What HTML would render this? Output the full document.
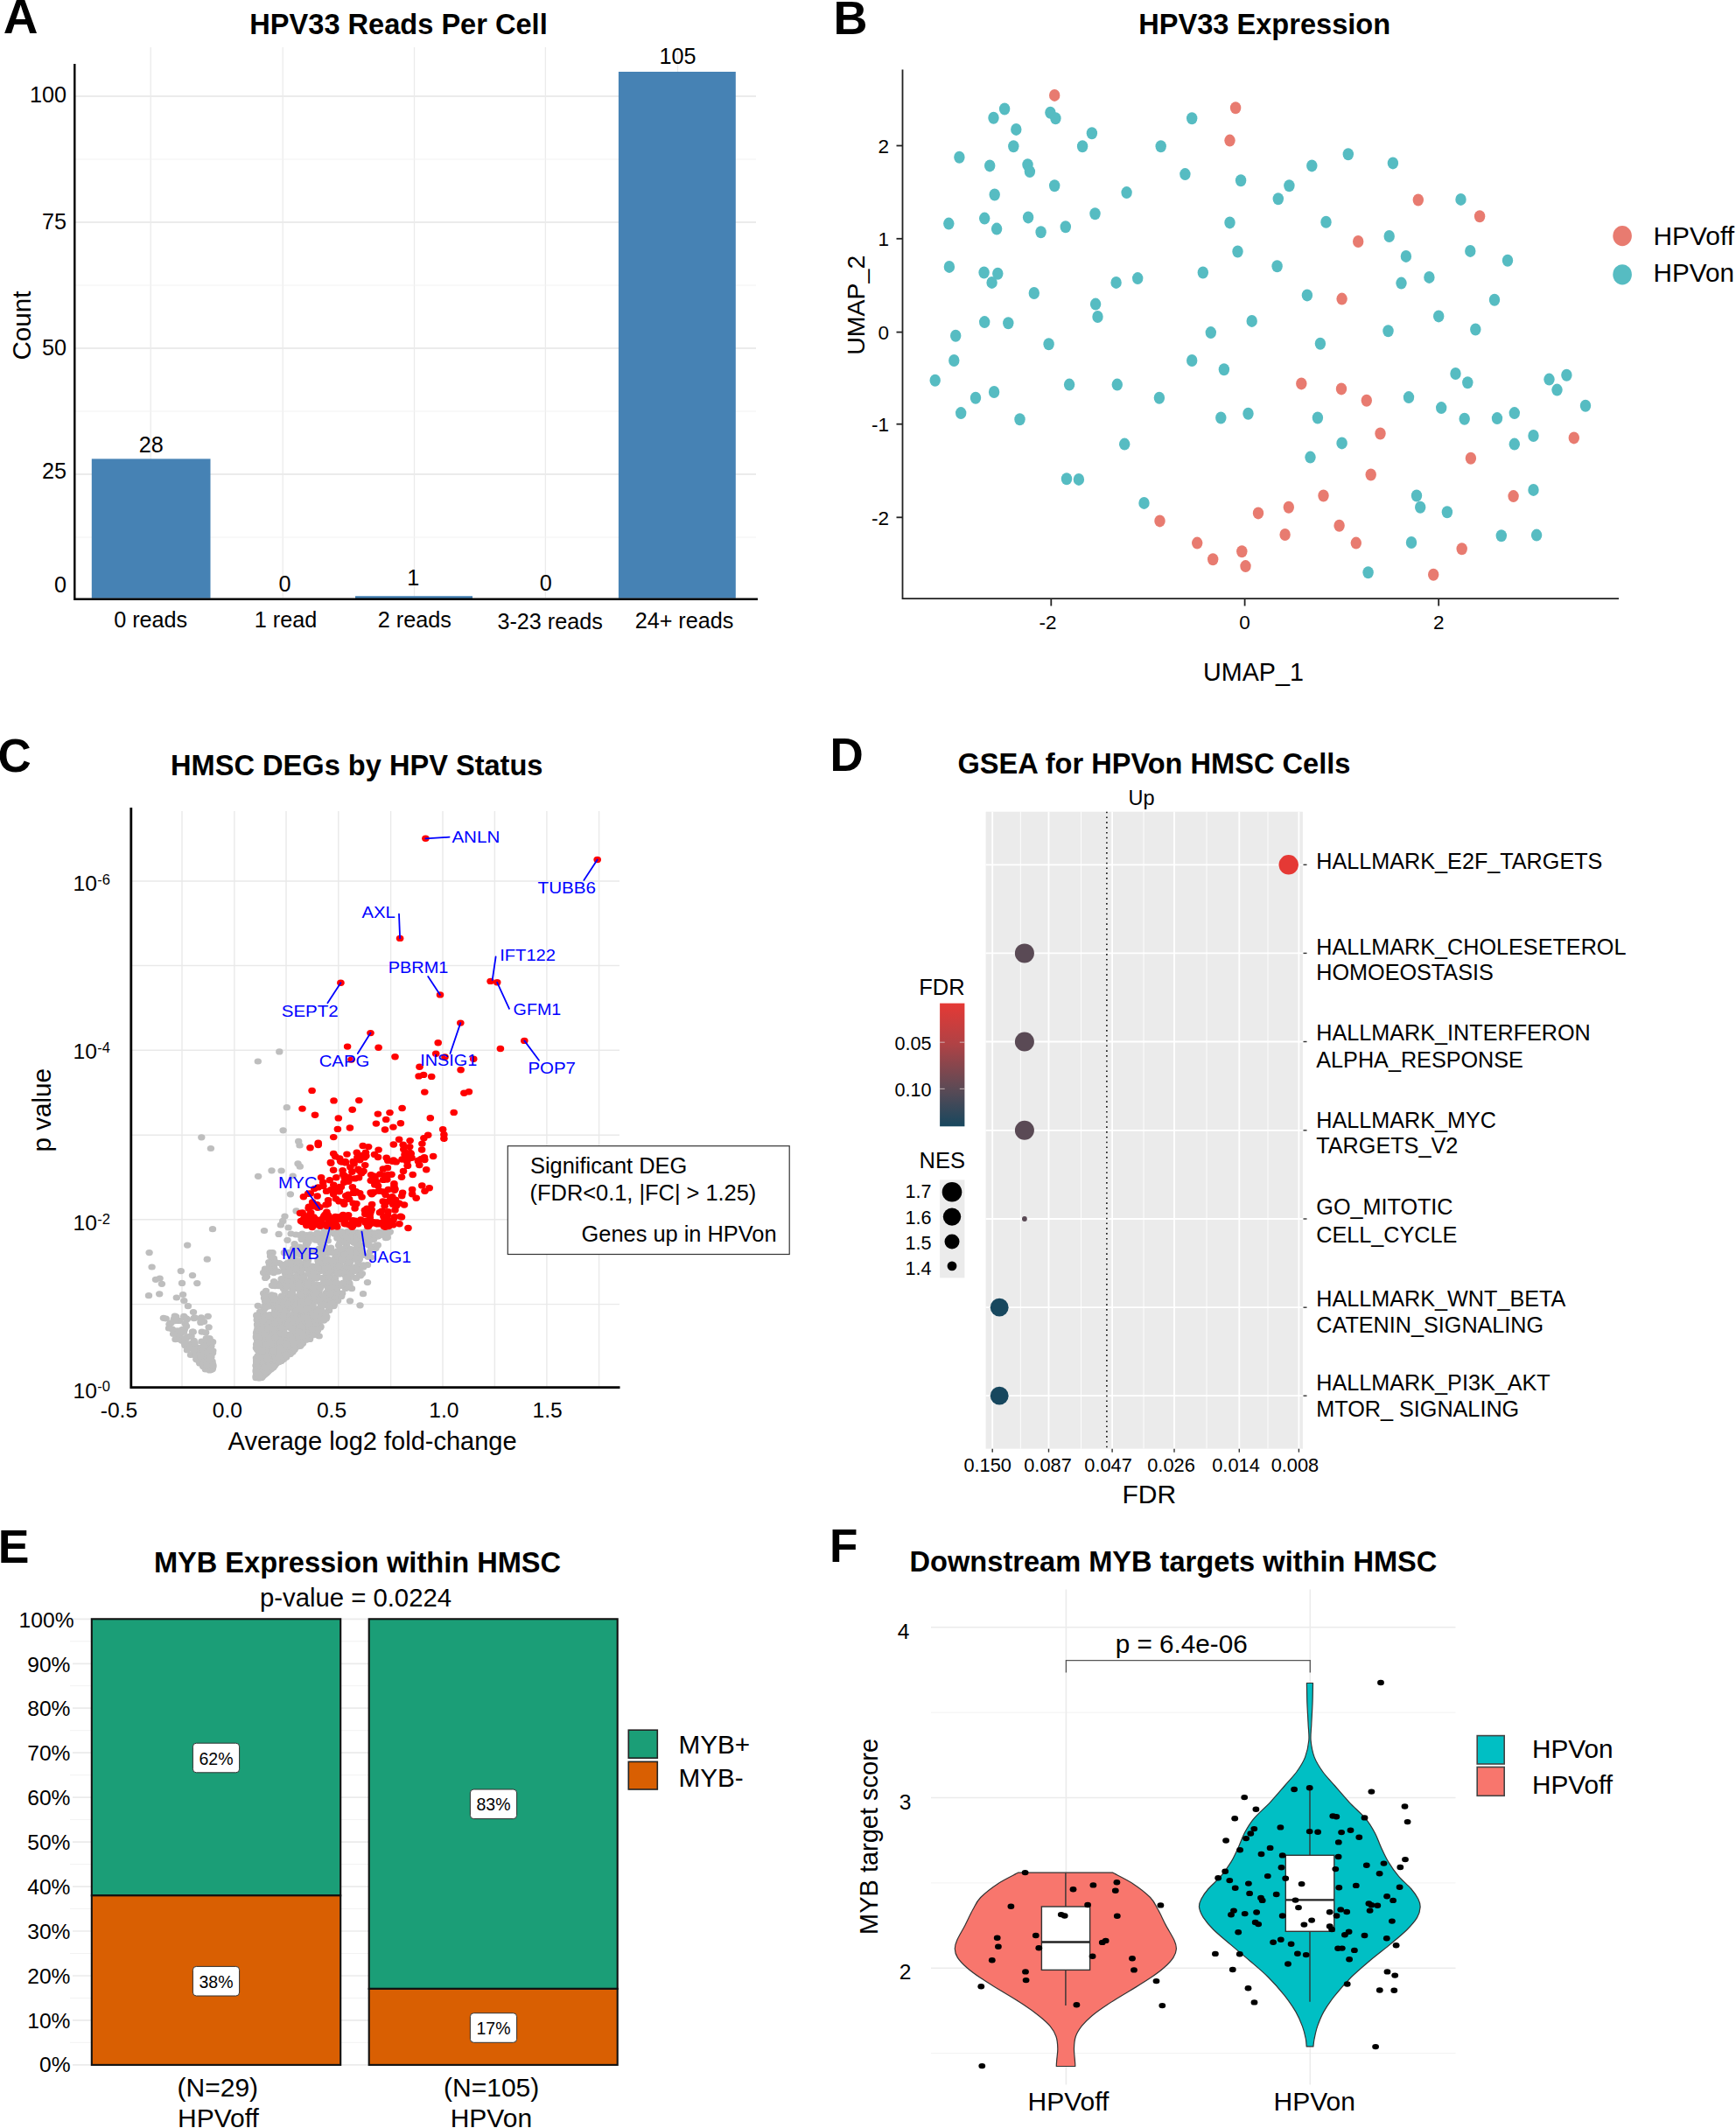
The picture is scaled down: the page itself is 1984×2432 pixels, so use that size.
<!DOCTYPE html>
<html lang="en"><head><meta charset="utf-8"><title>HPV33 HMSC figure</title>
<style>
html,body{margin:0;padding:0;background:#fff}
svg{display:block}
text{font-family:"Liberation Sans",sans-serif}
</style></head><body>
<svg width="1984" height="2432" viewBox="0 0 1984 2432">
<rect width="1984" height="2432" fill="#fff"/>
<g id="pA">
<g stroke="#ebebeb" fill="none">
<line x1="172.2" y1="54" x2="172.2" y2="683" stroke-width="1.3"/>
<line x1="323.2" y1="54" x2="323.2" y2="683" stroke-width="1.3"/>
<line x1="473.5" y1="54" x2="473.5" y2="683" stroke-width="1.3"/>
<line x1="623.4" y1="54" x2="623.4" y2="683" stroke-width="1.3"/>
<line x1="774.5" y1="54" x2="774.5" y2="683" stroke-width="1.3"/>
<line x1="86" y1="542.0" x2="864" y2="542.0" stroke-width="1.8"/>
<line x1="86" y1="398.0" x2="864" y2="398.0" stroke-width="1.8"/>
<line x1="86" y1="254.0" x2="864" y2="254.0" stroke-width="1.8"/>
<line x1="86" y1="110.0" x2="864" y2="110.0" stroke-width="1.8"/>
<line x1="86" y1="614.0" x2="864" y2="614.0" stroke-width="1" stroke="#f2f2f2"/>
<line x1="86" y1="470.0" x2="864" y2="470.0" stroke-width="1" stroke="#f2f2f2"/>
<line x1="86" y1="326.0" x2="864" y2="326.0" stroke-width="1" stroke="#f2f2f2"/>
<line x1="86" y1="182.0" x2="864" y2="182.0" stroke-width="1" stroke="#f2f2f2"/>
</g>
<rect x="104.8" y="524.4" width="135.7" height="159.3" fill="#4682b4"/>
<rect x="406" y="681.2" width="134" height="2.8" fill="#4682b4"/>
<rect x="706.9" y="82" width="133.9" height="601.7" fill="#4682b4"/>
<path d="M85.3 73 V684.8 H866" fill="none" stroke="#000" stroke-width="2.4"/>
<g font-size="25.2" fill="#000">
<text x="76" y="117" text-anchor="end">100</text>
<text x="76" y="261.5" text-anchor="end">75</text>
<text x="76" y="405.8" text-anchor="end">50</text>
<text x="76" y="546.9" text-anchor="end">25</text>
<text x="76" y="677.4" text-anchor="end">0</text>
<text x="172.8" y="516.6" text-anchor="middle">28</text>
<text x="325.5" y="676" text-anchor="middle">0</text>
<text x="472.3" y="669.3" text-anchor="middle">1</text>
<text x="623.7" y="675" text-anchor="middle">0</text>
<text x="774.5" y="73" text-anchor="middle">105</text>
<text x="172.2" y="716.8" text-anchor="middle">0 reads</text>
<text x="326.5" y="717.4" text-anchor="middle">1 read</text>
<text x="473.8" y="717.4" text-anchor="middle">2 reads</text>
<text x="628.6" y="719" text-anchor="middle">3-23 reads</text>
<text x="782" y="718.3" text-anchor="middle">24+ reads</text>
</g>
<text transform="translate(34.5 372) rotate(-90)" font-size="29.7" text-anchor="middle">Count</text>
<text x="455.5" y="38.6" font-size="32.6" font-weight="bold" text-anchor="middle">HPV33 Reads Per Cell</text>
<text x="3.8" y="37.9" font-size="55" font-weight="bold">A</text>
</g>
<g id="pB">
<g fill="#56bcc2"><ellipse cx="1148.1" cy="124.5" rx="6.2" ry="7"/><ellipse cx="1135.5" cy="134.7" rx="6.2" ry="7"/><ellipse cx="1200.4" cy="128.7" rx="6.2" ry="7"/><ellipse cx="1206.4" cy="135.3" rx="6.2" ry="7"/><ellipse cx="1161.3" cy="147.9" rx="6.2" ry="7"/><ellipse cx="1158.3" cy="167.2" rx="6.2" ry="7"/><ellipse cx="1247.9" cy="152.2" rx="6.2" ry="7"/><ellipse cx="1237.1" cy="167.2" rx="6.2" ry="7"/><ellipse cx="1362.2" cy="135.3" rx="6.2" ry="7"/><ellipse cx="1326.7" cy="167.2" rx="6.2" ry="7"/><ellipse cx="1096.4" cy="179.8" rx="6.2" ry="7"/><ellipse cx="1131.2" cy="189.4" rx="6.2" ry="7"/><ellipse cx="1174.5" cy="188.2" rx="6.2" ry="7"/><ellipse cx="1176.9" cy="196.1" rx="6.2" ry="7"/><ellipse cx="1354.4" cy="199.1" rx="6.2" ry="7"/><ellipse cx="1418.1" cy="206.3" rx="6.2" ry="7"/><ellipse cx="1205.2" cy="212.3" rx="6.2" ry="7"/><ellipse cx="1136.7" cy="222.5" rx="6.2" ry="7"/><ellipse cx="1287.6" cy="220.1" rx="6.2" ry="7"/><ellipse cx="1499.3" cy="189.4" rx="6.2" ry="7"/><ellipse cx="1540.8" cy="176.2" rx="6.2" ry="7"/><ellipse cx="1591.9" cy="186.4" rx="6.2" ry="7"/><ellipse cx="1473.4" cy="212.3" rx="6.2" ry="7"/><ellipse cx="1460.8" cy="227.3" rx="6.2" ry="7"/><ellipse cx="1669.5" cy="227.9" rx="6.2" ry="7"/><ellipse cx="1084.3" cy="255.6" rx="6.2" ry="7"/><ellipse cx="1125.2" cy="249.6" rx="6.2" ry="7"/><ellipse cx="1139.1" cy="261.6" rx="6.2" ry="7"/><ellipse cx="1175.1" cy="248.4" rx="6.2" ry="7"/><ellipse cx="1189.6" cy="265.2" rx="6.2" ry="7"/><ellipse cx="1217.8" cy="259.2" rx="6.2" ry="7"/><ellipse cx="1251.5" cy="244.2" rx="6.2" ry="7"/><ellipse cx="1405.5" cy="254.4" rx="6.2" ry="7"/><ellipse cx="1515.5" cy="253.8" rx="6.2" ry="7"/><ellipse cx="1587.7" cy="270.0" rx="6.2" ry="7"/><ellipse cx="1680.3" cy="286.9" rx="6.2" ry="7"/><ellipse cx="1606.9" cy="292.9" rx="6.2" ry="7"/><ellipse cx="1723.0" cy="297.7" rx="6.2" ry="7"/><ellipse cx="1414.5" cy="287.5" rx="6.2" ry="7"/><ellipse cx="1459.6" cy="304.3" rx="6.2" ry="7"/><ellipse cx="1374.8" cy="311.5" rx="6.2" ry="7"/><ellipse cx="1084.9" cy="304.9" rx="6.2" ry="7"/><ellipse cx="1124.6" cy="311.5" rx="6.2" ry="7"/><ellipse cx="1140.3" cy="312.7" rx="6.2" ry="7"/><ellipse cx="1133.6" cy="322.9" rx="6.2" ry="7"/><ellipse cx="1181.8" cy="335.0" rx="6.2" ry="7"/><ellipse cx="1275.6" cy="322.9" rx="6.2" ry="7"/><ellipse cx="1300.2" cy="318.1" rx="6.2" ry="7"/><ellipse cx="1601.5" cy="323.6" rx="6.2" ry="7"/><ellipse cx="1633.4" cy="316.9" rx="6.2" ry="7"/><ellipse cx="1493.9" cy="337.4" rx="6.2" ry="7"/><ellipse cx="1708.0" cy="342.8" rx="6.2" ry="7"/><ellipse cx="1252.1" cy="347.6" rx="6.2" ry="7"/><ellipse cx="1254.5" cy="362.0" rx="6.2" ry="7"/><ellipse cx="1644.2" cy="361.4" rx="6.2" ry="7"/><ellipse cx="1125.2" cy="368.1" rx="6.2" ry="7"/><ellipse cx="1152.3" cy="369.3" rx="6.2" ry="7"/><ellipse cx="1430.7" cy="366.9" rx="6.2" ry="7"/><ellipse cx="1586.5" cy="378.3" rx="6.2" ry="7"/><ellipse cx="1686.3" cy="376.5" rx="6.2" ry="7"/><ellipse cx="1092.2" cy="383.7" rx="6.2" ry="7"/><ellipse cx="1383.8" cy="380.1" rx="6.2" ry="7"/><ellipse cx="1198.6" cy="393.3" rx="6.2" ry="7"/><ellipse cx="1508.9" cy="392.7" rx="6.2" ry="7"/><ellipse cx="1090.3" cy="412.0" rx="6.2" ry="7"/><ellipse cx="1362.2" cy="412.0" rx="6.2" ry="7"/><ellipse cx="1398.9" cy="422.2" rx="6.2" ry="7"/><ellipse cx="1068.7" cy="434.8" rx="6.2" ry="7"/><ellipse cx="1663.5" cy="427.0" rx="6.2" ry="7"/><ellipse cx="1677.3" cy="437.2" rx="6.2" ry="7"/><ellipse cx="1770.5" cy="433.6" rx="6.2" ry="7"/><ellipse cx="1790.4" cy="428.8" rx="6.2" ry="7"/><ellipse cx="1779.5" cy="445.6" rx="6.2" ry="7"/><ellipse cx="1136.1" cy="448.0" rx="6.2" ry="7"/><ellipse cx="1115.0" cy="454.7" rx="6.2" ry="7"/><ellipse cx="1222.1" cy="439.6" rx="6.2" ry="7"/><ellipse cx="1276.8" cy="439.6" rx="6.2" ry="7"/><ellipse cx="1324.9" cy="454.7" rx="6.2" ry="7"/><ellipse cx="1610.0" cy="454.1" rx="6.2" ry="7"/><ellipse cx="1812.0" cy="463.7" rx="6.2" ry="7"/><ellipse cx="1647.2" cy="466.1" rx="6.2" ry="7"/><ellipse cx="1098.2" cy="472.1" rx="6.2" ry="7"/><ellipse cx="1165.5" cy="479.3" rx="6.2" ry="7"/><ellipse cx="1395.3" cy="477.5" rx="6.2" ry="7"/><ellipse cx="1426.5" cy="472.7" rx="6.2" ry="7"/><ellipse cx="1505.9" cy="477.5" rx="6.2" ry="7"/><ellipse cx="1673.7" cy="478.7" rx="6.2" ry="7"/><ellipse cx="1711.0" cy="478.1" rx="6.2" ry="7"/><ellipse cx="1730.8" cy="472.1" rx="6.2" ry="7"/><ellipse cx="1752.5" cy="498.0" rx="6.2" ry="7"/><ellipse cx="1730.8" cy="507.6" rx="6.2" ry="7"/><ellipse cx="1533.6" cy="506.4" rx="6.2" ry="7"/><ellipse cx="1285.2" cy="507.6" rx="6.2" ry="7"/><ellipse cx="1497.5" cy="522.6" rx="6.2" ry="7"/><ellipse cx="1219.0" cy="547.3" rx="6.2" ry="7"/><ellipse cx="1232.9" cy="547.9" rx="6.2" ry="7"/><ellipse cx="1752.5" cy="559.9" rx="6.2" ry="7"/><ellipse cx="1619.0" cy="566.5" rx="6.2" ry="7"/><ellipse cx="1623.2" cy="579.7" rx="6.2" ry="7"/><ellipse cx="1307.5" cy="574.9" rx="6.2" ry="7"/><ellipse cx="1653.9" cy="585.2" rx="6.2" ry="7"/><ellipse cx="1715.8" cy="612.2" rx="6.2" ry="7"/><ellipse cx="1756.1" cy="611.6" rx="6.2" ry="7"/><ellipse cx="1613.0" cy="620.0" rx="6.2" ry="7"/><ellipse cx="1563.6" cy="654.3" rx="6.2" ry="7"/></g>
<g fill="#e87b70"><ellipse cx="1205.2" cy="108.9" rx="6.2" ry="7"/><ellipse cx="1412.1" cy="123.3" rx="6.2" ry="7"/><ellipse cx="1405.5" cy="160.6" rx="6.2" ry="7"/><ellipse cx="1620.8" cy="228.5" rx="6.2" ry="7"/><ellipse cx="1691.1" cy="247.2" rx="6.2" ry="7"/><ellipse cx="1552.2" cy="276.0" rx="6.2" ry="7"/><ellipse cx="1533.6" cy="341.6" rx="6.2" ry="7"/><ellipse cx="1487.3" cy="438.4" rx="6.2" ry="7"/><ellipse cx="1533.0" cy="444.4" rx="6.2" ry="7"/><ellipse cx="1561.8" cy="457.7" rx="6.2" ry="7"/><ellipse cx="1577.5" cy="495.5" rx="6.2" ry="7"/><ellipse cx="1798.8" cy="500.4" rx="6.2" ry="7"/><ellipse cx="1680.9" cy="523.8" rx="6.2" ry="7"/><ellipse cx="1566.7" cy="542.5" rx="6.2" ry="7"/><ellipse cx="1512.5" cy="566.5" rx="6.2" ry="7"/><ellipse cx="1729.6" cy="567.1" rx="6.2" ry="7"/><ellipse cx="1472.8" cy="579.7" rx="6.2" ry="7"/><ellipse cx="1438.0" cy="586.4" rx="6.2" ry="7"/><ellipse cx="1325.5" cy="595.4" rx="6.2" ry="7"/><ellipse cx="1530.6" cy="600.8" rx="6.2" ry="7"/><ellipse cx="1468.6" cy="611.0" rx="6.2" ry="7"/><ellipse cx="1368.2" cy="620.6" rx="6.2" ry="7"/><ellipse cx="1549.8" cy="620.6" rx="6.2" ry="7"/><ellipse cx="1670.7" cy="627.3" rx="6.2" ry="7"/><ellipse cx="1419.3" cy="630.3" rx="6.2" ry="7"/><ellipse cx="1386.2" cy="639.3" rx="6.2" ry="7"/><ellipse cx="1423.5" cy="647.1" rx="6.2" ry="7"/><ellipse cx="1638.2" cy="656.7" rx="6.2" ry="7"/></g>
<path d="M1031.5 79.5 V684.2 H1850" fill="none" stroke="#222" stroke-width="1.8"/>
<g stroke="#222" stroke-width="1.8">
<line x1="1024.5" y1="166.5" x2="1031.5" y2="166.5"/>
<line x1="1024.5" y1="272.8" x2="1031.5" y2="272.8"/>
<line x1="1024.5" y1="379.6" x2="1031.5" y2="379.6"/>
<line x1="1024.5" y1="484.7" x2="1031.5" y2="484.7"/>
<line x1="1024.5" y1="591.3" x2="1031.5" y2="591.3"/>
<line x1="1201.3" y1="684" x2="1201.3" y2="692.5"/>
<line x1="1422.6" y1="684" x2="1422.6" y2="692.5"/>
<line x1="1644.2" y1="684" x2="1644.2" y2="692.5"/>
</g>
<g font-size="22.5">
<text x="1016" y="174.7" text-anchor="end">2</text>
<text x="1016" y="281.0" text-anchor="end">1</text>
<text x="1016" y="387.8" text-anchor="end">0</text>
<text x="1016" y="492.9" text-anchor="end">-1</text>
<text x="1016" y="599.5" text-anchor="end">-2</text>
<text x="1197.5" y="719.3" text-anchor="middle">-2</text>
<text x="1422.6" y="719.3" text-anchor="middle">0</text>
<text x="1644.2" y="719.3" text-anchor="middle">2</text>
</g>
<text x="1432.5" y="777.5" font-size="28.7" text-anchor="middle">UMAP_1</text>
<text transform="translate(987.5 348.8) rotate(-90)" font-size="28.5" text-anchor="middle">UMAP_2</text>
<text x="1445.2" y="39" font-size="32.6" font-weight="bold" text-anchor="middle">HPV33 Expression</text>
<text x="952.6" y="38.8" font-size="54" font-weight="bold">B</text>
<ellipse cx="1854.1" cy="269.6" rx="10.8" ry="11.6" fill="#e87b70"/>
<ellipse cx="1854.1" cy="313.8" rx="10.8" ry="11.6" fill="#56bcc2"/>
<text x="1889.5" y="279.9" font-size="29.9">HPVoff</text>
<text x="1889.5" y="321.5" font-size="29.7">HPVon</text>
</g>
<g id="pC">
<g stroke="#e9e9e9" stroke-width="1.4" fill="none">
<line x1="208" y1="927" x2="208" y2="1585"/>
<line x1="267.9" y1="927" x2="267.9" y2="1585"/>
<line x1="327" y1="927" x2="327" y2="1585"/>
<line x1="386.8" y1="927" x2="386.8" y2="1585"/>
<line x1="446.6" y1="927" x2="446.6" y2="1585"/>
<line x1="506" y1="927" x2="506" y2="1585"/>
<line x1="565.4" y1="927" x2="565.4" y2="1585"/>
<line x1="624.9" y1="927" x2="624.9" y2="1585"/>
<line x1="684.6" y1="927" x2="684.6" y2="1585"/>
<line x1="150" y1="1007" x2="708" y2="1007"/>
<line x1="150" y1="1103.5" x2="708" y2="1103.5"/>
<line x1="150" y1="1200.2" x2="708" y2="1200.2"/>
<line x1="150" y1="1297.2" x2="708" y2="1297.2"/>
<line x1="150" y1="1393.7" x2="708" y2="1393.7"/>
<line x1="150" y1="1490.6" x2="708" y2="1490.6"/>
</g>
<g fill="#bebebe"><ellipse cx="294.8" cy="1213.0" rx="4.2" ry="3.6"/><ellipse cx="319.3" cy="1201.9" rx="4.2" ry="3.6"/><ellipse cx="327.8" cy="1265.7" rx="4.2" ry="3.6"/><ellipse cx="323.6" cy="1291.8" rx="4.2" ry="3.6"/><ellipse cx="341.2" cy="1304.4" rx="4.2" ry="3.6"/><ellipse cx="342.5" cy="1309.0" rx="4.2" ry="3.6"/><ellipse cx="340.5" cy="1329.8" rx="4.2" ry="3.6"/><ellipse cx="342.8" cy="1333.2" rx="4.2" ry="3.6"/><ellipse cx="310.5" cy="1337.8" rx="4.2" ry="3.6"/><ellipse cx="321.6" cy="1338.0" rx="4.2" ry="3.6"/><ellipse cx="295.1" cy="1344.3" rx="4.2" ry="3.6"/><ellipse cx="334.7" cy="1344.0" rx="4.2" ry="3.6"/><ellipse cx="331.9" cy="1364.8" rx="4.2" ry="3.6"/><ellipse cx="338.6" cy="1383.9" rx="4.2" ry="3.6"/><ellipse cx="325.5" cy="1390.0" rx="4.2" ry="3.6"/><ellipse cx="323.2" cy="1395.4" rx="4.2" ry="3.6"/><ellipse cx="320.9" cy="1400.0" rx="4.2" ry="3.6"/><ellipse cx="329.6" cy="1403.0" rx="4.2" ry="3.6"/><ellipse cx="302.0" cy="1406.5" rx="4.2" ry="3.6"/><ellipse cx="318.6" cy="1410.4" rx="4.2" ry="3.6"/><ellipse cx="338.2" cy="1411.0" rx="4.2" ry="3.6"/><ellipse cx="230.3" cy="1299.8" rx="4.2" ry="3.6"/><ellipse cx="240.9" cy="1312.5" rx="4.2" ry="3.6"/><ellipse cx="243.0" cy="1404.7" rx="4.2" ry="3.6"/><ellipse cx="214.2" cy="1423.1" rx="4.2" ry="3.6"/><ellipse cx="170.6" cy="1431.6" rx="4.2" ry="3.6"/><ellipse cx="236.8" cy="1439.2" rx="4.2" ry="3.6"/><ellipse cx="173.6" cy="1448.0" rx="4.2" ry="3.6"/><ellipse cx="206.8" cy="1452.6" rx="4.2" ry="3.6"/><ellipse cx="220.0" cy="1457.6" rx="4.2" ry="3.6"/><ellipse cx="178.0" cy="1462.3" rx="4.2" ry="3.6"/><ellipse cx="182.6" cy="1461.0" rx="4.2" ry="3.6"/><ellipse cx="184.9" cy="1467.3" rx="4.2" ry="3.6"/><ellipse cx="208.0" cy="1466.4" rx="4.2" ry="3.6"/><ellipse cx="225.3" cy="1466.6" rx="4.2" ry="3.6"/><ellipse cx="170.0" cy="1480.7" rx="4.2" ry="3.6"/><ellipse cx="182.2" cy="1478.8" rx="4.2" ry="3.6"/><ellipse cx="201.8" cy="1483.0" rx="4.2" ry="3.6"/><ellipse cx="209.1" cy="1479.5" rx="4.2" ry="3.6"/><ellipse cx="210.3" cy="1486.5" rx="4.2" ry="3.6"/><ellipse cx="214.9" cy="1492.7" rx="4.2" ry="3.6"/><ellipse cx="420.0" cy="1465.6" rx="4.2" ry="3.6"/><ellipse cx="415.0" cy="1478.7" rx="4.2" ry="3.6"/><ellipse cx="411.5" cy="1491.8" rx="4.2" ry="3.6"/><ellipse cx="402.0" cy="1472.7" rx="4.2" ry="3.6"/><ellipse cx="400.0" cy="1486.8" rx="4.2" ry="3.6"/><ellipse cx="364.7" cy="1527.0" rx="4.2" ry="3.6"/><ellipse cx="221.0" cy="1499.5" rx="4.2" ry="3.6"/><ellipse cx="237.7" cy="1504.3" rx="4.2" ry="3.6"/><ellipse cx="222.6" cy="1505.9" rx="4.2" ry="3.6"/><ellipse cx="213.9" cy="1507.6" rx="4.2" ry="3.6"/><ellipse cx="212.5" cy="1506.7" rx="4.2" ry="3.6"/><ellipse cx="202.4" cy="1530.3" rx="4.2" ry="3.6"/><ellipse cx="235.8" cy="1529.7" rx="4.2" ry="3.6"/><ellipse cx="230.0" cy="1505.9" rx="4.2" ry="3.6"/><ellipse cx="227.0" cy="1554.4" rx="4.2" ry="3.6"/><ellipse cx="223.9" cy="1543.3" rx="4.2" ry="3.6"/><ellipse cx="189.7" cy="1507.0" rx="4.2" ry="3.6"/><ellipse cx="227.1" cy="1545.9" rx="4.2" ry="3.6"/><ellipse cx="224.6" cy="1539.9" rx="4.2" ry="3.6"/><ellipse cx="237.0" cy="1553.0" rx="4.2" ry="3.6"/><ellipse cx="225.3" cy="1549.0" rx="4.2" ry="3.6"/><ellipse cx="211.6" cy="1512.6" rx="4.2" ry="3.6"/><ellipse cx="236.6" cy="1545.1" rx="4.2" ry="3.6"/><ellipse cx="232.3" cy="1558.2" rx="4.2" ry="3.6"/><ellipse cx="229.2" cy="1540.4" rx="4.2" ry="3.6"/><ellipse cx="242.5" cy="1555.9" rx="4.2" ry="3.6"/><ellipse cx="243.3" cy="1543.8" rx="4.2" ry="3.6"/><ellipse cx="210.2" cy="1504.4" rx="4.2" ry="3.6"/><ellipse cx="228.2" cy="1557.9" rx="4.2" ry="3.6"/><ellipse cx="239.2" cy="1537.6" rx="4.2" ry="3.6"/><ellipse cx="231.2" cy="1557.4" rx="4.2" ry="3.6"/><ellipse cx="194.5" cy="1512.5" rx="4.2" ry="3.6"/><ellipse cx="229.9" cy="1546.5" rx="4.2" ry="3.6"/><ellipse cx="240.7" cy="1552.1" rx="4.2" ry="3.6"/><ellipse cx="215.4" cy="1527.7" rx="4.2" ry="3.6"/><ellipse cx="213.9" cy="1543.0" rx="4.2" ry="3.6"/><ellipse cx="186.9" cy="1506.3" rx="4.2" ry="3.6"/><ellipse cx="205.0" cy="1509.4" rx="4.2" ry="3.6"/><ellipse cx="237.2" cy="1558.1" rx="4.2" ry="3.6"/><ellipse cx="221.7" cy="1532.4" rx="4.2" ry="3.6"/><ellipse cx="203.9" cy="1509.4" rx="4.2" ry="3.6"/><ellipse cx="227.3" cy="1555.2" rx="4.2" ry="3.6"/><ellipse cx="238.0" cy="1562.9" rx="4.2" ry="3.6"/><ellipse cx="242.1" cy="1564.6" rx="4.2" ry="3.6"/><ellipse cx="208.1" cy="1519.5" rx="4.2" ry="3.6"/><ellipse cx="232.8" cy="1551.6" rx="4.2" ry="3.6"/><ellipse cx="242.0" cy="1565.1" rx="4.2" ry="3.6"/><ellipse cx="238.3" cy="1554.6" rx="4.2" ry="3.6"/><ellipse cx="218.4" cy="1535.6" rx="4.2" ry="3.6"/><ellipse cx="201.2" cy="1504.8" rx="4.2" ry="3.6"/><ellipse cx="242.3" cy="1546.6" rx="4.2" ry="3.6"/><ellipse cx="243.4" cy="1562.0" rx="4.2" ry="3.6"/><ellipse cx="205.7" cy="1526.0" rx="4.2" ry="3.6"/><ellipse cx="241.1" cy="1559.7" rx="4.2" ry="3.6"/><ellipse cx="237.4" cy="1544.1" rx="4.2" ry="3.6"/><ellipse cx="240.8" cy="1544.6" rx="4.2" ry="3.6"/><ellipse cx="230.8" cy="1550.3" rx="4.2" ry="3.6"/><ellipse cx="229.0" cy="1552.7" rx="4.2" ry="3.6"/><ellipse cx="237.0" cy="1564.2" rx="4.2" ry="3.6"/><ellipse cx="240.2" cy="1562.6" rx="4.2" ry="3.6"/><ellipse cx="225.8" cy="1553.8" rx="4.2" ry="3.6"/><ellipse cx="240.0" cy="1564.8" rx="4.2" ry="3.6"/><ellipse cx="211.4" cy="1537.6" rx="4.2" ry="3.6"/><ellipse cx="239.7" cy="1564.2" rx="4.2" ry="3.6"/><ellipse cx="236.3" cy="1561.8" rx="4.2" ry="3.6"/><ellipse cx="228.2" cy="1555.0" rx="4.2" ry="3.6"/><ellipse cx="210.9" cy="1519.3" rx="4.2" ry="3.6"/><ellipse cx="234.3" cy="1560.3" rx="4.2" ry="3.6"/><ellipse cx="240.2" cy="1539.8" rx="4.2" ry="3.6"/><ellipse cx="236.7" cy="1560.8" rx="4.2" ry="3.6"/><ellipse cx="218.9" cy="1538.1" rx="4.2" ry="3.6"/><ellipse cx="235.6" cy="1538.0" rx="4.2" ry="3.6"/><ellipse cx="216.3" cy="1538.3" rx="4.2" ry="3.6"/><ellipse cx="232.3" cy="1551.7" rx="4.2" ry="3.6"/><ellipse cx="241.4" cy="1550.9" rx="4.2" ry="3.6"/><ellipse cx="227.2" cy="1541.6" rx="4.2" ry="3.6"/><ellipse cx="228.2" cy="1546.6" rx="4.2" ry="3.6"/><ellipse cx="241.1" cy="1533.1" rx="4.2" ry="3.6"/><ellipse cx="242.6" cy="1558.2" rx="4.2" ry="3.6"/><ellipse cx="241.4" cy="1538.2" rx="4.2" ry="3.6"/><ellipse cx="198.8" cy="1507.6" rx="4.2" ry="3.6"/><ellipse cx="238.6" cy="1516.8" rx="4.2" ry="3.6"/><ellipse cx="243.1" cy="1533.7" rx="4.2" ry="3.6"/><ellipse cx="203.2" cy="1524.4" rx="4.2" ry="3.6"/><ellipse cx="218.0" cy="1548.5" rx="4.2" ry="3.6"/><ellipse cx="200.5" cy="1530.7" rx="4.2" ry="3.6"/><ellipse cx="227.8" cy="1542.3" rx="4.2" ry="3.6"/><ellipse cx="241.4" cy="1565.1" rx="4.2" ry="3.6"/><ellipse cx="199.8" cy="1509.6" rx="4.2" ry="3.6"/><ellipse cx="227.1" cy="1552.1" rx="4.2" ry="3.6"/><ellipse cx="239.5" cy="1529.6" rx="4.2" ry="3.6"/><ellipse cx="232.8" cy="1538.9" rx="4.2" ry="3.6"/><ellipse cx="221.6" cy="1506.6" rx="4.2" ry="3.6"/><ellipse cx="224.3" cy="1553.5" rx="4.2" ry="3.6"/><ellipse cx="230.6" cy="1507.2" rx="4.2" ry="3.6"/><ellipse cx="193.0" cy="1518.0" rx="4.2" ry="3.6"/><ellipse cx="230.7" cy="1522.2" rx="4.2" ry="3.6"/><ellipse cx="210.6" cy="1534.5" rx="4.2" ry="3.6"/><ellipse cx="199.8" cy="1504.1" rx="4.2" ry="3.6"/><ellipse cx="232.1" cy="1549.2" rx="4.2" ry="3.6"/><ellipse cx="240.8" cy="1532.9" rx="4.2" ry="3.6"/><ellipse cx="232.2" cy="1554.6" rx="4.2" ry="3.6"/><ellipse cx="232.0" cy="1555.6" rx="4.2" ry="3.6"/><ellipse cx="243.0" cy="1546.3" rx="4.2" ry="3.6"/><ellipse cx="237.9" cy="1555.4" rx="4.2" ry="3.6"/><ellipse cx="213.5" cy="1528.5" rx="4.2" ry="3.6"/><ellipse cx="196.9" cy="1519.1" rx="4.2" ry="3.6"/><ellipse cx="241.1" cy="1556.0" rx="4.2" ry="3.6"/><ellipse cx="202.6" cy="1520.8" rx="4.2" ry="3.6"/><ellipse cx="207.6" cy="1531.9" rx="4.2" ry="3.6"/><ellipse cx="210.0" cy="1522.5" rx="4.2" ry="3.6"/><ellipse cx="218.6" cy="1527.0" rx="4.2" ry="3.6"/><ellipse cx="213.0" cy="1515.7" rx="4.2" ry="3.6"/><ellipse cx="235.2" cy="1550.3" rx="4.2" ry="3.6"/><ellipse cx="233.7" cy="1558.4" rx="4.2" ry="3.6"/><ellipse cx="234.9" cy="1565.0" rx="4.2" ry="3.6"/><ellipse cx="237.8" cy="1559.2" rx="4.2" ry="3.6"/><ellipse cx="226.0" cy="1554.2" rx="4.2" ry="3.6"/><ellipse cx="236.9" cy="1534.8" rx="4.2" ry="3.6"/><ellipse cx="235.4" cy="1555.1" rx="4.2" ry="3.6"/><ellipse cx="234.8" cy="1546.0" rx="4.2" ry="3.6"/><ellipse cx="231.6" cy="1542.5" rx="4.2" ry="3.6"/><ellipse cx="231.4" cy="1550.1" rx="4.2" ry="3.6"/><ellipse cx="223.2" cy="1548.9" rx="4.2" ry="3.6"/><ellipse cx="238.2" cy="1564.5" rx="4.2" ry="3.6"/><ellipse cx="230.4" cy="1533.2" rx="4.2" ry="3.6"/><ellipse cx="231.8" cy="1541.9" rx="4.2" ry="3.6"/><ellipse cx="220.7" cy="1522.2" rx="4.2" ry="3.6"/><ellipse cx="234.5" cy="1546.6" rx="4.2" ry="3.6"/><ellipse cx="222.6" cy="1535.5" rx="4.2" ry="3.6"/><ellipse cx="233.1" cy="1510.5" rx="4.2" ry="3.6"/><ellipse cx="242.8" cy="1564.6" rx="4.2" ry="3.6"/><ellipse cx="211.9" cy="1531.3" rx="4.2" ry="3.6"/><ellipse cx="234.1" cy="1562.6" rx="4.2" ry="3.6"/><ellipse cx="229.4" cy="1511.4" rx="4.2" ry="3.6"/><ellipse cx="238.9" cy="1558.9" rx="4.2" ry="3.6"/><ellipse cx="235.8" cy="1559.6" rx="4.2" ry="3.6"/><ellipse cx="235.2" cy="1522.9" rx="4.2" ry="3.6"/><ellipse cx="239.6" cy="1550.3" rx="4.2" ry="3.6"/><ellipse cx="239.7" cy="1561.4" rx="4.2" ry="3.6"/><ellipse cx="239.6" cy="1565.9" rx="4.2" ry="3.6"/><ellipse cx="211.2" cy="1530.0" rx="4.2" ry="3.6"/><ellipse cx="229.7" cy="1509.4" rx="4.2" ry="3.6"/><ellipse cx="234.1" cy="1561.9" rx="4.2" ry="3.6"/><ellipse cx="211.7" cy="1535.2" rx="4.2" ry="3.6"/><ellipse cx="242.2" cy="1563.2" rx="4.2" ry="3.6"/><ellipse cx="240.8" cy="1542.7" rx="4.2" ry="3.6"/><ellipse cx="233.2" cy="1537.6" rx="4.2" ry="3.6"/><ellipse cx="229.6" cy="1549.1" rx="4.2" ry="3.6"/><ellipse cx="221.4" cy="1543.6" rx="4.2" ry="3.6"/><ellipse cx="232.1" cy="1561.4" rx="4.2" ry="3.6"/><ellipse cx="235.7" cy="1564.5" rx="4.2" ry="3.6"/><ellipse cx="220.0" cy="1522.0" rx="4.2" ry="3.6"/><ellipse cx="193.5" cy="1513.5" rx="4.2" ry="3.6"/><ellipse cx="236.2" cy="1560.1" rx="4.2" ry="3.6"/><ellipse cx="243.4" cy="1560.1" rx="4.2" ry="3.6"/><ellipse cx="195.5" cy="1511.8" rx="4.2" ry="3.6"/><ellipse cx="198.1" cy="1524.5" rx="4.2" ry="3.6"/><ellipse cx="229.2" cy="1550.2" rx="4.2" ry="3.6"/><ellipse cx="325.9" cy="1495.5" rx="4.2" ry="3.6"/><ellipse cx="369.3" cy="1429.0" rx="4.2" ry="3.6"/><ellipse cx="299.9" cy="1552.1" rx="4.2" ry="3.6"/><ellipse cx="349.2" cy="1449.5" rx="4.2" ry="3.6"/><ellipse cx="304.5" cy="1567.3" rx="4.2" ry="3.6"/><ellipse cx="305.1" cy="1557.6" rx="4.2" ry="3.6"/><ellipse cx="328.0" cy="1545.9" rx="4.2" ry="3.6"/><ellipse cx="313.4" cy="1449.5" rx="4.2" ry="3.6"/><ellipse cx="352.8" cy="1495.2" rx="4.2" ry="3.6"/><ellipse cx="334.3" cy="1528.5" rx="4.2" ry="3.6"/><ellipse cx="345.8" cy="1484.4" rx="4.2" ry="3.6"/><ellipse cx="304.4" cy="1538.6" rx="4.2" ry="3.6"/><ellipse cx="315.6" cy="1515.8" rx="4.2" ry="3.6"/><ellipse cx="378.2" cy="1450.0" rx="4.2" ry="3.6"/><ellipse cx="324.4" cy="1505.3" rx="4.2" ry="3.6"/><ellipse cx="293.7" cy="1508.4" rx="4.2" ry="3.6"/><ellipse cx="306.4" cy="1555.6" rx="4.2" ry="3.6"/><ellipse cx="323.0" cy="1520.6" rx="4.2" ry="3.6"/><ellipse cx="360.0" cy="1519.4" rx="4.2" ry="3.6"/><ellipse cx="358.4" cy="1413.7" rx="4.2" ry="3.6"/><ellipse cx="306.9" cy="1522.0" rx="4.2" ry="3.6"/><ellipse cx="323.0" cy="1531.4" rx="4.2" ry="3.6"/><ellipse cx="296.1" cy="1570.0" rx="4.2" ry="3.6"/><ellipse cx="361.9" cy="1519.1" rx="4.2" ry="3.6"/><ellipse cx="311.6" cy="1431.7" rx="4.2" ry="3.6"/><ellipse cx="354.1" cy="1530.4" rx="4.2" ry="3.6"/><ellipse cx="294.6" cy="1532.6" rx="4.2" ry="3.6"/><ellipse cx="336.8" cy="1471.2" rx="4.2" ry="3.6"/><ellipse cx="399.3" cy="1466.7" rx="4.2" ry="3.6"/><ellipse cx="295.1" cy="1569.0" rx="4.2" ry="3.6"/><ellipse cx="327.3" cy="1545.2" rx="4.2" ry="3.6"/><ellipse cx="372.8" cy="1416.2" rx="4.2" ry="3.6"/><ellipse cx="296.7" cy="1561.6" rx="4.2" ry="3.6"/><ellipse cx="293.4" cy="1557.8" rx="4.2" ry="3.6"/><ellipse cx="326.5" cy="1543.6" rx="4.2" ry="3.6"/><ellipse cx="313.2" cy="1511.0" rx="4.2" ry="3.6"/><ellipse cx="330.2" cy="1460.9" rx="4.2" ry="3.6"/><ellipse cx="344.1" cy="1534.2" rx="4.2" ry="3.6"/><ellipse cx="293.0" cy="1565.5" rx="4.2" ry="3.6"/><ellipse cx="323.8" cy="1472.5" rx="4.2" ry="3.6"/><ellipse cx="377.6" cy="1490.4" rx="4.2" ry="3.6"/><ellipse cx="326.7" cy="1542.0" rx="4.2" ry="3.6"/><ellipse cx="324.5" cy="1537.1" rx="4.2" ry="3.6"/><ellipse cx="308.0" cy="1449.3" rx="4.2" ry="3.6"/><ellipse cx="320.4" cy="1500.3" rx="4.2" ry="3.6"/><ellipse cx="321.3" cy="1555.5" rx="4.2" ry="3.6"/><ellipse cx="322.7" cy="1526.5" rx="4.2" ry="3.6"/><ellipse cx="357.1" cy="1477.6" rx="4.2" ry="3.6"/><ellipse cx="341.8" cy="1532.9" rx="4.2" ry="3.6"/><ellipse cx="411.9" cy="1428.2" rx="4.2" ry="3.6"/><ellipse cx="323.8" cy="1502.7" rx="4.2" ry="3.6"/><ellipse cx="332.1" cy="1441.3" rx="4.2" ry="3.6"/><ellipse cx="414.7" cy="1433.6" rx="4.2" ry="3.6"/><ellipse cx="313.7" cy="1492.7" rx="4.2" ry="3.6"/><ellipse cx="366.2" cy="1517.1" rx="4.2" ry="3.6"/><ellipse cx="369.5" cy="1487.3" rx="4.2" ry="3.6"/><ellipse cx="293.5" cy="1560.7" rx="4.2" ry="3.6"/><ellipse cx="368.4" cy="1505.4" rx="4.2" ry="3.6"/><ellipse cx="307.3" cy="1552.6" rx="4.2" ry="3.6"/><ellipse cx="341.2" cy="1537.9" rx="4.2" ry="3.6"/><ellipse cx="342.4" cy="1507.6" rx="4.2" ry="3.6"/><ellipse cx="314.3" cy="1469.6" rx="4.2" ry="3.6"/><ellipse cx="373.3" cy="1450.6" rx="4.2" ry="3.6"/><ellipse cx="306.0" cy="1521.3" rx="4.2" ry="3.6"/><ellipse cx="400.3" cy="1442.0" rx="4.2" ry="3.6"/><ellipse cx="347.0" cy="1499.9" rx="4.2" ry="3.6"/><ellipse cx="390.3" cy="1435.3" rx="4.2" ry="3.6"/><ellipse cx="362.5" cy="1460.2" rx="4.2" ry="3.6"/><ellipse cx="380.9" cy="1477.5" rx="4.2" ry="3.6"/><ellipse cx="375.7" cy="1478.8" rx="4.2" ry="3.6"/><ellipse cx="306.1" cy="1555.4" rx="4.2" ry="3.6"/><ellipse cx="386.7" cy="1410.5" rx="4.2" ry="3.6"/><ellipse cx="294.7" cy="1559.9" rx="4.2" ry="3.6"/><ellipse cx="350.8" cy="1469.9" rx="4.2" ry="3.6"/><ellipse cx="294.9" cy="1569.5" rx="4.2" ry="3.6"/><ellipse cx="308.5" cy="1565.5" rx="4.2" ry="3.6"/><ellipse cx="307.9" cy="1559.0" rx="4.2" ry="3.6"/><ellipse cx="401.9" cy="1434.8" rx="4.2" ry="3.6"/><ellipse cx="326.8" cy="1494.5" rx="4.2" ry="3.6"/><ellipse cx="418.9" cy="1414.4" rx="4.2" ry="3.6"/><ellipse cx="336.6" cy="1508.1" rx="4.2" ry="3.6"/><ellipse cx="346.8" cy="1459.1" rx="4.2" ry="3.6"/><ellipse cx="359.8" cy="1479.1" rx="4.2" ry="3.6"/><ellipse cx="314.5" cy="1489.7" rx="4.2" ry="3.6"/><ellipse cx="316.0" cy="1538.3" rx="4.2" ry="3.6"/><ellipse cx="303.0" cy="1487.0" rx="4.2" ry="3.6"/><ellipse cx="394.7" cy="1471.1" rx="4.2" ry="3.6"/><ellipse cx="327.2" cy="1551.1" rx="4.2" ry="3.6"/><ellipse cx="301.1" cy="1544.1" rx="4.2" ry="3.6"/><ellipse cx="415.8" cy="1434.5" rx="4.2" ry="3.6"/><ellipse cx="298.9" cy="1544.2" rx="4.2" ry="3.6"/><ellipse cx="297.0" cy="1561.6" rx="4.2" ry="3.6"/><ellipse cx="321.6" cy="1492.5" rx="4.2" ry="3.6"/><ellipse cx="356.7" cy="1521.5" rx="4.2" ry="3.6"/><ellipse cx="298.4" cy="1539.1" rx="4.2" ry="3.6"/><ellipse cx="320.1" cy="1514.3" rx="4.2" ry="3.6"/><ellipse cx="341.7" cy="1500.7" rx="4.2" ry="3.6"/><ellipse cx="377.3" cy="1473.8" rx="4.2" ry="3.6"/><ellipse cx="297.0" cy="1573.4" rx="4.2" ry="3.6"/><ellipse cx="316.6" cy="1535.7" rx="4.2" ry="3.6"/><ellipse cx="295.6" cy="1532.2" rx="4.2" ry="3.6"/><ellipse cx="346.6" cy="1505.8" rx="4.2" ry="3.6"/><ellipse cx="326.5" cy="1510.9" rx="4.2" ry="3.6"/><ellipse cx="296.1" cy="1557.6" rx="4.2" ry="3.6"/><ellipse cx="294.5" cy="1517.1" rx="4.2" ry="3.6"/><ellipse cx="372.7" cy="1445.5" rx="4.2" ry="3.6"/><ellipse cx="378.8" cy="1442.1" rx="4.2" ry="3.6"/><ellipse cx="422.8" cy="1430.5" rx="4.2" ry="3.6"/><ellipse cx="317.4" cy="1553.5" rx="4.2" ry="3.6"/><ellipse cx="322.1" cy="1501.9" rx="4.2" ry="3.6"/><ellipse cx="411.3" cy="1449.5" rx="4.2" ry="3.6"/><ellipse cx="328.1" cy="1496.8" rx="4.2" ry="3.6"/><ellipse cx="409.6" cy="1417.7" rx="4.2" ry="3.6"/><ellipse cx="372.4" cy="1500.0" rx="4.2" ry="3.6"/><ellipse cx="377.1" cy="1441.3" rx="4.2" ry="3.6"/><ellipse cx="354.0" cy="1515.1" rx="4.2" ry="3.6"/><ellipse cx="333.3" cy="1459.7" rx="4.2" ry="3.6"/><ellipse cx="314.4" cy="1556.5" rx="4.2" ry="3.6"/><ellipse cx="363.1" cy="1485.7" rx="4.2" ry="3.6"/><ellipse cx="313.1" cy="1445.7" rx="4.2" ry="3.6"/><ellipse cx="351.8" cy="1524.1" rx="4.2" ry="3.6"/><ellipse cx="366.3" cy="1452.4" rx="4.2" ry="3.6"/><ellipse cx="318.4" cy="1539.7" rx="4.2" ry="3.6"/><ellipse cx="365.4" cy="1515.2" rx="4.2" ry="3.6"/><ellipse cx="293.1" cy="1555.0" rx="4.2" ry="3.6"/><ellipse cx="311.8" cy="1532.6" rx="4.2" ry="3.6"/><ellipse cx="345.7" cy="1513.3" rx="4.2" ry="3.6"/><ellipse cx="297.1" cy="1571.5" rx="4.2" ry="3.6"/><ellipse cx="352.4" cy="1524.5" rx="4.2" ry="3.6"/><ellipse cx="329.0" cy="1529.0" rx="4.2" ry="3.6"/><ellipse cx="378.1" cy="1443.4" rx="4.2" ry="3.6"/><ellipse cx="296.0" cy="1560.1" rx="4.2" ry="3.6"/><ellipse cx="424.2" cy="1425.8" rx="4.2" ry="3.6"/><ellipse cx="308.7" cy="1431.7" rx="4.2" ry="3.6"/><ellipse cx="337.2" cy="1523.7" rx="4.2" ry="3.6"/><ellipse cx="296.7" cy="1531.0" rx="4.2" ry="3.6"/><ellipse cx="294.4" cy="1556.8" rx="4.2" ry="3.6"/><ellipse cx="313.8" cy="1560.7" rx="4.2" ry="3.6"/><ellipse cx="314.7" cy="1442.4" rx="4.2" ry="3.6"/><ellipse cx="322.4" cy="1549.6" rx="4.2" ry="3.6"/><ellipse cx="318.8" cy="1545.8" rx="4.2" ry="3.6"/><ellipse cx="340.6" cy="1442.2" rx="4.2" ry="3.6"/><ellipse cx="350.5" cy="1411.5" rx="4.2" ry="3.6"/><ellipse cx="316.9" cy="1527.5" rx="4.2" ry="3.6"/><ellipse cx="298.8" cy="1569.0" rx="4.2" ry="3.6"/><ellipse cx="295.3" cy="1511.3" rx="4.2" ry="3.6"/><ellipse cx="369.5" cy="1480.9" rx="4.2" ry="3.6"/><ellipse cx="329.5" cy="1525.7" rx="4.2" ry="3.6"/><ellipse cx="295.7" cy="1552.0" rx="4.2" ry="3.6"/><ellipse cx="346.0" cy="1535.3" rx="4.2" ry="3.6"/><ellipse cx="337.9" cy="1490.0" rx="4.2" ry="3.6"/><ellipse cx="363.9" cy="1438.8" rx="4.2" ry="3.6"/><ellipse cx="303.1" cy="1546.9" rx="4.2" ry="3.6"/><ellipse cx="408.6" cy="1421.5" rx="4.2" ry="3.6"/><ellipse cx="323.7" cy="1539.4" rx="4.2" ry="3.6"/><ellipse cx="420.8" cy="1422.4" rx="4.2" ry="3.6"/><ellipse cx="327.2" cy="1491.7" rx="4.2" ry="3.6"/><ellipse cx="357.2" cy="1447.0" rx="4.2" ry="3.6"/><ellipse cx="335.1" cy="1534.0" rx="4.2" ry="3.6"/><ellipse cx="334.1" cy="1466.2" rx="4.2" ry="3.6"/><ellipse cx="317.6" cy="1548.8" rx="4.2" ry="3.6"/><ellipse cx="303.2" cy="1504.7" rx="4.2" ry="3.6"/><ellipse cx="299.5" cy="1555.8" rx="4.2" ry="3.6"/><ellipse cx="356.4" cy="1462.5" rx="4.2" ry="3.6"/><ellipse cx="299.1" cy="1529.7" rx="4.2" ry="3.6"/><ellipse cx="327.7" cy="1540.7" rx="4.2" ry="3.6"/><ellipse cx="381.1" cy="1440.8" rx="4.2" ry="3.6"/><ellipse cx="349.2" cy="1442.5" rx="4.2" ry="3.6"/><ellipse cx="376.0" cy="1474.6" rx="4.2" ry="3.6"/><ellipse cx="350.1" cy="1491.6" rx="4.2" ry="3.6"/><ellipse cx="380.6" cy="1431.7" rx="4.2" ry="3.6"/><ellipse cx="346.8" cy="1531.7" rx="4.2" ry="3.6"/><ellipse cx="354.4" cy="1503.9" rx="4.2" ry="3.6"/><ellipse cx="329.1" cy="1537.3" rx="4.2" ry="3.6"/><ellipse cx="338.6" cy="1521.5" rx="4.2" ry="3.6"/><ellipse cx="369.3" cy="1460.3" rx="4.2" ry="3.6"/><ellipse cx="372.5" cy="1478.1" rx="4.2" ry="3.6"/><ellipse cx="312.0" cy="1513.1" rx="4.2" ry="3.6"/><ellipse cx="352.7" cy="1484.0" rx="4.2" ry="3.6"/><ellipse cx="359.6" cy="1520.8" rx="4.2" ry="3.6"/><ellipse cx="350.3" cy="1517.3" rx="4.2" ry="3.6"/><ellipse cx="382.2" cy="1489.8" rx="4.2" ry="3.6"/><ellipse cx="301.3" cy="1565.1" rx="4.2" ry="3.6"/><ellipse cx="337.3" cy="1504.0" rx="4.2" ry="3.6"/><ellipse cx="349.8" cy="1493.5" rx="4.2" ry="3.6"/><ellipse cx="329.0" cy="1495.1" rx="4.2" ry="3.6"/><ellipse cx="386.0" cy="1443.1" rx="4.2" ry="3.6"/><ellipse cx="299.4" cy="1535.4" rx="4.2" ry="3.6"/><ellipse cx="364.2" cy="1478.2" rx="4.2" ry="3.6"/><ellipse cx="301.5" cy="1565.0" rx="4.2" ry="3.6"/><ellipse cx="310.8" cy="1541.8" rx="4.2" ry="3.6"/><ellipse cx="328.5" cy="1513.9" rx="4.2" ry="3.6"/><ellipse cx="420.0" cy="1445.7" rx="4.2" ry="3.6"/><ellipse cx="354.7" cy="1514.7" rx="4.2" ry="3.6"/><ellipse cx="320.7" cy="1486.2" rx="4.2" ry="3.6"/><ellipse cx="410.7" cy="1428.9" rx="4.2" ry="3.6"/><ellipse cx="302.3" cy="1550.1" rx="4.2" ry="3.6"/><ellipse cx="352.2" cy="1450.3" rx="4.2" ry="3.6"/><ellipse cx="408.2" cy="1408.5" rx="4.2" ry="3.6"/><ellipse cx="337.2" cy="1448.9" rx="4.2" ry="3.6"/><ellipse cx="357.4" cy="1479.6" rx="4.2" ry="3.6"/><ellipse cx="299.7" cy="1538.9" rx="4.2" ry="3.6"/><ellipse cx="294.0" cy="1513.7" rx="4.2" ry="3.6"/><ellipse cx="302.1" cy="1566.9" rx="4.2" ry="3.6"/><ellipse cx="310.6" cy="1537.6" rx="4.2" ry="3.6"/><ellipse cx="312.1" cy="1559.0" rx="4.2" ry="3.6"/><ellipse cx="309.3" cy="1556.8" rx="4.2" ry="3.6"/><ellipse cx="357.6" cy="1519.6" rx="4.2" ry="3.6"/><ellipse cx="300.3" cy="1548.1" rx="4.2" ry="3.6"/><ellipse cx="357.3" cy="1496.6" rx="4.2" ry="3.6"/><ellipse cx="308.8" cy="1555.4" rx="4.2" ry="3.6"/><ellipse cx="370.7" cy="1417.8" rx="4.2" ry="3.6"/><ellipse cx="338.5" cy="1490.1" rx="4.2" ry="3.6"/><ellipse cx="292.9" cy="1552.1" rx="4.2" ry="3.6"/><ellipse cx="346.0" cy="1486.1" rx="4.2" ry="3.6"/><ellipse cx="307.0" cy="1548.4" rx="4.2" ry="3.6"/><ellipse cx="293.5" cy="1568.4" rx="4.2" ry="3.6"/><ellipse cx="295.0" cy="1514.2" rx="4.2" ry="3.6"/><ellipse cx="359.0" cy="1522.0" rx="4.2" ry="3.6"/><ellipse cx="297.3" cy="1571.9" rx="4.2" ry="3.6"/><ellipse cx="293.5" cy="1557.9" rx="4.2" ry="3.6"/><ellipse cx="318.9" cy="1512.4" rx="4.2" ry="3.6"/><ellipse cx="348.1" cy="1469.1" rx="4.2" ry="3.6"/><ellipse cx="303.8" cy="1536.7" rx="4.2" ry="3.6"/><ellipse cx="350.0" cy="1478.5" rx="4.2" ry="3.6"/><ellipse cx="394.0" cy="1456.9" rx="4.2" ry="3.6"/><ellipse cx="317.4" cy="1492.1" rx="4.2" ry="3.6"/><ellipse cx="299.4" cy="1570.8" rx="4.2" ry="3.6"/><ellipse cx="334.0" cy="1463.3" rx="4.2" ry="3.6"/><ellipse cx="344.2" cy="1505.9" rx="4.2" ry="3.6"/><ellipse cx="297.2" cy="1499.1" rx="4.2" ry="3.6"/><ellipse cx="344.6" cy="1509.7" rx="4.2" ry="3.6"/><ellipse cx="306.9" cy="1559.9" rx="4.2" ry="3.6"/><ellipse cx="346.3" cy="1512.7" rx="4.2" ry="3.6"/><ellipse cx="307.9" cy="1521.7" rx="4.2" ry="3.6"/><ellipse cx="365.9" cy="1484.5" rx="4.2" ry="3.6"/><ellipse cx="307.4" cy="1560.7" rx="4.2" ry="3.6"/><ellipse cx="325.6" cy="1545.4" rx="4.2" ry="3.6"/><ellipse cx="336.7" cy="1451.1" rx="4.2" ry="3.6"/><ellipse cx="347.1" cy="1461.2" rx="4.2" ry="3.6"/><ellipse cx="293.6" cy="1564.0" rx="4.2" ry="3.6"/><ellipse cx="368.2" cy="1504.1" rx="4.2" ry="3.6"/><ellipse cx="367.2" cy="1410.4" rx="4.2" ry="3.6"/><ellipse cx="309.7" cy="1564.6" rx="4.2" ry="3.6"/><ellipse cx="319.2" cy="1443.5" rx="4.2" ry="3.6"/><ellipse cx="403.5" cy="1408.8" rx="4.2" ry="3.6"/><ellipse cx="293.6" cy="1569.4" rx="4.2" ry="3.6"/><ellipse cx="390.6" cy="1448.5" rx="4.2" ry="3.6"/><ellipse cx="409.9" cy="1416.4" rx="4.2" ry="3.6"/><ellipse cx="318.2" cy="1550.9" rx="4.2" ry="3.6"/><ellipse cx="347.1" cy="1513.0" rx="4.2" ry="3.6"/><ellipse cx="297.3" cy="1563.7" rx="4.2" ry="3.6"/><ellipse cx="293.5" cy="1527.8" rx="4.2" ry="3.6"/><ellipse cx="353.6" cy="1516.7" rx="4.2" ry="3.6"/><ellipse cx="380.7" cy="1459.9" rx="4.2" ry="3.6"/><ellipse cx="309.1" cy="1551.8" rx="4.2" ry="3.6"/><ellipse cx="358.2" cy="1469.4" rx="4.2" ry="3.6"/><ellipse cx="303.2" cy="1521.0" rx="4.2" ry="3.6"/><ellipse cx="365.7" cy="1468.7" rx="4.2" ry="3.6"/><ellipse cx="334.0" cy="1477.8" rx="4.2" ry="3.6"/><ellipse cx="305.1" cy="1565.8" rx="4.2" ry="3.6"/><ellipse cx="349.5" cy="1525.4" rx="4.2" ry="3.6"/><ellipse cx="370.0" cy="1509.2" rx="4.2" ry="3.6"/><ellipse cx="317.4" cy="1508.4" rx="4.2" ry="3.6"/><ellipse cx="303.2" cy="1556.3" rx="4.2" ry="3.6"/><ellipse cx="363.9" cy="1508.5" rx="4.2" ry="3.6"/><ellipse cx="353.1" cy="1478.6" rx="4.2" ry="3.6"/><ellipse cx="293.8" cy="1556.2" rx="4.2" ry="3.6"/><ellipse cx="331.0" cy="1543.6" rx="4.2" ry="3.6"/><ellipse cx="357.5" cy="1522.3" rx="4.2" ry="3.6"/><ellipse cx="375.3" cy="1447.1" rx="4.2" ry="3.6"/><ellipse cx="312.5" cy="1485.7" rx="4.2" ry="3.6"/><ellipse cx="337.9" cy="1533.4" rx="4.2" ry="3.6"/><ellipse cx="307.6" cy="1555.8" rx="4.2" ry="3.6"/><ellipse cx="308.1" cy="1506.4" rx="4.2" ry="3.6"/><ellipse cx="389.9" cy="1438.2" rx="4.2" ry="3.6"/><ellipse cx="326.3" cy="1502.3" rx="4.2" ry="3.6"/><ellipse cx="300.4" cy="1539.5" rx="4.2" ry="3.6"/><ellipse cx="354.5" cy="1465.6" rx="4.2" ry="3.6"/><ellipse cx="345.2" cy="1489.2" rx="4.2" ry="3.6"/><ellipse cx="314.4" cy="1538.1" rx="4.2" ry="3.6"/><ellipse cx="336.5" cy="1536.1" rx="4.2" ry="3.6"/><ellipse cx="304.6" cy="1450.4" rx="4.2" ry="3.6"/><ellipse cx="312.9" cy="1438.2" rx="4.2" ry="3.6"/><ellipse cx="365.9" cy="1501.1" rx="4.2" ry="3.6"/><ellipse cx="306.7" cy="1566.2" rx="4.2" ry="3.6"/><ellipse cx="324.5" cy="1507.9" rx="4.2" ry="3.6"/><ellipse cx="295.9" cy="1568.2" rx="4.2" ry="3.6"/><ellipse cx="364.9" cy="1515.0" rx="4.2" ry="3.6"/><ellipse cx="342.8" cy="1473.7" rx="4.2" ry="3.6"/><ellipse cx="304.5" cy="1569.3" rx="4.2" ry="3.6"/><ellipse cx="347.6" cy="1414.5" rx="4.2" ry="3.6"/><ellipse cx="315.2" cy="1558.8" rx="4.2" ry="3.6"/><ellipse cx="411.7" cy="1415.9" rx="4.2" ry="3.6"/><ellipse cx="366.5" cy="1516.0" rx="4.2" ry="3.6"/><ellipse cx="314.2" cy="1521.0" rx="4.2" ry="3.6"/><ellipse cx="298.6" cy="1534.6" rx="4.2" ry="3.6"/><ellipse cx="333.0" cy="1436.2" rx="4.2" ry="3.6"/><ellipse cx="293.7" cy="1521.2" rx="4.2" ry="3.6"/><ellipse cx="296.5" cy="1556.4" rx="4.2" ry="3.6"/><ellipse cx="327.5" cy="1512.9" rx="4.2" ry="3.6"/><ellipse cx="312.6" cy="1545.5" rx="4.2" ry="3.6"/><ellipse cx="332.8" cy="1431.8" rx="4.2" ry="3.6"/><ellipse cx="329.3" cy="1527.2" rx="4.2" ry="3.6"/><ellipse cx="301.1" cy="1553.4" rx="4.2" ry="3.6"/><ellipse cx="398.8" cy="1461.1" rx="4.2" ry="3.6"/><ellipse cx="293.1" cy="1571.4" rx="4.2" ry="3.6"/><ellipse cx="308.1" cy="1519.6" rx="4.2" ry="3.6"/><ellipse cx="329.6" cy="1455.8" rx="4.2" ry="3.6"/><ellipse cx="294.6" cy="1562.5" rx="4.2" ry="3.6"/><ellipse cx="294.1" cy="1557.7" rx="4.2" ry="3.6"/><ellipse cx="411.1" cy="1457.0" rx="4.2" ry="3.6"/><ellipse cx="308.1" cy="1542.8" rx="4.2" ry="3.6"/><ellipse cx="421.3" cy="1408.3" rx="4.2" ry="3.6"/><ellipse cx="371.4" cy="1444.5" rx="4.2" ry="3.6"/><ellipse cx="398.6" cy="1438.1" rx="4.2" ry="3.6"/><ellipse cx="311.2" cy="1440.9" rx="4.2" ry="3.6"/><ellipse cx="331.8" cy="1509.6" rx="4.2" ry="3.6"/><ellipse cx="377.2" cy="1442.4" rx="4.2" ry="3.6"/><ellipse cx="318.4" cy="1543.5" rx="4.2" ry="3.6"/><ellipse cx="403.0" cy="1419.0" rx="4.2" ry="3.6"/><ellipse cx="296.3" cy="1528.5" rx="4.2" ry="3.6"/><ellipse cx="374.2" cy="1487.6" rx="4.2" ry="3.6"/><ellipse cx="405.9" cy="1439.1" rx="4.2" ry="3.6"/><ellipse cx="349.9" cy="1435.3" rx="4.2" ry="3.6"/><ellipse cx="384.2" cy="1408.8" rx="4.2" ry="3.6"/><ellipse cx="330.0" cy="1544.4" rx="4.2" ry="3.6"/><ellipse cx="318.2" cy="1526.8" rx="4.2" ry="3.6"/><ellipse cx="339.7" cy="1490.6" rx="4.2" ry="3.6"/><ellipse cx="322.7" cy="1445.4" rx="4.2" ry="3.6"/><ellipse cx="400.6" cy="1449.8" rx="4.2" ry="3.6"/><ellipse cx="396.1" cy="1424.1" rx="4.2" ry="3.6"/><ellipse cx="392.1" cy="1411.0" rx="4.2" ry="3.6"/><ellipse cx="354.6" cy="1495.3" rx="4.2" ry="3.6"/><ellipse cx="315.6" cy="1553.2" rx="4.2" ry="3.6"/><ellipse cx="368.3" cy="1428.5" rx="4.2" ry="3.6"/><ellipse cx="327.5" cy="1495.8" rx="4.2" ry="3.6"/><ellipse cx="310.1" cy="1537.7" rx="4.2" ry="3.6"/><ellipse cx="334.4" cy="1542.3" rx="4.2" ry="3.6"/><ellipse cx="294.6" cy="1549.6" rx="4.2" ry="3.6"/><ellipse cx="305.1" cy="1568.0" rx="4.2" ry="3.6"/><ellipse cx="357.6" cy="1478.5" rx="4.2" ry="3.6"/><ellipse cx="294.8" cy="1492.3" rx="4.2" ry="3.6"/><ellipse cx="301.4" cy="1569.9" rx="4.2" ry="3.6"/><ellipse cx="354.4" cy="1513.7" rx="4.2" ry="3.6"/><ellipse cx="293.6" cy="1555.7" rx="4.2" ry="3.6"/><ellipse cx="381.2" cy="1452.4" rx="4.2" ry="3.6"/><ellipse cx="364.0" cy="1449.8" rx="4.2" ry="3.6"/><ellipse cx="296.8" cy="1566.8" rx="4.2" ry="3.6"/><ellipse cx="301.8" cy="1516.1" rx="4.2" ry="3.6"/><ellipse cx="299.6" cy="1567.7" rx="4.2" ry="3.6"/><ellipse cx="343.4" cy="1485.9" rx="4.2" ry="3.6"/><ellipse cx="325.6" cy="1475.9" rx="4.2" ry="3.6"/><ellipse cx="337.6" cy="1509.9" rx="4.2" ry="3.6"/><ellipse cx="389.8" cy="1441.6" rx="4.2" ry="3.6"/><ellipse cx="344.9" cy="1499.5" rx="4.2" ry="3.6"/><ellipse cx="326.8" cy="1459.9" rx="4.2" ry="3.6"/><ellipse cx="327.0" cy="1493.6" rx="4.2" ry="3.6"/><ellipse cx="368.9" cy="1447.8" rx="4.2" ry="3.6"/><ellipse cx="413.9" cy="1455.6" rx="4.2" ry="3.6"/><ellipse cx="301.0" cy="1536.9" rx="4.2" ry="3.6"/><ellipse cx="306.6" cy="1553.5" rx="4.2" ry="3.6"/><ellipse cx="302.0" cy="1531.4" rx="4.2" ry="3.6"/><ellipse cx="370.0" cy="1466.9" rx="4.2" ry="3.6"/><ellipse cx="322.4" cy="1549.9" rx="4.2" ry="3.6"/><ellipse cx="337.4" cy="1531.4" rx="4.2" ry="3.6"/><ellipse cx="366.2" cy="1487.4" rx="4.2" ry="3.6"/><ellipse cx="295.4" cy="1560.8" rx="4.2" ry="3.6"/><ellipse cx="413.3" cy="1408.7" rx="4.2" ry="3.6"/><ellipse cx="372.9" cy="1477.8" rx="4.2" ry="3.6"/><ellipse cx="322.7" cy="1509.4" rx="4.2" ry="3.6"/><ellipse cx="362.1" cy="1484.5" rx="4.2" ry="3.6"/><ellipse cx="353.6" cy="1473.2" rx="4.2" ry="3.6"/><ellipse cx="333.1" cy="1491.4" rx="4.2" ry="3.6"/><ellipse cx="300.0" cy="1505.1" rx="4.2" ry="3.6"/><ellipse cx="295.3" cy="1568.1" rx="4.2" ry="3.6"/><ellipse cx="292.8" cy="1560.1" rx="4.2" ry="3.6"/><ellipse cx="334.2" cy="1502.3" rx="4.2" ry="3.6"/><ellipse cx="320.8" cy="1537.2" rx="4.2" ry="3.6"/><ellipse cx="338.6" cy="1494.4" rx="4.2" ry="3.6"/><ellipse cx="334.1" cy="1473.0" rx="4.2" ry="3.6"/><ellipse cx="301.6" cy="1495.7" rx="4.2" ry="3.6"/><ellipse cx="353.1" cy="1474.9" rx="4.2" ry="3.6"/><ellipse cx="321.4" cy="1554.9" rx="4.2" ry="3.6"/><ellipse cx="354.8" cy="1481.5" rx="4.2" ry="3.6"/><ellipse cx="313.8" cy="1545.9" rx="4.2" ry="3.6"/><ellipse cx="311.0" cy="1557.4" rx="4.2" ry="3.6"/><ellipse cx="299.5" cy="1573.4" rx="4.2" ry="3.6"/><ellipse cx="309.9" cy="1492.3" rx="4.2" ry="3.6"/><ellipse cx="338.9" cy="1513.2" rx="4.2" ry="3.6"/><ellipse cx="297.1" cy="1574.0" rx="4.2" ry="3.6"/><ellipse cx="374.1" cy="1476.7" rx="4.2" ry="3.6"/><ellipse cx="293.1" cy="1523.3" rx="4.2" ry="3.6"/><ellipse cx="314.8" cy="1548.6" rx="4.2" ry="3.6"/><ellipse cx="363.5" cy="1440.8" rx="4.2" ry="3.6"/><ellipse cx="377.4" cy="1452.4" rx="4.2" ry="3.6"/><ellipse cx="296.3" cy="1574.5" rx="4.2" ry="3.6"/><ellipse cx="365.2" cy="1495.3" rx="4.2" ry="3.6"/><ellipse cx="295.5" cy="1542.7" rx="4.2" ry="3.6"/><ellipse cx="309.8" cy="1536.7" rx="4.2" ry="3.6"/><ellipse cx="317.5" cy="1467.1" rx="4.2" ry="3.6"/><ellipse cx="346.9" cy="1466.3" rx="4.2" ry="3.6"/><ellipse cx="423.8" cy="1417.1" rx="4.2" ry="3.6"/><ellipse cx="298.3" cy="1568.3" rx="4.2" ry="3.6"/><ellipse cx="303.7" cy="1550.7" rx="4.2" ry="3.6"/><ellipse cx="305.8" cy="1544.3" rx="4.2" ry="3.6"/><ellipse cx="299.0" cy="1568.3" rx="4.2" ry="3.6"/><ellipse cx="348.1" cy="1448.6" rx="4.2" ry="3.6"/><ellipse cx="366.1" cy="1488.9" rx="4.2" ry="3.6"/><ellipse cx="347.6" cy="1437.0" rx="4.2" ry="3.6"/><ellipse cx="295.8" cy="1570.2" rx="4.2" ry="3.6"/><ellipse cx="373.9" cy="1427.2" rx="4.2" ry="3.6"/><ellipse cx="304.0" cy="1475.3" rx="4.2" ry="3.6"/><ellipse cx="307.2" cy="1545.9" rx="4.2" ry="3.6"/><ellipse cx="337.1" cy="1439.9" rx="4.2" ry="3.6"/><ellipse cx="398.0" cy="1413.8" rx="4.2" ry="3.6"/><ellipse cx="392.3" cy="1434.0" rx="4.2" ry="3.6"/><ellipse cx="399.2" cy="1453.0" rx="4.2" ry="3.6"/><ellipse cx="374.7" cy="1482.0" rx="4.2" ry="3.6"/><ellipse cx="395.5" cy="1470.9" rx="4.2" ry="3.6"/><ellipse cx="300.0" cy="1566.8" rx="4.2" ry="3.6"/><ellipse cx="408.7" cy="1451.5" rx="4.2" ry="3.6"/><ellipse cx="324.9" cy="1469.5" rx="4.2" ry="3.6"/><ellipse cx="409.4" cy="1443.5" rx="4.2" ry="3.6"/><ellipse cx="341.2" cy="1493.7" rx="4.2" ry="3.6"/><ellipse cx="312.9" cy="1536.9" rx="4.2" ry="3.6"/><ellipse cx="318.6" cy="1502.8" rx="4.2" ry="3.6"/><ellipse cx="372.2" cy="1461.6" rx="4.2" ry="3.6"/><ellipse cx="323.0" cy="1501.9" rx="4.2" ry="3.6"/><ellipse cx="338.5" cy="1537.4" rx="4.2" ry="3.6"/><ellipse cx="340.4" cy="1430.1" rx="4.2" ry="3.6"/><ellipse cx="340.2" cy="1521.5" rx="4.2" ry="3.6"/><ellipse cx="361.3" cy="1476.9" rx="4.2" ry="3.6"/><ellipse cx="404.3" cy="1449.5" rx="4.2" ry="3.6"/><ellipse cx="306.8" cy="1513.0" rx="4.2" ry="3.6"/><ellipse cx="309.4" cy="1560.4" rx="4.2" ry="3.6"/><ellipse cx="339.1" cy="1441.1" rx="4.2" ry="3.6"/><ellipse cx="354.3" cy="1414.6" rx="4.2" ry="3.6"/><ellipse cx="407.3" cy="1438.0" rx="4.2" ry="3.6"/><ellipse cx="309.4" cy="1527.7" rx="4.2" ry="3.6"/><ellipse cx="317.5" cy="1522.3" rx="4.2" ry="3.6"/><ellipse cx="323.3" cy="1547.3" rx="4.2" ry="3.6"/><ellipse cx="420.4" cy="1415.2" rx="4.2" ry="3.6"/><ellipse cx="344.8" cy="1415.9" rx="4.2" ry="3.6"/><ellipse cx="302.9" cy="1540.2" rx="4.2" ry="3.6"/><ellipse cx="297.7" cy="1533.2" rx="4.2" ry="3.6"/><ellipse cx="342.6" cy="1531.3" rx="4.2" ry="3.6"/><ellipse cx="345.2" cy="1479.5" rx="4.2" ry="3.6"/><ellipse cx="401.5" cy="1429.3" rx="4.2" ry="3.6"/><ellipse cx="348.1" cy="1525.4" rx="4.2" ry="3.6"/><ellipse cx="314.2" cy="1498.8" rx="4.2" ry="3.6"/><ellipse cx="342.3" cy="1467.8" rx="4.2" ry="3.6"/><ellipse cx="310.0" cy="1519.9" rx="4.2" ry="3.6"/><ellipse cx="332.4" cy="1494.1" rx="4.2" ry="3.6"/><ellipse cx="375.5" cy="1431.7" rx="4.2" ry="3.6"/><ellipse cx="316.5" cy="1544.2" rx="4.2" ry="3.6"/><ellipse cx="386.3" cy="1436.3" rx="4.2" ry="3.6"/><ellipse cx="365.8" cy="1485.0" rx="4.2" ry="3.6"/><ellipse cx="389.0" cy="1440.9" rx="4.2" ry="3.6"/><ellipse cx="347.8" cy="1426.9" rx="4.2" ry="3.6"/><ellipse cx="317.1" cy="1468.6" rx="4.2" ry="3.6"/><ellipse cx="302.0" cy="1502.1" rx="4.2" ry="3.6"/><ellipse cx="313.4" cy="1480.5" rx="4.2" ry="3.6"/><ellipse cx="364.5" cy="1512.8" rx="4.2" ry="3.6"/><ellipse cx="330.3" cy="1450.0" rx="4.2" ry="3.6"/><ellipse cx="327.0" cy="1549.2" rx="4.2" ry="3.6"/><ellipse cx="334.1" cy="1539.0" rx="4.2" ry="3.6"/><ellipse cx="340.2" cy="1461.5" rx="4.2" ry="3.6"/><ellipse cx="383.9" cy="1469.7" rx="4.2" ry="3.6"/><ellipse cx="385.3" cy="1414.9" rx="4.2" ry="3.6"/><ellipse cx="322.7" cy="1544.9" rx="4.2" ry="3.6"/><ellipse cx="300.5" cy="1565.8" rx="4.2" ry="3.6"/><ellipse cx="396.0" cy="1421.4" rx="4.2" ry="3.6"/><ellipse cx="387.6" cy="1482.0" rx="4.2" ry="3.6"/><ellipse cx="369.9" cy="1414.7" rx="4.2" ry="3.6"/><ellipse cx="292.9" cy="1528.7" rx="4.2" ry="3.6"/><ellipse cx="320.2" cy="1550.8" rx="4.2" ry="3.6"/><ellipse cx="376.5" cy="1455.3" rx="4.2" ry="3.6"/><ellipse cx="329.1" cy="1478.3" rx="4.2" ry="3.6"/><ellipse cx="352.9" cy="1519.2" rx="4.2" ry="3.6"/><ellipse cx="321.9" cy="1502.1" rx="4.2" ry="3.6"/><ellipse cx="349.8" cy="1422.2" rx="4.2" ry="3.6"/><ellipse cx="302.6" cy="1570.2" rx="4.2" ry="3.6"/><ellipse cx="302.7" cy="1570.7" rx="4.2" ry="3.6"/><ellipse cx="295.3" cy="1543.5" rx="4.2" ry="3.6"/><ellipse cx="316.2" cy="1509.7" rx="4.2" ry="3.6"/><ellipse cx="299.4" cy="1567.1" rx="4.2" ry="3.6"/><ellipse cx="358.3" cy="1470.1" rx="4.2" ry="3.6"/><ellipse cx="342.0" cy="1496.5" rx="4.2" ry="3.6"/><ellipse cx="360.2" cy="1450.0" rx="4.2" ry="3.6"/><ellipse cx="371.3" cy="1445.8" rx="4.2" ry="3.6"/><ellipse cx="345.2" cy="1493.7" rx="4.2" ry="3.6"/><ellipse cx="311.0" cy="1552.2" rx="4.2" ry="3.6"/><ellipse cx="299.1" cy="1534.4" rx="4.2" ry="3.6"/><ellipse cx="299.3" cy="1528.5" rx="4.2" ry="3.6"/><ellipse cx="357.4" cy="1502.0" rx="4.2" ry="3.6"/><ellipse cx="295.7" cy="1537.6" rx="4.2" ry="3.6"/><ellipse cx="337.7" cy="1443.6" rx="4.2" ry="3.6"/><ellipse cx="382.1" cy="1479.1" rx="4.2" ry="3.6"/><ellipse cx="310.4" cy="1553.6" rx="4.2" ry="3.6"/><ellipse cx="298.0" cy="1553.4" rx="4.2" ry="3.6"/><ellipse cx="380.6" cy="1465.0" rx="4.2" ry="3.6"/><ellipse cx="297.7" cy="1545.9" rx="4.2" ry="3.6"/><ellipse cx="350.0" cy="1531.1" rx="4.2" ry="3.6"/><ellipse cx="389.6" cy="1415.3" rx="4.2" ry="3.6"/><ellipse cx="360.9" cy="1499.7" rx="4.2" ry="3.6"/><ellipse cx="306.2" cy="1562.5" rx="4.2" ry="3.6"/><ellipse cx="302.1" cy="1505.1" rx="4.2" ry="3.6"/><ellipse cx="407.8" cy="1426.4" rx="4.2" ry="3.6"/><ellipse cx="317.3" cy="1500.6" rx="4.2" ry="3.6"/><ellipse cx="352.1" cy="1497.9" rx="4.2" ry="3.6"/><ellipse cx="292.8" cy="1566.4" rx="4.2" ry="3.6"/><ellipse cx="294.3" cy="1541.7" rx="4.2" ry="3.6"/><ellipse cx="321.8" cy="1544.7" rx="4.2" ry="3.6"/><ellipse cx="384.8" cy="1473.7" rx="4.2" ry="3.6"/><ellipse cx="351.2" cy="1420.7" rx="4.2" ry="3.6"/><ellipse cx="308.4" cy="1557.3" rx="4.2" ry="3.6"/><ellipse cx="348.2" cy="1436.3" rx="4.2" ry="3.6"/><ellipse cx="324.6" cy="1504.4" rx="4.2" ry="3.6"/><ellipse cx="391.0" cy="1409.0" rx="4.2" ry="3.6"/><ellipse cx="332.3" cy="1453.5" rx="4.2" ry="3.6"/><ellipse cx="368.6" cy="1451.8" rx="4.2" ry="3.6"/><ellipse cx="306.0" cy="1567.8" rx="4.2" ry="3.6"/><ellipse cx="357.3" cy="1501.6" rx="4.2" ry="3.6"/><ellipse cx="325.6" cy="1537.3" rx="4.2" ry="3.6"/><ellipse cx="322.0" cy="1553.8" rx="4.2" ry="3.6"/><ellipse cx="349.7" cy="1493.0" rx="4.2" ry="3.6"/><ellipse cx="327.2" cy="1500.0" rx="4.2" ry="3.6"/><ellipse cx="327.0" cy="1488.4" rx="4.2" ry="3.6"/><ellipse cx="343.3" cy="1447.2" rx="4.2" ry="3.6"/><ellipse cx="425.4" cy="1409.2" rx="4.2" ry="3.6"/><ellipse cx="348.8" cy="1482.4" rx="4.2" ry="3.6"/><ellipse cx="380.7" cy="1459.5" rx="4.2" ry="3.6"/><ellipse cx="298.6" cy="1564.6" rx="4.2" ry="3.6"/><ellipse cx="299.4" cy="1505.4" rx="4.2" ry="3.6"/><ellipse cx="373.3" cy="1504.9" rx="4.2" ry="3.6"/><ellipse cx="315.0" cy="1537.3" rx="4.2" ry="3.6"/><ellipse cx="330.2" cy="1454.1" rx="4.2" ry="3.6"/><ellipse cx="349.9" cy="1444.5" rx="4.2" ry="3.6"/><ellipse cx="361.3" cy="1508.7" rx="4.2" ry="3.6"/><ellipse cx="299.2" cy="1508.4" rx="4.2" ry="3.6"/><ellipse cx="303.1" cy="1554.2" rx="4.2" ry="3.6"/><ellipse cx="362.4" cy="1514.9" rx="4.2" ry="3.6"/><ellipse cx="380.9" cy="1462.6" rx="4.2" ry="3.6"/><ellipse cx="364.2" cy="1475.7" rx="4.2" ry="3.6"/><ellipse cx="364.3" cy="1417.6" rx="4.2" ry="3.6"/><ellipse cx="318.5" cy="1512.6" rx="4.2" ry="3.6"/><ellipse cx="313.4" cy="1507.8" rx="4.2" ry="3.6"/><ellipse cx="293.0" cy="1572.9" rx="4.2" ry="3.6"/><ellipse cx="313.7" cy="1528.9" rx="4.2" ry="3.6"/><ellipse cx="411.1" cy="1423.0" rx="4.2" ry="3.6"/><ellipse cx="343.4" cy="1498.0" rx="4.2" ry="3.6"/><ellipse cx="337.1" cy="1517.8" rx="4.2" ry="3.6"/><ellipse cx="308.1" cy="1531.8" rx="4.2" ry="3.6"/><ellipse cx="334.8" cy="1535.5" rx="4.2" ry="3.6"/><ellipse cx="343.9" cy="1537.0" rx="4.2" ry="3.6"/><ellipse cx="350.0" cy="1517.4" rx="4.2" ry="3.6"/><ellipse cx="294.3" cy="1573.3" rx="4.2" ry="3.6"/><ellipse cx="374.8" cy="1418.0" rx="4.2" ry="3.6"/><ellipse cx="296.0" cy="1561.9" rx="4.2" ry="3.6"/><ellipse cx="305.1" cy="1537.9" rx="4.2" ry="3.6"/><ellipse cx="350.5" cy="1491.3" rx="4.2" ry="3.6"/><ellipse cx="314.1" cy="1541.7" rx="4.2" ry="3.6"/><ellipse cx="295.3" cy="1558.9" rx="4.2" ry="3.6"/><ellipse cx="392.1" cy="1418.9" rx="4.2" ry="3.6"/><ellipse cx="294.6" cy="1552.3" rx="4.2" ry="3.6"/><ellipse cx="310.0" cy="1512.7" rx="4.2" ry="3.6"/><ellipse cx="352.3" cy="1451.8" rx="4.2" ry="3.6"/><ellipse cx="395.8" cy="1441.9" rx="4.2" ry="3.6"/><ellipse cx="412.0" cy="1457.8" rx="4.2" ry="3.6"/><ellipse cx="305.8" cy="1503.1" rx="4.2" ry="3.6"/><ellipse cx="301.2" cy="1553.2" rx="4.2" ry="3.6"/><ellipse cx="304.5" cy="1545.4" rx="4.2" ry="3.6"/><ellipse cx="375.0" cy="1489.1" rx="4.2" ry="3.6"/><ellipse cx="335.2" cy="1522.0" rx="4.2" ry="3.6"/><ellipse cx="364.9" cy="1504.7" rx="4.2" ry="3.6"/><ellipse cx="303.1" cy="1555.6" rx="4.2" ry="3.6"/><ellipse cx="298.7" cy="1552.2" rx="4.2" ry="3.6"/><ellipse cx="294.6" cy="1574.1" rx="4.2" ry="3.6"/><ellipse cx="429.5" cy="1426.6" rx="4.2" ry="3.6"/><ellipse cx="296.1" cy="1560.2" rx="4.2" ry="3.6"/><ellipse cx="350.5" cy="1527.6" rx="4.2" ry="3.6"/><ellipse cx="295.5" cy="1523.1" rx="4.2" ry="3.6"/><ellipse cx="353.5" cy="1446.7" rx="4.2" ry="3.6"/><ellipse cx="438.8" cy="1411.3" rx="4.2" ry="3.6"/><ellipse cx="296.3" cy="1554.7" rx="4.2" ry="3.6"/><ellipse cx="359.2" cy="1430.7" rx="4.2" ry="3.6"/><ellipse cx="303.3" cy="1522.5" rx="4.2" ry="3.6"/><ellipse cx="303.1" cy="1491.6" rx="4.2" ry="3.6"/><ellipse cx="376.4" cy="1490.9" rx="4.2" ry="3.6"/><ellipse cx="309.6" cy="1530.1" rx="4.2" ry="3.6"/><ellipse cx="308.3" cy="1452.2" rx="4.2" ry="3.6"/><ellipse cx="329.4" cy="1493.0" rx="4.2" ry="3.6"/><ellipse cx="333.1" cy="1517.1" rx="4.2" ry="3.6"/><ellipse cx="361.8" cy="1523.3" rx="4.2" ry="3.6"/><ellipse cx="318.8" cy="1527.9" rx="4.2" ry="3.6"/><ellipse cx="391.2" cy="1478.0" rx="4.2" ry="3.6"/><ellipse cx="339.7" cy="1472.4" rx="4.2" ry="3.6"/><ellipse cx="292.6" cy="1574.7" rx="4.2" ry="3.6"/><ellipse cx="297.7" cy="1562.7" rx="4.2" ry="3.6"/><ellipse cx="323.7" cy="1471.0" rx="4.2" ry="3.6"/><ellipse cx="293.8" cy="1559.7" rx="4.2" ry="3.6"/><ellipse cx="370.0" cy="1462.2" rx="4.2" ry="3.6"/><ellipse cx="406.7" cy="1460.7" rx="4.2" ry="3.6"/><ellipse cx="342.5" cy="1532.6" rx="4.2" ry="3.6"/><ellipse cx="372.7" cy="1506.9" rx="4.2" ry="3.6"/><ellipse cx="349.7" cy="1513.1" rx="4.2" ry="3.6"/><ellipse cx="318.9" cy="1526.9" rx="4.2" ry="3.6"/><ellipse cx="345.8" cy="1510.3" rx="4.2" ry="3.6"/><ellipse cx="334.4" cy="1513.0" rx="4.2" ry="3.6"/><ellipse cx="313.6" cy="1510.3" rx="4.2" ry="3.6"/><ellipse cx="360.5" cy="1487.0" rx="4.2" ry="3.6"/><ellipse cx="313.6" cy="1487.6" rx="4.2" ry="3.6"/><ellipse cx="303.0" cy="1562.9" rx="4.2" ry="3.6"/><ellipse cx="363.8" cy="1496.1" rx="4.2" ry="3.6"/><ellipse cx="405.5" cy="1436.8" rx="4.2" ry="3.6"/><ellipse cx="355.2" cy="1515.0" rx="4.2" ry="3.6"/><ellipse cx="294.0" cy="1552.9" rx="4.2" ry="3.6"/><ellipse cx="325.3" cy="1547.0" rx="4.2" ry="3.6"/><ellipse cx="335.7" cy="1433.7" rx="4.2" ry="3.6"/><ellipse cx="382.7" cy="1467.6" rx="4.2" ry="3.6"/><ellipse cx="302.0" cy="1483.6" rx="4.2" ry="3.6"/><ellipse cx="297.1" cy="1574.5" rx="4.2" ry="3.6"/><ellipse cx="367.2" cy="1487.9" rx="4.2" ry="3.6"/><ellipse cx="389.5" cy="1433.0" rx="4.2" ry="3.6"/><ellipse cx="313.8" cy="1495.0" rx="4.2" ry="3.6"/><ellipse cx="340.3" cy="1464.8" rx="4.2" ry="3.6"/><ellipse cx="372.3" cy="1441.5" rx="4.2" ry="3.6"/><ellipse cx="392.2" cy="1437.8" rx="4.2" ry="3.6"/><ellipse cx="321.7" cy="1511.2" rx="4.2" ry="3.6"/><ellipse cx="329.7" cy="1481.9" rx="4.2" ry="3.6"/><ellipse cx="346.2" cy="1457.3" rx="4.2" ry="3.6"/><ellipse cx="308.3" cy="1543.4" rx="4.2" ry="3.6"/><ellipse cx="368.4" cy="1504.6" rx="4.2" ry="3.6"/><ellipse cx="300.4" cy="1570.2" rx="4.2" ry="3.6"/><ellipse cx="316.8" cy="1519.2" rx="4.2" ry="3.6"/><ellipse cx="314.0" cy="1534.3" rx="4.2" ry="3.6"/><ellipse cx="390.4" cy="1412.3" rx="4.2" ry="3.6"/><ellipse cx="372.6" cy="1485.2" rx="4.2" ry="3.6"/><ellipse cx="376.3" cy="1487.1" rx="4.2" ry="3.6"/><ellipse cx="339.8" cy="1490.0" rx="4.2" ry="3.6"/><ellipse cx="346.3" cy="1520.0" rx="4.2" ry="3.6"/><ellipse cx="399.3" cy="1414.8" rx="4.2" ry="3.6"/><ellipse cx="333.6" cy="1536.5" rx="4.2" ry="3.6"/><ellipse cx="297.5" cy="1502.3" rx="4.2" ry="3.6"/><ellipse cx="325.0" cy="1526.7" rx="4.2" ry="3.6"/><ellipse cx="322.1" cy="1523.4" rx="4.2" ry="3.6"/><ellipse cx="297.8" cy="1574.7" rx="4.2" ry="3.6"/><ellipse cx="346.7" cy="1432.3" rx="4.2" ry="3.6"/><ellipse cx="439.5" cy="1409.0" rx="4.2" ry="3.6"/><ellipse cx="337.7" cy="1451.8" rx="4.2" ry="3.6"/><ellipse cx="311.7" cy="1551.4" rx="4.2" ry="3.6"/><ellipse cx="301.2" cy="1478.2" rx="4.2" ry="3.6"/><ellipse cx="318.8" cy="1552.8" rx="4.2" ry="3.6"/><ellipse cx="324.6" cy="1450.9" rx="4.2" ry="3.6"/><ellipse cx="325.1" cy="1497.7" rx="4.2" ry="3.6"/><ellipse cx="346.5" cy="1489.7" rx="4.2" ry="3.6"/><ellipse cx="302.0" cy="1541.8" rx="4.2" ry="3.6"/><ellipse cx="297.2" cy="1500.9" rx="4.2" ry="3.6"/><ellipse cx="328.3" cy="1497.0" rx="4.2" ry="3.6"/><ellipse cx="329.4" cy="1506.9" rx="4.2" ry="3.6"/><ellipse cx="378.5" cy="1482.3" rx="4.2" ry="3.6"/><ellipse cx="356.9" cy="1480.4" rx="4.2" ry="3.6"/><ellipse cx="295.0" cy="1552.1" rx="4.2" ry="3.6"/><ellipse cx="315.8" cy="1541.7" rx="4.2" ry="3.6"/><ellipse cx="314.0" cy="1520.7" rx="4.2" ry="3.6"/><ellipse cx="298.3" cy="1548.0" rx="4.2" ry="3.6"/><ellipse cx="313.2" cy="1442.6" rx="4.2" ry="3.6"/><ellipse cx="340.2" cy="1539.0" rx="4.2" ry="3.6"/><ellipse cx="311.7" cy="1518.0" rx="4.2" ry="3.6"/><ellipse cx="303.7" cy="1522.5" rx="4.2" ry="3.6"/><ellipse cx="295.7" cy="1524.2" rx="4.2" ry="3.6"/><ellipse cx="326.4" cy="1457.0" rx="4.2" ry="3.6"/><ellipse cx="361.3" cy="1461.2" rx="4.2" ry="3.6"/><ellipse cx="300.1" cy="1560.3" rx="4.2" ry="3.6"/><ellipse cx="309.7" cy="1515.0" rx="4.2" ry="3.6"/><ellipse cx="361.2" cy="1479.8" rx="4.2" ry="3.6"/><ellipse cx="297.6" cy="1546.4" rx="4.2" ry="3.6"/><ellipse cx="298.9" cy="1574.4" rx="4.2" ry="3.6"/><ellipse cx="377.4" cy="1490.9" rx="4.2" ry="3.6"/><ellipse cx="372.6" cy="1489.0" rx="4.2" ry="3.6"/><ellipse cx="300.5" cy="1498.3" rx="4.2" ry="3.6"/><ellipse cx="415.1" cy="1445.9" rx="4.2" ry="3.6"/><ellipse cx="369.9" cy="1508.0" rx="4.2" ry="3.6"/><ellipse cx="303.1" cy="1565.7" rx="4.2" ry="3.6"/><ellipse cx="348.1" cy="1463.6" rx="4.2" ry="3.6"/><ellipse cx="303.3" cy="1532.0" rx="4.2" ry="3.6"/><ellipse cx="329.8" cy="1507.5" rx="4.2" ry="3.6"/><ellipse cx="378.2" cy="1430.0" rx="4.2" ry="3.6"/><ellipse cx="366.2" cy="1470.6" rx="4.2" ry="3.6"/><ellipse cx="420.6" cy="1436.3" rx="4.2" ry="3.6"/><ellipse cx="325.7" cy="1548.7" rx="4.2" ry="3.6"/><ellipse cx="369.1" cy="1427.6" rx="4.2" ry="3.6"/><ellipse cx="365.5" cy="1427.6" rx="4.2" ry="3.6"/><ellipse cx="336.6" cy="1497.4" rx="4.2" ry="3.6"/><ellipse cx="351.7" cy="1441.0" rx="4.2" ry="3.6"/><ellipse cx="373.3" cy="1491.8" rx="4.2" ry="3.6"/><ellipse cx="300.5" cy="1565.5" rx="4.2" ry="3.6"/><ellipse cx="349.7" cy="1503.3" rx="4.2" ry="3.6"/><ellipse cx="301.6" cy="1533.3" rx="4.2" ry="3.6"/><ellipse cx="365.5" cy="1413.2" rx="4.2" ry="3.6"/><ellipse cx="401.3" cy="1456.8" rx="4.2" ry="3.6"/><ellipse cx="312.0" cy="1504.6" rx="4.2" ry="3.6"/><ellipse cx="328.2" cy="1538.9" rx="4.2" ry="3.6"/><ellipse cx="391.6" cy="1414.9" rx="4.2" ry="3.6"/><ellipse cx="307.6" cy="1544.0" rx="4.2" ry="3.6"/><ellipse cx="380.4" cy="1485.1" rx="4.2" ry="3.6"/><ellipse cx="299.6" cy="1565.0" rx="4.2" ry="3.6"/><ellipse cx="303.6" cy="1521.4" rx="4.2" ry="3.6"/><ellipse cx="330.0" cy="1431.4" rx="4.2" ry="3.6"/><ellipse cx="315.9" cy="1540.2" rx="4.2" ry="3.6"/><ellipse cx="339.0" cy="1538.1" rx="4.2" ry="3.6"/><ellipse cx="307.9" cy="1514.3" rx="4.2" ry="3.6"/><ellipse cx="321.8" cy="1549.2" rx="4.2" ry="3.6"/><ellipse cx="315.5" cy="1527.8" rx="4.2" ry="3.6"/><ellipse cx="300.7" cy="1569.3" rx="4.2" ry="3.6"/><ellipse cx="310.9" cy="1559.1" rx="4.2" ry="3.6"/><ellipse cx="319.9" cy="1542.0" rx="4.2" ry="3.6"/><ellipse cx="325.1" cy="1545.8" rx="4.2" ry="3.6"/><ellipse cx="294.4" cy="1566.0" rx="4.2" ry="3.6"/><ellipse cx="305.1" cy="1539.5" rx="4.2" ry="3.6"/><ellipse cx="324.6" cy="1446.8" rx="4.2" ry="3.6"/><ellipse cx="343.1" cy="1522.4" rx="4.2" ry="3.6"/><ellipse cx="332.4" cy="1538.9" rx="4.2" ry="3.6"/><ellipse cx="306.3" cy="1565.3" rx="4.2" ry="3.6"/><ellipse cx="292.9" cy="1540.4" rx="4.2" ry="3.6"/><ellipse cx="355.3" cy="1477.9" rx="4.2" ry="3.6"/><ellipse cx="322.8" cy="1464.0" rx="4.2" ry="3.6"/><ellipse cx="315.8" cy="1549.0" rx="4.2" ry="3.6"/><ellipse cx="358.1" cy="1481.8" rx="4.2" ry="3.6"/><ellipse cx="392.2" cy="1428.2" rx="4.2" ry="3.6"/><ellipse cx="300.4" cy="1545.4" rx="4.2" ry="3.6"/><ellipse cx="297.4" cy="1567.9" rx="4.2" ry="3.6"/><ellipse cx="309.5" cy="1556.6" rx="4.2" ry="3.6"/><ellipse cx="381.5" cy="1492.6" rx="4.2" ry="3.6"/><ellipse cx="299.2" cy="1546.7" rx="4.2" ry="3.6"/><ellipse cx="370.7" cy="1483.9" rx="4.2" ry="3.6"/><ellipse cx="309.9" cy="1552.0" rx="4.2" ry="3.6"/><ellipse cx="310.0" cy="1563.1" rx="4.2" ry="3.6"/><ellipse cx="388.3" cy="1420.7" rx="4.2" ry="3.6"/><ellipse cx="297.4" cy="1568.0" rx="4.2" ry="3.6"/><ellipse cx="321.5" cy="1513.5" rx="4.2" ry="3.6"/><ellipse cx="357.8" cy="1521.0" rx="4.2" ry="3.6"/><ellipse cx="399.4" cy="1468.7" rx="4.2" ry="3.6"/><ellipse cx="319.6" cy="1547.4" rx="4.2" ry="3.6"/><ellipse cx="366.0" cy="1482.8" rx="4.2" ry="3.6"/><ellipse cx="339.6" cy="1529.7" rx="4.2" ry="3.6"/><ellipse cx="296.6" cy="1556.9" rx="4.2" ry="3.6"/><ellipse cx="296.7" cy="1504.3" rx="4.2" ry="3.6"/><ellipse cx="330.0" cy="1532.8" rx="4.2" ry="3.6"/><ellipse cx="308.6" cy="1535.3" rx="4.2" ry="3.6"/><ellipse cx="323.5" cy="1542.4" rx="4.2" ry="3.6"/><ellipse cx="301.5" cy="1568.8" rx="4.2" ry="3.6"/><ellipse cx="325.4" cy="1545.9" rx="4.2" ry="3.6"/><ellipse cx="395.8" cy="1435.1" rx="4.2" ry="3.6"/><ellipse cx="341.4" cy="1441.0" rx="4.2" ry="3.6"/><ellipse cx="394.9" cy="1472.4" rx="4.2" ry="3.6"/><ellipse cx="317.4" cy="1547.8" rx="4.2" ry="3.6"/><ellipse cx="345.5" cy="1486.5" rx="4.2" ry="3.6"/><ellipse cx="308.4" cy="1533.7" rx="4.2" ry="3.6"/><ellipse cx="304.1" cy="1561.2" rx="4.2" ry="3.6"/><ellipse cx="312.7" cy="1513.2" rx="4.2" ry="3.6"/><ellipse cx="417.2" cy="1414.9" rx="4.2" ry="3.6"/><ellipse cx="397.3" cy="1467.1" rx="4.2" ry="3.6"/><ellipse cx="331.0" cy="1533.9" rx="4.2" ry="3.6"/><ellipse cx="297.7" cy="1542.9" rx="4.2" ry="3.6"/><ellipse cx="365.3" cy="1515.7" rx="4.2" ry="3.6"/><ellipse cx="347.1" cy="1523.6" rx="4.2" ry="3.6"/><ellipse cx="305.1" cy="1565.0" rx="4.2" ry="3.6"/><ellipse cx="378.3" cy="1473.6" rx="4.2" ry="3.6"/><ellipse cx="410.9" cy="1439.0" rx="4.2" ry="3.6"/><ellipse cx="351.8" cy="1495.0" rx="4.2" ry="3.6"/><ellipse cx="348.1" cy="1430.3" rx="4.2" ry="3.6"/><ellipse cx="345.9" cy="1477.0" rx="4.2" ry="3.6"/><ellipse cx="334.7" cy="1519.5" rx="4.2" ry="3.6"/><ellipse cx="315.4" cy="1503.8" rx="4.2" ry="3.6"/><ellipse cx="333.8" cy="1539.7" rx="4.2" ry="3.6"/><ellipse cx="347.2" cy="1520.1" rx="4.2" ry="3.6"/><ellipse cx="315.9" cy="1558.0" rx="4.2" ry="3.6"/><ellipse cx="320.1" cy="1545.1" rx="4.2" ry="3.6"/><ellipse cx="394.0" cy="1429.9" rx="4.2" ry="3.6"/><ellipse cx="314.4" cy="1510.3" rx="4.2" ry="3.6"/><ellipse cx="358.1" cy="1508.8" rx="4.2" ry="3.6"/><ellipse cx="328.2" cy="1443.6" rx="4.2" ry="3.6"/><ellipse cx="362.7" cy="1520.9" rx="4.2" ry="3.6"/><ellipse cx="371.7" cy="1468.1" rx="4.2" ry="3.6"/><ellipse cx="305.2" cy="1548.0" rx="4.2" ry="3.6"/><ellipse cx="303.5" cy="1513.1" rx="4.2" ry="3.6"/><ellipse cx="368.0" cy="1417.9" rx="4.2" ry="3.6"/><ellipse cx="294.5" cy="1542.8" rx="4.2" ry="3.6"/><ellipse cx="335.0" cy="1464.8" rx="4.2" ry="3.6"/><ellipse cx="399.2" cy="1444.4" rx="4.2" ry="3.6"/><ellipse cx="323.7" cy="1548.2" rx="4.2" ry="3.6"/><ellipse cx="412.3" cy="1413.1" rx="4.2" ry="3.6"/><ellipse cx="331.0" cy="1492.3" rx="4.2" ry="3.6"/><ellipse cx="348.2" cy="1513.2" rx="4.2" ry="3.6"/><ellipse cx="348.3" cy="1474.8" rx="4.2" ry="3.6"/><ellipse cx="336.7" cy="1542.3" rx="4.2" ry="3.6"/><ellipse cx="293.1" cy="1572.7" rx="4.2" ry="3.6"/><ellipse cx="362.5" cy="1430.3" rx="4.2" ry="3.6"/><ellipse cx="323.4" cy="1526.3" rx="4.2" ry="3.6"/><ellipse cx="352.1" cy="1439.7" rx="4.2" ry="3.6"/><ellipse cx="393.4" cy="1440.4" rx="4.2" ry="3.6"/><ellipse cx="360.0" cy="1525.1" rx="4.2" ry="3.6"/><ellipse cx="306.6" cy="1566.4" rx="4.2" ry="3.6"/><ellipse cx="296.8" cy="1528.2" rx="4.2" ry="3.6"/><ellipse cx="313.0" cy="1513.2" rx="4.2" ry="3.6"/><ellipse cx="304.9" cy="1459.1" rx="4.2" ry="3.6"/><ellipse cx="303.2" cy="1484.0" rx="4.2" ry="3.6"/><ellipse cx="401.4" cy="1433.7" rx="4.2" ry="3.6"/><ellipse cx="299.6" cy="1573.4" rx="4.2" ry="3.6"/><ellipse cx="369.6" cy="1487.5" rx="4.2" ry="3.6"/><ellipse cx="378.1" cy="1426.2" rx="4.2" ry="3.6"/><ellipse cx="331.9" cy="1443.0" rx="4.2" ry="3.6"/><ellipse cx="309.4" cy="1559.8" rx="4.2" ry="3.6"/><ellipse cx="296.7" cy="1571.8" rx="4.2" ry="3.6"/><ellipse cx="323.6" cy="1505.8" rx="4.2" ry="3.6"/><ellipse cx="324.3" cy="1546.7" rx="4.2" ry="3.6"/><ellipse cx="424.7" cy="1415.2" rx="4.2" ry="3.6"/><ellipse cx="350.9" cy="1419.9" rx="4.2" ry="3.6"/><ellipse cx="306.5" cy="1555.8" rx="4.2" ry="3.6"/><ellipse cx="344.4" cy="1505.8" rx="4.2" ry="3.6"/><ellipse cx="371.8" cy="1417.0" rx="4.2" ry="3.6"/><ellipse cx="344.2" cy="1520.4" rx="4.2" ry="3.6"/><ellipse cx="344.3" cy="1516.5" rx="4.2" ry="3.6"/><ellipse cx="319.1" cy="1545.6" rx="4.2" ry="3.6"/><ellipse cx="294.4" cy="1542.1" rx="4.2" ry="3.6"/><ellipse cx="415.1" cy="1448.2" rx="4.2" ry="3.6"/><ellipse cx="359.9" cy="1520.2" rx="4.2" ry="3.6"/><ellipse cx="298.2" cy="1561.5" rx="4.2" ry="3.6"/><ellipse cx="410.9" cy="1411.0" rx="4.2" ry="3.6"/><ellipse cx="300.2" cy="1570.5" rx="4.2" ry="3.6"/><ellipse cx="300.0" cy="1542.8" rx="4.2" ry="3.6"/><ellipse cx="292.6" cy="1561.0" rx="4.2" ry="3.6"/><ellipse cx="361.9" cy="1500.8" rx="4.2" ry="3.6"/><ellipse cx="338.9" cy="1511.5" rx="4.2" ry="3.6"/><ellipse cx="345.2" cy="1456.6" rx="4.2" ry="3.6"/><ellipse cx="294.2" cy="1532.4" rx="4.2" ry="3.6"/><ellipse cx="312.9" cy="1543.5" rx="4.2" ry="3.6"/><ellipse cx="308.2" cy="1516.6" rx="4.2" ry="3.6"/><ellipse cx="323.4" cy="1549.9" rx="4.2" ry="3.6"/><ellipse cx="293.1" cy="1536.4" rx="4.2" ry="3.6"/><ellipse cx="393.9" cy="1427.0" rx="4.2" ry="3.6"/><ellipse cx="333.0" cy="1494.9" rx="4.2" ry="3.6"/><ellipse cx="343.7" cy="1510.0" rx="4.2" ry="3.6"/><ellipse cx="341.8" cy="1530.4" rx="4.2" ry="3.6"/><ellipse cx="320.5" cy="1547.8" rx="4.2" ry="3.6"/><ellipse cx="353.3" cy="1521.7" rx="4.2" ry="3.6"/><ellipse cx="298.1" cy="1554.6" rx="4.2" ry="3.6"/><ellipse cx="362.5" cy="1481.8" rx="4.2" ry="3.6"/><ellipse cx="339.1" cy="1458.2" rx="4.2" ry="3.6"/><ellipse cx="361.8" cy="1517.2" rx="4.2" ry="3.6"/><ellipse cx="331.4" cy="1547.7" rx="4.2" ry="3.6"/><ellipse cx="329.4" cy="1453.8" rx="4.2" ry="3.6"/><ellipse cx="299.5" cy="1561.8" rx="4.2" ry="3.6"/><ellipse cx="338.8" cy="1537.4" rx="4.2" ry="3.6"/><ellipse cx="369.1" cy="1460.4" rx="4.2" ry="3.6"/><ellipse cx="376.0" cy="1497.7" rx="4.2" ry="3.6"/><ellipse cx="349.3" cy="1496.7" rx="4.2" ry="3.6"/><ellipse cx="299.7" cy="1564.6" rx="4.2" ry="3.6"/><ellipse cx="360.8" cy="1523.2" rx="4.2" ry="3.6"/><ellipse cx="293.9" cy="1573.3" rx="4.2" ry="3.6"/><ellipse cx="341.6" cy="1522.7" rx="4.2" ry="3.6"/><ellipse cx="306.8" cy="1533.8" rx="4.2" ry="3.6"/><ellipse cx="402.0" cy="1412.6" rx="4.2" ry="3.6"/><ellipse cx="345.6" cy="1506.7" rx="4.2" ry="3.6"/><ellipse cx="314.0" cy="1524.1" rx="4.2" ry="3.6"/><ellipse cx="300.4" cy="1569.9" rx="4.2" ry="3.6"/><ellipse cx="302.2" cy="1536.5" rx="4.2" ry="3.6"/><ellipse cx="345.8" cy="1458.6" rx="4.2" ry="3.6"/><ellipse cx="364.2" cy="1482.3" rx="4.2" ry="3.6"/><ellipse cx="299.0" cy="1563.7" rx="4.2" ry="3.6"/><ellipse cx="418.4" cy="1413.1" rx="4.2" ry="3.6"/><ellipse cx="320.8" cy="1550.8" rx="4.2" ry="3.6"/><ellipse cx="301.1" cy="1454.4" rx="4.2" ry="3.6"/><ellipse cx="296.5" cy="1559.1" rx="4.2" ry="3.6"/><ellipse cx="346.3" cy="1506.0" rx="4.2" ry="3.6"/><ellipse cx="364.2" cy="1472.0" rx="4.2" ry="3.6"/><ellipse cx="308.1" cy="1445.3" rx="4.2" ry="3.6"/><ellipse cx="297.3" cy="1550.4" rx="4.2" ry="3.6"/><ellipse cx="373.6" cy="1468.7" rx="4.2" ry="3.6"/><ellipse cx="305.1" cy="1539.6" rx="4.2" ry="3.6"/><ellipse cx="302.7" cy="1495.3" rx="4.2" ry="3.6"/><ellipse cx="306.2" cy="1540.9" rx="4.2" ry="3.6"/><ellipse cx="304.8" cy="1535.7" rx="4.2" ry="3.6"/><ellipse cx="348.0" cy="1444.6" rx="4.2" ry="3.6"/><ellipse cx="328.3" cy="1515.1" rx="4.2" ry="3.6"/><ellipse cx="364.6" cy="1427.3" rx="4.2" ry="3.6"/><ellipse cx="365.4" cy="1502.0" rx="4.2" ry="3.6"/><ellipse cx="296.4" cy="1551.3" rx="4.2" ry="3.6"/><ellipse cx="313.9" cy="1495.6" rx="4.2" ry="3.6"/><ellipse cx="299.7" cy="1552.4" rx="4.2" ry="3.6"/><ellipse cx="297.4" cy="1530.1" rx="4.2" ry="3.6"/><ellipse cx="309.6" cy="1488.4" rx="4.2" ry="3.6"/><ellipse cx="330.9" cy="1517.0" rx="4.2" ry="3.6"/><ellipse cx="362.5" cy="1486.5" rx="4.2" ry="3.6"/><ellipse cx="361.9" cy="1447.1" rx="4.2" ry="3.6"/><ellipse cx="303.6" cy="1516.7" rx="4.2" ry="3.6"/><ellipse cx="304.3" cy="1565.9" rx="4.2" ry="3.6"/><ellipse cx="391.3" cy="1469.4" rx="4.2" ry="3.6"/><ellipse cx="336.6" cy="1421.7" rx="4.2" ry="3.6"/><ellipse cx="308.3" cy="1481.3" rx="4.2" ry="3.6"/><ellipse cx="326.4" cy="1533.1" rx="4.2" ry="3.6"/><ellipse cx="364.6" cy="1475.1" rx="4.2" ry="3.6"/><ellipse cx="296.1" cy="1566.4" rx="4.2" ry="3.6"/><ellipse cx="377.4" cy="1493.4" rx="4.2" ry="3.6"/><ellipse cx="297.2" cy="1573.6" rx="4.2" ry="3.6"/><ellipse cx="300.6" cy="1547.3" rx="4.2" ry="3.6"/><ellipse cx="314.9" cy="1484.2" rx="4.2" ry="3.6"/><ellipse cx="344.3" cy="1461.7" rx="4.2" ry="3.6"/><ellipse cx="294.5" cy="1519.7" rx="4.2" ry="3.6"/><ellipse cx="407.0" cy="1435.1" rx="4.2" ry="3.6"/><ellipse cx="313.2" cy="1509.5" rx="4.2" ry="3.6"/><ellipse cx="352.2" cy="1501.8" rx="4.2" ry="3.6"/><ellipse cx="365.0" cy="1505.1" rx="4.2" ry="3.6"/><ellipse cx="332.7" cy="1483.6" rx="4.2" ry="3.6"/><ellipse cx="355.8" cy="1518.5" rx="4.2" ry="3.6"/><ellipse cx="427.1" cy="1416.6" rx="4.2" ry="3.6"/><ellipse cx="355.0" cy="1410.9" rx="4.2" ry="3.6"/><ellipse cx="302.9" cy="1569.5" rx="4.2" ry="3.6"/><ellipse cx="366.7" cy="1496.4" rx="4.2" ry="3.6"/><ellipse cx="330.8" cy="1517.1" rx="4.2" ry="3.6"/><ellipse cx="381.3" cy="1448.7" rx="4.2" ry="3.6"/><ellipse cx="334.4" cy="1541.8" rx="4.2" ry="3.6"/><ellipse cx="307.9" cy="1503.2" rx="4.2" ry="3.6"/><ellipse cx="328.9" cy="1450.7" rx="4.2" ry="3.6"/><ellipse cx="352.3" cy="1495.5" rx="4.2" ry="3.6"/><ellipse cx="329.9" cy="1531.8" rx="4.2" ry="3.6"/><ellipse cx="350.5" cy="1520.2" rx="4.2" ry="3.6"/><ellipse cx="356.2" cy="1487.4" rx="4.2" ry="3.6"/><ellipse cx="306.3" cy="1516.1" rx="4.2" ry="3.6"/><ellipse cx="304.3" cy="1539.2" rx="4.2" ry="3.6"/><ellipse cx="295.3" cy="1568.0" rx="4.2" ry="3.6"/><ellipse cx="304.1" cy="1568.6" rx="4.2" ry="3.6"/><ellipse cx="314.7" cy="1530.8" rx="4.2" ry="3.6"/><ellipse cx="299.6" cy="1536.1" rx="4.2" ry="3.6"/><ellipse cx="333.3" cy="1443.9" rx="4.2" ry="3.6"/><ellipse cx="356.3" cy="1430.7" rx="4.2" ry="3.6"/><ellipse cx="322.0" cy="1504.4" rx="4.2" ry="3.6"/><ellipse cx="311.8" cy="1481.0" rx="4.2" ry="3.6"/><ellipse cx="401.2" cy="1410.9" rx="4.2" ry="3.6"/><ellipse cx="317.8" cy="1547.5" rx="4.2" ry="3.6"/><ellipse cx="358.7" cy="1525.7" rx="4.2" ry="3.6"/><ellipse cx="308.9" cy="1536.0" rx="4.2" ry="3.6"/><ellipse cx="318.0" cy="1545.2" rx="4.2" ry="3.6"/><ellipse cx="310.8" cy="1554.1" rx="4.2" ry="3.6"/><ellipse cx="308.3" cy="1453.5" rx="4.2" ry="3.6"/><ellipse cx="389.7" cy="1436.9" rx="4.2" ry="3.6"/><ellipse cx="333.0" cy="1446.4" rx="4.2" ry="3.6"/><ellipse cx="292.7" cy="1572.9" rx="4.2" ry="3.6"/><ellipse cx="310.2" cy="1564.1" rx="4.2" ry="3.6"/><ellipse cx="355.7" cy="1464.0" rx="4.2" ry="3.6"/><ellipse cx="343.2" cy="1477.7" rx="4.2" ry="3.6"/><ellipse cx="387.1" cy="1423.3" rx="4.2" ry="3.6"/><ellipse cx="351.9" cy="1465.1" rx="4.2" ry="3.6"/><ellipse cx="303.4" cy="1563.1" rx="4.2" ry="3.6"/><ellipse cx="390.8" cy="1433.7" rx="4.2" ry="3.6"/><ellipse cx="307.7" cy="1527.7" rx="4.2" ry="3.6"/><ellipse cx="297.0" cy="1541.9" rx="4.2" ry="3.6"/><ellipse cx="303.9" cy="1540.1" rx="4.2" ry="3.6"/><ellipse cx="334.1" cy="1518.8" rx="4.2" ry="3.6"/><ellipse cx="374.4" cy="1440.2" rx="4.2" ry="3.6"/><ellipse cx="311.2" cy="1513.9" rx="4.2" ry="3.6"/><ellipse cx="347.8" cy="1478.7" rx="4.2" ry="3.6"/><ellipse cx="405.7" cy="1413.2" rx="4.2" ry="3.6"/><ellipse cx="372.9" cy="1456.6" rx="4.2" ry="3.6"/><ellipse cx="363.2" cy="1510.7" rx="4.2" ry="3.6"/><ellipse cx="373.3" cy="1460.0" rx="4.2" ry="3.6"/><ellipse cx="322.0" cy="1546.1" rx="4.2" ry="3.6"/><ellipse cx="307.5" cy="1540.7" rx="4.2" ry="3.6"/><ellipse cx="296.3" cy="1528.4" rx="4.2" ry="3.6"/><ellipse cx="311.8" cy="1485.1" rx="4.2" ry="3.6"/><ellipse cx="339.7" cy="1492.6" rx="4.2" ry="3.6"/><ellipse cx="327.4" cy="1527.6" rx="4.2" ry="3.6"/><ellipse cx="316.3" cy="1488.7" rx="4.2" ry="3.6"/><ellipse cx="339.7" cy="1445.1" rx="4.2" ry="3.6"/><ellipse cx="343.9" cy="1527.0" rx="4.2" ry="3.6"/><ellipse cx="301.0" cy="1511.3" rx="4.2" ry="3.6"/><ellipse cx="313.9" cy="1514.3" rx="4.2" ry="3.6"/><ellipse cx="301.1" cy="1571.9" rx="4.2" ry="3.6"/><ellipse cx="351.5" cy="1485.8" rx="4.2" ry="3.6"/><ellipse cx="303.1" cy="1481.0" rx="4.2" ry="3.6"/><ellipse cx="429.6" cy="1423.7" rx="4.2" ry="3.6"/><ellipse cx="388.0" cy="1456.1" rx="4.2" ry="3.6"/><ellipse cx="365.1" cy="1496.8" rx="4.2" ry="3.6"/><ellipse cx="398.3" cy="1437.0" rx="4.2" ry="3.6"/><ellipse cx="313.1" cy="1464.5" rx="4.2" ry="3.6"/><ellipse cx="293.8" cy="1570.3" rx="4.2" ry="3.6"/><ellipse cx="345.9" cy="1531.7" rx="4.2" ry="3.6"/><ellipse cx="353.2" cy="1456.2" rx="4.2" ry="3.6"/><ellipse cx="300.7" cy="1530.6" rx="4.2" ry="3.6"/><ellipse cx="294.0" cy="1568.0" rx="4.2" ry="3.6"/><ellipse cx="326.3" cy="1464.6" rx="4.2" ry="3.6"/><ellipse cx="386.1" cy="1486.4" rx="4.2" ry="3.6"/><ellipse cx="304.0" cy="1550.7" rx="4.2" ry="3.6"/><ellipse cx="312.8" cy="1532.4" rx="4.2" ry="3.6"/><ellipse cx="376.5" cy="1477.9" rx="4.2" ry="3.6"/><ellipse cx="293.8" cy="1504.0" rx="4.2" ry="3.6"/><ellipse cx="363.7" cy="1509.3" rx="4.2" ry="3.6"/><ellipse cx="343.8" cy="1452.4" rx="4.2" ry="3.6"/><ellipse cx="339.2" cy="1466.9" rx="4.2" ry="3.6"/><ellipse cx="360.1" cy="1514.2" rx="4.2" ry="3.6"/><ellipse cx="298.2" cy="1573.4" rx="4.2" ry="3.6"/><ellipse cx="303.8" cy="1543.8" rx="4.2" ry="3.6"/><ellipse cx="383.2" cy="1471.6" rx="4.2" ry="3.6"/><ellipse cx="321.8" cy="1498.0" rx="4.2" ry="3.6"/><ellipse cx="296.8" cy="1554.8" rx="4.2" ry="3.6"/><ellipse cx="332.5" cy="1532.3" rx="4.2" ry="3.6"/><ellipse cx="422.0" cy="1416.0" rx="4.2" ry="3.6"/><ellipse cx="325.8" cy="1484.1" rx="4.2" ry="3.6"/><ellipse cx="336.5" cy="1538.6" rx="4.2" ry="3.6"/><ellipse cx="326.4" cy="1464.9" rx="4.2" ry="3.6"/><ellipse cx="308.8" cy="1445.9" rx="4.2" ry="3.6"/><ellipse cx="304.6" cy="1531.8" rx="4.2" ry="3.6"/><ellipse cx="377.5" cy="1486.6" rx="4.2" ry="3.6"/><ellipse cx="396.6" cy="1460.0" rx="4.2" ry="3.6"/><ellipse cx="335.6" cy="1494.6" rx="4.2" ry="3.6"/><ellipse cx="312.4" cy="1555.0" rx="4.2" ry="3.6"/><ellipse cx="301.5" cy="1524.2" rx="4.2" ry="3.6"/><ellipse cx="389.0" cy="1413.8" rx="4.2" ry="3.6"/><ellipse cx="320.7" cy="1527.8" rx="4.2" ry="3.6"/><ellipse cx="364.8" cy="1495.5" rx="4.2" ry="3.6"/><ellipse cx="302.8" cy="1541.9" rx="4.2" ry="3.6"/><ellipse cx="295.8" cy="1573.7" rx="4.2" ry="3.6"/><ellipse cx="355.1" cy="1526.5" rx="4.2" ry="3.6"/><ellipse cx="370.3" cy="1439.2" rx="4.2" ry="3.6"/><ellipse cx="303.2" cy="1519.6" rx="4.2" ry="3.6"/><ellipse cx="296.0" cy="1575.0" rx="4.2" ry="3.6"/><ellipse cx="340.6" cy="1534.8" rx="4.2" ry="3.6"/><ellipse cx="296.8" cy="1562.3" rx="4.2" ry="3.6"/><ellipse cx="373.9" cy="1491.9" rx="4.2" ry="3.6"/><ellipse cx="299.7" cy="1567.5" rx="4.2" ry="3.6"/><ellipse cx="312.1" cy="1542.2" rx="4.2" ry="3.6"/><ellipse cx="333.5" cy="1451.3" rx="4.2" ry="3.6"/><ellipse cx="334.5" cy="1493.7" rx="4.2" ry="3.6"/><ellipse cx="362.8" cy="1408.9" rx="4.2" ry="3.6"/><ellipse cx="306.4" cy="1533.0" rx="4.2" ry="3.6"/><ellipse cx="297.6" cy="1559.0" rx="4.2" ry="3.6"/><ellipse cx="341.0" cy="1528.4" rx="4.2" ry="3.6"/><ellipse cx="311.0" cy="1526.7" rx="4.2" ry="3.6"/><ellipse cx="293.6" cy="1562.5" rx="4.2" ry="3.6"/><ellipse cx="302.7" cy="1481.9" rx="4.2" ry="3.6"/><ellipse cx="324.7" cy="1541.1" rx="4.2" ry="3.6"/><ellipse cx="353.8" cy="1484.8" rx="4.2" ry="3.6"/><ellipse cx="381.6" cy="1464.1" rx="4.2" ry="3.6"/><ellipse cx="316.4" cy="1511.2" rx="4.2" ry="3.6"/><ellipse cx="310.6" cy="1444.5" rx="4.2" ry="3.6"/><ellipse cx="355.4" cy="1460.7" rx="4.2" ry="3.6"/><ellipse cx="333.8" cy="1488.1" rx="4.2" ry="3.6"/><ellipse cx="379.9" cy="1489.2" rx="4.2" ry="3.6"/><ellipse cx="375.2" cy="1441.1" rx="4.2" ry="3.6"/><ellipse cx="297.3" cy="1569.5" rx="4.2" ry="3.6"/><ellipse cx="330.0" cy="1479.0" rx="4.2" ry="3.6"/><ellipse cx="293.4" cy="1503.6" rx="4.2" ry="3.6"/><ellipse cx="314.9" cy="1529.7" rx="4.2" ry="3.6"/><ellipse cx="301.1" cy="1561.7" rx="4.2" ry="3.6"/><ellipse cx="362.5" cy="1457.8" rx="4.2" ry="3.6"/><ellipse cx="350.6" cy="1530.8" rx="4.2" ry="3.6"/><ellipse cx="347.4" cy="1506.5" rx="4.2" ry="3.6"/><ellipse cx="301.3" cy="1565.8" rx="4.2" ry="3.6"/><ellipse cx="293.9" cy="1541.7" rx="4.2" ry="3.6"/><ellipse cx="339.0" cy="1488.1" rx="4.2" ry="3.6"/><ellipse cx="301.9" cy="1557.5" rx="4.2" ry="3.6"/><ellipse cx="304.9" cy="1563.2" rx="4.2" ry="3.6"/><ellipse cx="341.4" cy="1463.5" rx="4.2" ry="3.6"/><ellipse cx="305.6" cy="1539.3" rx="4.2" ry="3.6"/><ellipse cx="316.6" cy="1498.0" rx="4.2" ry="3.6"/><ellipse cx="299.4" cy="1545.2" rx="4.2" ry="3.6"/><ellipse cx="342.8" cy="1411.6" rx="4.2" ry="3.6"/><ellipse cx="299.4" cy="1542.5" rx="4.2" ry="3.6"/><ellipse cx="351.5" cy="1528.3" rx="4.2" ry="3.6"/><ellipse cx="370.8" cy="1500.0" rx="4.2" ry="3.6"/><ellipse cx="301.3" cy="1562.5" rx="4.2" ry="3.6"/><ellipse cx="342.4" cy="1532.9" rx="4.2" ry="3.6"/><ellipse cx="370.8" cy="1507.7" rx="4.2" ry="3.6"/><ellipse cx="328.5" cy="1417.3" rx="4.2" ry="3.6"/><ellipse cx="335.2" cy="1526.3" rx="4.2" ry="3.6"/><ellipse cx="362.7" cy="1520.3" rx="4.2" ry="3.6"/><ellipse cx="296.8" cy="1571.5" rx="4.2" ry="3.6"/><ellipse cx="297.5" cy="1574.1" rx="4.2" ry="3.6"/><ellipse cx="296.3" cy="1531.1" rx="4.2" ry="3.6"/><ellipse cx="295.2" cy="1521.7" rx="4.2" ry="3.6"/><ellipse cx="320.6" cy="1540.1" rx="4.2" ry="3.6"/><ellipse cx="310.4" cy="1555.2" rx="4.2" ry="3.6"/><ellipse cx="305.1" cy="1560.8" rx="4.2" ry="3.6"/><ellipse cx="350.6" cy="1437.2" rx="4.2" ry="3.6"/><ellipse cx="362.2" cy="1477.2" rx="4.2" ry="3.6"/><ellipse cx="318.3" cy="1529.6" rx="4.2" ry="3.6"/><ellipse cx="305.4" cy="1567.6" rx="4.2" ry="3.6"/><ellipse cx="341.3" cy="1460.8" rx="4.2" ry="3.6"/><ellipse cx="312.2" cy="1558.9" rx="4.2" ry="3.6"/><ellipse cx="334.5" cy="1545.1" rx="4.2" ry="3.6"/><ellipse cx="382.9" cy="1461.2" rx="4.2" ry="3.6"/><ellipse cx="305.3" cy="1510.0" rx="4.2" ry="3.6"/><ellipse cx="318.2" cy="1489.6" rx="4.2" ry="3.6"/><ellipse cx="399.7" cy="1432.9" rx="4.2" ry="3.6"/><ellipse cx="306.7" cy="1559.5" rx="4.2" ry="3.6"/><ellipse cx="294.2" cy="1563.9" rx="4.2" ry="3.6"/><ellipse cx="342.6" cy="1425.2" rx="4.2" ry="3.6"/><ellipse cx="306.6" cy="1553.5" rx="4.2" ry="3.6"/><ellipse cx="389.0" cy="1450.9" rx="4.2" ry="3.6"/><ellipse cx="382.0" cy="1443.8" rx="4.2" ry="3.6"/><ellipse cx="295.3" cy="1574.6" rx="4.2" ry="3.6"/><ellipse cx="326.7" cy="1543.0" rx="4.2" ry="3.6"/><ellipse cx="306.0" cy="1552.2" rx="4.2" ry="3.6"/><ellipse cx="389.8" cy="1432.2" rx="4.2" ry="3.6"/><ellipse cx="296.9" cy="1573.0" rx="4.2" ry="3.6"/><ellipse cx="385.6" cy="1429.9" rx="4.2" ry="3.6"/><ellipse cx="400.4" cy="1449.6" rx="4.2" ry="3.6"/><ellipse cx="293.5" cy="1557.2" rx="4.2" ry="3.6"/><ellipse cx="360.6" cy="1486.3" rx="4.2" ry="3.6"/><ellipse cx="398.2" cy="1465.3" rx="4.2" ry="3.6"/><ellipse cx="407.4" cy="1430.8" rx="4.2" ry="3.6"/><ellipse cx="364.5" cy="1439.1" rx="4.2" ry="3.6"/><ellipse cx="305.1" cy="1539.2" rx="4.2" ry="3.6"/><ellipse cx="301.1" cy="1570.2" rx="4.2" ry="3.6"/><ellipse cx="366.9" cy="1497.0" rx="4.2" ry="3.6"/><ellipse cx="345.8" cy="1521.9" rx="4.2" ry="3.6"/><ellipse cx="371.0" cy="1485.4" rx="4.2" ry="3.6"/><ellipse cx="295.9" cy="1562.2" rx="4.2" ry="3.6"/><ellipse cx="327.0" cy="1500.5" rx="4.2" ry="3.6"/><ellipse cx="364.3" cy="1430.9" rx="4.2" ry="3.6"/><ellipse cx="343.8" cy="1452.7" rx="4.2" ry="3.6"/><ellipse cx="324.9" cy="1535.2" rx="4.2" ry="3.6"/><ellipse cx="303.1" cy="1556.0" rx="4.2" ry="3.6"/><ellipse cx="293.8" cy="1571.9" rx="4.2" ry="3.6"/><ellipse cx="297.1" cy="1569.5" rx="4.2" ry="3.6"/><ellipse cx="303.2" cy="1460.4" rx="4.2" ry="3.6"/><ellipse cx="371.8" cy="1502.0" rx="4.2" ry="3.6"/><ellipse cx="366.5" cy="1498.7" rx="4.2" ry="3.6"/><ellipse cx="361.9" cy="1468.2" rx="4.2" ry="3.6"/><ellipse cx="295.3" cy="1569.9" rx="4.2" ry="3.6"/><ellipse cx="364.1" cy="1442.4" rx="4.2" ry="3.6"/><ellipse cx="318.7" cy="1547.8" rx="4.2" ry="3.6"/><ellipse cx="312.3" cy="1562.8" rx="4.2" ry="3.6"/><ellipse cx="292.9" cy="1527.1" rx="4.2" ry="3.6"/><ellipse cx="389.8" cy="1479.2" rx="4.2" ry="3.6"/><ellipse cx="293.6" cy="1502.9" rx="4.2" ry="3.6"/><ellipse cx="307.3" cy="1558.7" rx="4.2" ry="3.6"/><ellipse cx="345.4" cy="1410.2" rx="4.2" ry="3.6"/><ellipse cx="296.7" cy="1547.0" rx="4.2" ry="3.6"/><ellipse cx="405.1" cy="1452.7" rx="4.2" ry="3.6"/><ellipse cx="297.5" cy="1524.5" rx="4.2" ry="3.6"/><ellipse cx="293.6" cy="1571.9" rx="4.2" ry="3.6"/><ellipse cx="317.5" cy="1453.2" rx="4.2" ry="3.6"/><ellipse cx="362.6" cy="1518.5" rx="4.2" ry="3.6"/><ellipse cx="297.0" cy="1573.9" rx="4.2" ry="3.6"/><ellipse cx="394.4" cy="1434.9" rx="4.2" ry="3.6"/><ellipse cx="392.4" cy="1468.0" rx="4.2" ry="3.6"/><ellipse cx="324.9" cy="1431.7" rx="4.2" ry="3.6"/><ellipse cx="357.5" cy="1506.3" rx="4.2" ry="3.6"/><ellipse cx="344.7" cy="1492.0" rx="4.2" ry="3.6"/><ellipse cx="350.0" cy="1476.9" rx="4.2" ry="3.6"/><ellipse cx="365.3" cy="1417.7" rx="4.2" ry="3.6"/><ellipse cx="306.2" cy="1534.4" rx="4.2" ry="3.6"/><ellipse cx="341.7" cy="1483.6" rx="4.2" ry="3.6"/><ellipse cx="307.2" cy="1508.9" rx="4.2" ry="3.6"/><ellipse cx="351.0" cy="1421.7" rx="4.2" ry="3.6"/><ellipse cx="324.4" cy="1516.4" rx="4.2" ry="3.6"/><ellipse cx="376.3" cy="1493.5" rx="4.2" ry="3.6"/><ellipse cx="342.4" cy="1433.8" rx="4.2" ry="3.6"/><ellipse cx="309.1" cy="1560.0" rx="4.2" ry="3.6"/><ellipse cx="309.1" cy="1435.7" rx="4.2" ry="3.6"/><ellipse cx="316.4" cy="1549.5" rx="4.2" ry="3.6"/><ellipse cx="297.3" cy="1512.4" rx="4.2" ry="3.6"/><ellipse cx="326.1" cy="1527.7" rx="4.2" ry="3.6"/><ellipse cx="324.2" cy="1519.8" rx="4.2" ry="3.6"/><ellipse cx="422.1" cy="1423.3" rx="4.2" ry="3.6"/><ellipse cx="349.7" cy="1445.2" rx="4.2" ry="3.6"/><ellipse cx="328.4" cy="1463.9" rx="4.2" ry="3.6"/><ellipse cx="350.0" cy="1445.2" rx="4.2" ry="3.6"/><ellipse cx="310.5" cy="1479.9" rx="4.2" ry="3.6"/><ellipse cx="371.1" cy="1424.7" rx="4.2" ry="3.6"/><ellipse cx="385.2" cy="1440.4" rx="4.2" ry="3.6"/><ellipse cx="305.8" cy="1543.1" rx="4.2" ry="3.6"/><ellipse cx="313.3" cy="1544.0" rx="4.2" ry="3.6"/><ellipse cx="333.0" cy="1524.5" rx="4.2" ry="3.6"/><ellipse cx="347.5" cy="1426.9" rx="4.2" ry="3.6"/><ellipse cx="351.6" cy="1505.4" rx="4.2" ry="3.6"/><ellipse cx="318.4" cy="1524.1" rx="4.2" ry="3.6"/><ellipse cx="313.7" cy="1552.4" rx="4.2" ry="3.6"/><ellipse cx="315.2" cy="1553.6" rx="4.2" ry="3.6"/><ellipse cx="366.4" cy="1471.6" rx="4.2" ry="3.6"/><ellipse cx="294.7" cy="1574.4" rx="4.2" ry="3.6"/><ellipse cx="335.6" cy="1539.3" rx="4.2" ry="3.6"/><ellipse cx="299.9" cy="1569.9" rx="4.2" ry="3.6"/><ellipse cx="309.2" cy="1502.5" rx="4.2" ry="3.6"/><ellipse cx="324.2" cy="1488.7" rx="4.2" ry="3.6"/><ellipse cx="345.4" cy="1493.3" rx="4.2" ry="3.6"/><ellipse cx="358.8" cy="1454.3" rx="4.2" ry="3.6"/><ellipse cx="361.1" cy="1477.9" rx="4.2" ry="3.6"/><ellipse cx="316.8" cy="1496.8" rx="4.2" ry="3.6"/><ellipse cx="346.3" cy="1525.5" rx="4.2" ry="3.6"/><ellipse cx="328.8" cy="1470.7" rx="4.2" ry="3.6"/><ellipse cx="347.9" cy="1526.3" rx="4.2" ry="3.6"/><ellipse cx="305.9" cy="1530.1" rx="4.2" ry="3.6"/><ellipse cx="331.5" cy="1467.8" rx="4.2" ry="3.6"/><ellipse cx="334.0" cy="1534.0" rx="4.2" ry="3.6"/><ellipse cx="397.3" cy="1447.0" rx="4.2" ry="3.6"/><ellipse cx="338.4" cy="1520.9" rx="4.2" ry="3.6"/><ellipse cx="362.7" cy="1519.9" rx="4.2" ry="3.6"/><ellipse cx="341.9" cy="1446.3" rx="4.2" ry="3.6"/><ellipse cx="327.7" cy="1540.9" rx="4.2" ry="3.6"/><ellipse cx="327.2" cy="1469.7" rx="4.2" ry="3.6"/><ellipse cx="352.3" cy="1526.9" rx="4.2" ry="3.6"/><ellipse cx="306.9" cy="1552.9" rx="4.2" ry="3.6"/><ellipse cx="407.2" cy="1460.4" rx="4.2" ry="3.6"/><ellipse cx="304.4" cy="1550.4" rx="4.2" ry="3.6"/><ellipse cx="304.4" cy="1556.8" rx="4.2" ry="3.6"/><ellipse cx="312.3" cy="1537.0" rx="4.2" ry="3.6"/><ellipse cx="303.6" cy="1558.8" rx="4.2" ry="3.6"/><ellipse cx="313.3" cy="1507.4" rx="4.2" ry="3.6"/><ellipse cx="336.2" cy="1473.1" rx="4.2" ry="3.6"/><ellipse cx="376.5" cy="1470.1" rx="4.2" ry="3.6"/><ellipse cx="337.4" cy="1521.5" rx="4.2" ry="3.6"/><ellipse cx="400.8" cy="1411.4" rx="4.2" ry="3.6"/><ellipse cx="298.1" cy="1559.8" rx="4.2" ry="3.6"/><ellipse cx="319.3" cy="1504.0" rx="4.2" ry="3.6"/><ellipse cx="369.7" cy="1462.3" rx="4.2" ry="3.6"/><ellipse cx="303.9" cy="1493.2" rx="4.2" ry="3.6"/><ellipse cx="346.0" cy="1460.0" rx="4.2" ry="3.6"/><ellipse cx="295.5" cy="1558.7" rx="4.2" ry="3.6"/><ellipse cx="405.9" cy="1448.1" rx="4.2" ry="3.6"/><ellipse cx="323.4" cy="1506.1" rx="4.2" ry="3.6"/><ellipse cx="331.1" cy="1541.0" rx="4.2" ry="3.6"/><ellipse cx="317.4" cy="1537.6" rx="4.2" ry="3.6"/><ellipse cx="360.5" cy="1417.1" rx="4.2" ry="3.6"/><ellipse cx="352.7" cy="1512.4" rx="4.2" ry="3.6"/><ellipse cx="325.7" cy="1499.6" rx="4.2" ry="3.6"/><ellipse cx="390.2" cy="1481.6" rx="4.2" ry="3.6"/><ellipse cx="313.2" cy="1485.1" rx="4.2" ry="3.6"/><ellipse cx="344.3" cy="1480.2" rx="4.2" ry="3.6"/><ellipse cx="328.3" cy="1525.2" rx="4.2" ry="3.6"/><ellipse cx="366.9" cy="1436.3" rx="4.2" ry="3.6"/><ellipse cx="386.5" cy="1470.1" rx="4.2" ry="3.6"/><ellipse cx="303.5" cy="1554.6" rx="4.2" ry="3.6"/><ellipse cx="336.8" cy="1510.7" rx="4.2" ry="3.6"/><ellipse cx="389.4" cy="1427.1" rx="4.2" ry="3.6"/><ellipse cx="341.1" cy="1468.3" rx="4.2" ry="3.6"/><ellipse cx="341.4" cy="1518.6" rx="4.2" ry="3.6"/><ellipse cx="372.5" cy="1484.4" rx="4.2" ry="3.6"/><ellipse cx="294.5" cy="1530.5" rx="4.2" ry="3.6"/><ellipse cx="301.4" cy="1568.4" rx="4.2" ry="3.6"/><ellipse cx="335.8" cy="1491.0" rx="4.2" ry="3.6"/><ellipse cx="383.4" cy="1436.9" rx="4.2" ry="3.6"/><ellipse cx="378.2" cy="1451.2" rx="4.2" ry="3.6"/><ellipse cx="306.3" cy="1510.4" rx="4.2" ry="3.6"/><ellipse cx="360.6" cy="1460.4" rx="4.2" ry="3.6"/><ellipse cx="349.9" cy="1488.7" rx="4.2" ry="3.6"/><ellipse cx="375.3" cy="1459.5" rx="4.2" ry="3.6"/><ellipse cx="353.5" cy="1511.0" rx="4.2" ry="3.6"/><ellipse cx="355.3" cy="1502.6" rx="4.2" ry="3.6"/><ellipse cx="300.7" cy="1517.0" rx="4.2" ry="3.6"/><ellipse cx="309.5" cy="1529.6" rx="4.2" ry="3.6"/><ellipse cx="406.0" cy="1437.6" rx="4.2" ry="3.6"/><ellipse cx="427.0" cy="1410.6" rx="4.2" ry="3.6"/><ellipse cx="320.4" cy="1546.6" rx="4.2" ry="3.6"/><ellipse cx="299.5" cy="1552.0" rx="4.2" ry="3.6"/><ellipse cx="324.2" cy="1553.3" rx="4.2" ry="3.6"/><ellipse cx="306.0" cy="1540.9" rx="4.2" ry="3.6"/><ellipse cx="325.2" cy="1543.4" rx="4.2" ry="3.6"/><ellipse cx="360.3" cy="1510.3" rx="4.2" ry="3.6"/><ellipse cx="325.0" cy="1524.8" rx="4.2" ry="3.6"/><ellipse cx="385.6" cy="1449.4" rx="4.2" ry="3.6"/><ellipse cx="351.5" cy="1469.5" rx="4.2" ry="3.6"/><ellipse cx="303.6" cy="1554.3" rx="4.2" ry="3.6"/><ellipse cx="376.5" cy="1466.0" rx="4.2" ry="3.6"/><ellipse cx="348.9" cy="1475.8" rx="4.2" ry="3.6"/><ellipse cx="302.8" cy="1561.4" rx="4.2" ry="3.6"/><ellipse cx="302.5" cy="1539.4" rx="4.2" ry="3.6"/><ellipse cx="384.1" cy="1467.0" rx="4.2" ry="3.6"/><ellipse cx="374.6" cy="1454.1" rx="4.2" ry="3.6"/><ellipse cx="357.5" cy="1470.9" rx="4.2" ry="3.6"/><ellipse cx="401.7" cy="1450.4" rx="4.2" ry="3.6"/><ellipse cx="342.5" cy="1508.5" rx="4.2" ry="3.6"/><ellipse cx="307.7" cy="1537.8" rx="4.2" ry="3.6"/><ellipse cx="326.3" cy="1539.3" rx="4.2" ry="3.6"/><ellipse cx="359.9" cy="1480.9" rx="4.2" ry="3.6"/><ellipse cx="306.3" cy="1493.1" rx="4.2" ry="3.6"/><ellipse cx="305.3" cy="1552.7" rx="4.2" ry="3.6"/><ellipse cx="374.3" cy="1438.6" rx="4.2" ry="3.6"/><ellipse cx="343.2" cy="1487.3" rx="4.2" ry="3.6"/><ellipse cx="368.2" cy="1492.1" rx="4.2" ry="3.6"/><ellipse cx="296.4" cy="1563.3" rx="4.2" ry="3.6"/><ellipse cx="323.2" cy="1536.2" rx="4.2" ry="3.6"/><ellipse cx="397.7" cy="1444.3" rx="4.2" ry="3.6"/><ellipse cx="307.1" cy="1529.4" rx="4.2" ry="3.6"/><ellipse cx="320.5" cy="1516.3" rx="4.2" ry="3.6"/><ellipse cx="391.9" cy="1418.9" rx="4.2" ry="3.6"/><ellipse cx="344.8" cy="1416.4" rx="4.2" ry="3.6"/><ellipse cx="336.9" cy="1449.8" rx="4.2" ry="3.6"/><ellipse cx="335.1" cy="1427.1" rx="4.2" ry="3.6"/><ellipse cx="343.2" cy="1538.3" rx="4.2" ry="3.6"/><ellipse cx="409.1" cy="1414.1" rx="4.2" ry="3.6"/><ellipse cx="300.0" cy="1563.5" rx="4.2" ry="3.6"/><ellipse cx="336.7" cy="1481.6" rx="4.2" ry="3.6"/><ellipse cx="311.8" cy="1546.7" rx="4.2" ry="3.6"/><ellipse cx="384.9" cy="1475.9" rx="4.2" ry="3.6"/><ellipse cx="333.8" cy="1518.4" rx="4.2" ry="3.6"/><ellipse cx="313.0" cy="1504.0" rx="4.2" ry="3.6"/><ellipse cx="295.3" cy="1552.4" rx="4.2" ry="3.6"/><ellipse cx="321.6" cy="1555.1" rx="4.2" ry="3.6"/><ellipse cx="341.3" cy="1512.7" rx="4.2" ry="3.6"/><ellipse cx="305.3" cy="1486.5" rx="4.2" ry="3.6"/><ellipse cx="341.1" cy="1527.0" rx="4.2" ry="3.6"/><ellipse cx="342.2" cy="1515.3" rx="4.2" ry="3.6"/><ellipse cx="372.6" cy="1411.7" rx="4.2" ry="3.6"/><ellipse cx="319.7" cy="1507.7" rx="4.2" ry="3.6"/><ellipse cx="313.6" cy="1519.9" rx="4.2" ry="3.6"/><ellipse cx="398.6" cy="1427.3" rx="4.2" ry="3.6"/><ellipse cx="293.0" cy="1564.4" rx="4.2" ry="3.6"/><ellipse cx="318.2" cy="1469.6" rx="4.2" ry="3.6"/><ellipse cx="330.4" cy="1491.7" rx="4.2" ry="3.6"/><ellipse cx="319.3" cy="1495.3" rx="4.2" ry="3.6"/><ellipse cx="342.5" cy="1472.0" rx="4.2" ry="3.6"/><ellipse cx="296.3" cy="1569.8" rx="4.2" ry="3.6"/><ellipse cx="308.3" cy="1547.0" rx="4.2" ry="3.6"/><ellipse cx="312.8" cy="1454.6" rx="4.2" ry="3.6"/><ellipse cx="377.6" cy="1483.0" rx="4.2" ry="3.6"/><ellipse cx="368.0" cy="1481.6" rx="4.2" ry="3.6"/><ellipse cx="369.2" cy="1433.5" rx="4.2" ry="3.6"/><ellipse cx="308.1" cy="1564.7" rx="4.2" ry="3.6"/><ellipse cx="327.6" cy="1501.7" rx="4.2" ry="3.6"/><ellipse cx="382.2" cy="1482.2" rx="4.2" ry="3.6"/><ellipse cx="350.3" cy="1505.9" rx="4.2" ry="3.6"/><ellipse cx="294.8" cy="1562.3" rx="4.2" ry="3.6"/><ellipse cx="294.0" cy="1527.5" rx="4.2" ry="3.6"/><ellipse cx="365.5" cy="1429.1" rx="4.2" ry="3.6"/><ellipse cx="332.3" cy="1433.2" rx="4.2" ry="3.6"/><ellipse cx="408.2" cy="1430.9" rx="4.2" ry="3.6"/><ellipse cx="406.3" cy="1415.8" rx="4.2" ry="3.6"/><ellipse cx="299.1" cy="1565.7" rx="4.2" ry="3.6"/><ellipse cx="296.0" cy="1552.2" rx="4.2" ry="3.6"/><ellipse cx="333.9" cy="1523.8" rx="4.2" ry="3.6"/><ellipse cx="358.1" cy="1454.4" rx="4.2" ry="3.6"/><ellipse cx="322.0" cy="1481.0" rx="4.2" ry="3.6"/><ellipse cx="330.9" cy="1457.9" rx="4.2" ry="3.6"/><ellipse cx="409.8" cy="1422.3" rx="4.2" ry="3.6"/><ellipse cx="357.7" cy="1492.1" rx="4.2" ry="3.6"/><ellipse cx="384.3" cy="1476.8" rx="4.2" ry="3.6"/><ellipse cx="300.9" cy="1571.8" rx="4.2" ry="3.6"/><ellipse cx="296.8" cy="1565.5" rx="4.2" ry="3.6"/><ellipse cx="308.8" cy="1510.2" rx="4.2" ry="3.6"/><ellipse cx="353.2" cy="1516.2" rx="4.2" ry="3.6"/><ellipse cx="418.2" cy="1421.3" rx="4.2" ry="3.6"/><ellipse cx="374.7" cy="1451.3" rx="4.2" ry="3.6"/><ellipse cx="360.7" cy="1485.2" rx="4.2" ry="3.6"/><ellipse cx="300.5" cy="1518.3" rx="4.2" ry="3.6"/><ellipse cx="344.0" cy="1516.5" rx="4.2" ry="3.6"/><ellipse cx="332.2" cy="1478.9" rx="4.2" ry="3.6"/><ellipse cx="331.5" cy="1531.7" rx="4.2" ry="3.6"/><ellipse cx="335.5" cy="1503.1" rx="4.2" ry="3.6"/><ellipse cx="307.0" cy="1566.6" rx="4.2" ry="3.6"/><ellipse cx="296.0" cy="1573.8" rx="4.2" ry="3.6"/><ellipse cx="391.8" cy="1448.2" rx="4.2" ry="3.6"/><ellipse cx="307.0" cy="1564.7" rx="4.2" ry="3.6"/><ellipse cx="393.9" cy="1452.7" rx="4.2" ry="3.6"/><ellipse cx="324.5" cy="1548.7" rx="4.2" ry="3.6"/><ellipse cx="342.4" cy="1443.4" rx="4.2" ry="3.6"/><ellipse cx="393.7" cy="1433.8" rx="4.2" ry="3.6"/><ellipse cx="304.7" cy="1549.6" rx="4.2" ry="3.6"/><ellipse cx="330.0" cy="1458.5" rx="4.2" ry="3.6"/><ellipse cx="373.2" cy="1410.0" rx="4.2" ry="3.6"/><ellipse cx="423.9" cy="1410.1" rx="4.2" ry="3.6"/><ellipse cx="436.5" cy="1408.1" rx="4.2" ry="3.6"/><ellipse cx="303.0" cy="1450.2" rx="4.2" ry="3.6"/><ellipse cx="331.8" cy="1526.5" rx="4.2" ry="3.6"/><ellipse cx="412.6" cy="1428.8" rx="4.2" ry="3.6"/><ellipse cx="346.8" cy="1526.7" rx="4.2" ry="3.6"/><ellipse cx="361.7" cy="1499.8" rx="4.2" ry="3.6"/><ellipse cx="315.7" cy="1498.1" rx="4.2" ry="3.6"/><ellipse cx="390.2" cy="1439.9" rx="4.2" ry="3.6"/><ellipse cx="324.7" cy="1538.1" rx="4.2" ry="3.6"/><ellipse cx="309.5" cy="1562.0" rx="4.2" ry="3.6"/><ellipse cx="349.7" cy="1425.1" rx="4.2" ry="3.6"/><ellipse cx="304.8" cy="1563.5" rx="4.2" ry="3.6"/><ellipse cx="306.3" cy="1564.5" rx="4.2" ry="3.6"/><ellipse cx="365.1" cy="1485.1" rx="4.2" ry="3.6"/><ellipse cx="370.3" cy="1482.4" rx="4.2" ry="3.6"/><ellipse cx="424.1" cy="1437.0" rx="4.2" ry="3.6"/><ellipse cx="366.7" cy="1420.7" rx="4.2" ry="3.6"/><ellipse cx="331.2" cy="1488.3" rx="4.2" ry="3.6"/><ellipse cx="379.9" cy="1477.1" rx="4.2" ry="3.6"/><ellipse cx="312.1" cy="1505.9" rx="4.2" ry="3.6"/><ellipse cx="329.1" cy="1490.1" rx="4.2" ry="3.6"/><ellipse cx="322.0" cy="1492.4" rx="4.2" ry="3.6"/><ellipse cx="293.9" cy="1574.4" rx="4.2" ry="3.6"/><ellipse cx="332.6" cy="1410.0" rx="4.2" ry="3.6"/><ellipse cx="377.4" cy="1478.6" rx="4.2" ry="3.6"/><ellipse cx="302.6" cy="1569.3" rx="4.2" ry="3.6"/><ellipse cx="293.9" cy="1504.9" rx="4.2" ry="3.6"/><ellipse cx="374.9" cy="1451.7" rx="4.2" ry="3.6"/><ellipse cx="325.0" cy="1498.6" rx="4.2" ry="3.6"/><ellipse cx="320.5" cy="1541.7" rx="4.2" ry="3.6"/><ellipse cx="362.2" cy="1508.1" rx="4.2" ry="3.6"/><ellipse cx="295.3" cy="1534.7" rx="4.2" ry="3.6"/><ellipse cx="313.0" cy="1519.1" rx="4.2" ry="3.6"/><ellipse cx="329.5" cy="1546.0" rx="4.2" ry="3.6"/><ellipse cx="323.9" cy="1504.4" rx="4.2" ry="3.6"/><ellipse cx="326.5" cy="1535.1" rx="4.2" ry="3.6"/><ellipse cx="305.4" cy="1560.6" rx="4.2" ry="3.6"/><ellipse cx="373.9" cy="1412.9" rx="4.2" ry="3.6"/><ellipse cx="353.7" cy="1529.4" rx="4.2" ry="3.6"/><ellipse cx="352.0" cy="1487.8" rx="4.2" ry="3.6"/><ellipse cx="357.3" cy="1525.7" rx="4.2" ry="3.6"/><ellipse cx="395.6" cy="1461.5" rx="4.2" ry="3.6"/><ellipse cx="294.2" cy="1540.0" rx="4.2" ry="3.6"/><ellipse cx="303.8" cy="1541.7" rx="4.2" ry="3.6"/><ellipse cx="387.7" cy="1445.8" rx="4.2" ry="3.6"/><ellipse cx="318.5" cy="1509.1" rx="4.2" ry="3.6"/><ellipse cx="303.5" cy="1567.4" rx="4.2" ry="3.6"/><ellipse cx="363.6" cy="1449.3" rx="4.2" ry="3.6"/><ellipse cx="384.2" cy="1465.8" rx="4.2" ry="3.6"/><ellipse cx="357.7" cy="1501.3" rx="4.2" ry="3.6"/><ellipse cx="295.5" cy="1564.4" rx="4.2" ry="3.6"/><ellipse cx="352.7" cy="1418.7" rx="4.2" ry="3.6"/><ellipse cx="343.7" cy="1430.3" rx="4.2" ry="3.6"/><ellipse cx="302.8" cy="1504.9" rx="4.2" ry="3.6"/><ellipse cx="301.8" cy="1545.1" rx="4.2" ry="3.6"/><ellipse cx="302.9" cy="1543.3" rx="4.2" ry="3.6"/><ellipse cx="319.5" cy="1552.8" rx="4.2" ry="3.6"/><ellipse cx="334.2" cy="1536.0" rx="4.2" ry="3.6"/><ellipse cx="331.9" cy="1547.0" rx="4.2" ry="3.6"/><ellipse cx="329.1" cy="1547.3" rx="4.2" ry="3.6"/><ellipse cx="341.4" cy="1522.1" rx="4.2" ry="3.6"/><ellipse cx="315.7" cy="1502.7" rx="4.2" ry="3.6"/><ellipse cx="299.4" cy="1556.5" rx="4.2" ry="3.6"/><ellipse cx="301.6" cy="1520.4" rx="4.2" ry="3.6"/><ellipse cx="309.2" cy="1536.0" rx="4.2" ry="3.6"/><ellipse cx="389.5" cy="1455.1" rx="4.2" ry="3.6"/><ellipse cx="299.6" cy="1544.2" rx="4.2" ry="3.6"/><ellipse cx="391.8" cy="1466.3" rx="4.2" ry="3.6"/><ellipse cx="404.7" cy="1420.3" rx="4.2" ry="3.6"/><ellipse cx="298.9" cy="1519.5" rx="4.2" ry="3.6"/><ellipse cx="356.6" cy="1518.8" rx="4.2" ry="3.6"/><ellipse cx="397.5" cy="1448.4" rx="4.2" ry="3.6"/><ellipse cx="319.2" cy="1539.0" rx="4.2" ry="3.6"/><ellipse cx="354.4" cy="1429.2" rx="4.2" ry="3.6"/><ellipse cx="385.7" cy="1455.1" rx="4.2" ry="3.6"/><ellipse cx="329.1" cy="1514.6" rx="4.2" ry="3.6"/><ellipse cx="312.3" cy="1561.9" rx="4.2" ry="3.6"/><ellipse cx="364.4" cy="1502.7" rx="4.2" ry="3.6"/><ellipse cx="301.1" cy="1536.3" rx="4.2" ry="3.6"/><ellipse cx="296.3" cy="1573.4" rx="4.2" ry="3.6"/><ellipse cx="326.9" cy="1548.2" rx="4.2" ry="3.6"/><ellipse cx="306.2" cy="1562.2" rx="4.2" ry="3.6"/><ellipse cx="318.5" cy="1494.0" rx="4.2" ry="3.6"/><ellipse cx="302.1" cy="1562.7" rx="4.2" ry="3.6"/><ellipse cx="305.6" cy="1553.7" rx="4.2" ry="3.6"/><ellipse cx="382.9" cy="1470.5" rx="4.2" ry="3.6"/><ellipse cx="319.3" cy="1533.7" rx="4.2" ry="3.6"/><ellipse cx="431.8" cy="1422.9" rx="4.2" ry="3.6"/><ellipse cx="341.3" cy="1470.7" rx="4.2" ry="3.6"/><ellipse cx="318.7" cy="1556.7" rx="4.2" ry="3.6"/><ellipse cx="310.9" cy="1469.1" rx="4.2" ry="3.6"/><ellipse cx="344.4" cy="1494.6" rx="4.2" ry="3.6"/><ellipse cx="296.3" cy="1572.1" rx="4.2" ry="3.6"/><ellipse cx="336.5" cy="1506.7" rx="4.2" ry="3.6"/><ellipse cx="338.8" cy="1449.8" rx="4.2" ry="3.6"/><ellipse cx="307.3" cy="1442.6" rx="4.2" ry="3.6"/><ellipse cx="396.7" cy="1447.5" rx="4.2" ry="3.6"/><ellipse cx="338.7" cy="1497.8" rx="4.2" ry="3.6"/><ellipse cx="394.8" cy="1419.1" rx="4.2" ry="3.6"/><ellipse cx="309.4" cy="1517.3" rx="4.2" ry="3.6"/><ellipse cx="314.3" cy="1512.5" rx="4.2" ry="3.6"/><ellipse cx="323.1" cy="1446.9" rx="4.2" ry="3.6"/><ellipse cx="312.3" cy="1544.2" rx="4.2" ry="3.6"/><ellipse cx="384.3" cy="1466.0" rx="4.2" ry="3.6"/><ellipse cx="321.9" cy="1517.2" rx="4.2" ry="3.6"/><ellipse cx="348.2" cy="1496.9" rx="4.2" ry="3.6"/><ellipse cx="328.8" cy="1538.7" rx="4.2" ry="3.6"/><ellipse cx="387.4" cy="1446.8" rx="4.2" ry="3.6"/><ellipse cx="315.1" cy="1528.8" rx="4.2" ry="3.6"/><ellipse cx="359.9" cy="1503.7" rx="4.2" ry="3.6"/><ellipse cx="398.1" cy="1471.2" rx="4.2" ry="3.6"/><ellipse cx="293.5" cy="1554.5" rx="4.2" ry="3.6"/><ellipse cx="375.2" cy="1472.8" rx="4.2" ry="3.6"/><ellipse cx="398.6" cy="1442.8" rx="4.2" ry="3.6"/><ellipse cx="320.2" cy="1534.2" rx="4.2" ry="3.6"/><ellipse cx="304.2" cy="1536.8" rx="4.2" ry="3.6"/><ellipse cx="327.2" cy="1535.6" rx="4.2" ry="3.6"/><ellipse cx="333.9" cy="1530.4" rx="4.2" ry="3.6"/><ellipse cx="344.5" cy="1497.4" rx="4.2" ry="3.6"/><ellipse cx="340.1" cy="1441.0" rx="4.2" ry="3.6"/><ellipse cx="307.0" cy="1504.5" rx="4.2" ry="3.6"/><ellipse cx="401.1" cy="1427.5" rx="4.2" ry="3.6"/><ellipse cx="386.7" cy="1455.3" rx="4.2" ry="3.6"/><ellipse cx="314.2" cy="1501.7" rx="4.2" ry="3.6"/><ellipse cx="292.7" cy="1567.7" rx="4.2" ry="3.6"/><ellipse cx="321.6" cy="1461.6" rx="4.2" ry="3.6"/><ellipse cx="293.2" cy="1558.0" rx="4.2" ry="3.6"/><ellipse cx="325.1" cy="1453.5" rx="4.2" ry="3.6"/><ellipse cx="312.1" cy="1469.3" rx="4.2" ry="3.6"/><ellipse cx="371.2" cy="1449.8" rx="4.2" ry="3.6"/><ellipse cx="314.6" cy="1528.9" rx="4.2" ry="3.6"/><ellipse cx="319.9" cy="1540.1" rx="4.2" ry="3.6"/><ellipse cx="300.6" cy="1509.6" rx="4.2" ry="3.6"/><ellipse cx="293.6" cy="1556.1" rx="4.2" ry="3.6"/><ellipse cx="351.8" cy="1466.5" rx="4.2" ry="3.6"/><ellipse cx="379.9" cy="1440.1" rx="4.2" ry="3.6"/><ellipse cx="444.3" cy="1408.5" rx="4.2" ry="3.6"/><ellipse cx="418.3" cy="1407.3" rx="4.2" ry="3.6"/><ellipse cx="376.3" cy="1407.9" rx="4.2" ry="3.6"/><ellipse cx="364.3" cy="1411.2" rx="4.2" ry="3.6"/><ellipse cx="366.7" cy="1413.4" rx="4.2" ry="3.6"/><ellipse cx="359.2" cy="1412.0" rx="4.2" ry="3.6"/><ellipse cx="432.7" cy="1408.0" rx="4.2" ry="3.6"/><ellipse cx="370.9" cy="1413.1" rx="4.2" ry="3.6"/><ellipse cx="395.1" cy="1414.5" rx="4.2" ry="3.6"/><ellipse cx="382.4" cy="1410.2" rx="4.2" ry="3.6"/><ellipse cx="441.9" cy="1409.8" rx="4.2" ry="3.6"/><ellipse cx="442.8" cy="1414.1" rx="4.2" ry="3.6"/><ellipse cx="369.2" cy="1411.4" rx="4.2" ry="3.6"/><ellipse cx="440.4" cy="1407.9" rx="4.2" ry="3.6"/><ellipse cx="431.5" cy="1413.2" rx="4.2" ry="3.6"/><ellipse cx="421.9" cy="1411.8" rx="4.2" ry="3.6"/><ellipse cx="359.6" cy="1414.7" rx="4.2" ry="3.6"/><ellipse cx="359.8" cy="1413.3" rx="4.2" ry="3.6"/><ellipse cx="419.4" cy="1409.5" rx="4.2" ry="3.6"/><ellipse cx="415.7" cy="1410.3" rx="4.2" ry="3.6"/><ellipse cx="422.1" cy="1407.3" rx="4.2" ry="3.6"/><ellipse cx="439.6" cy="1410.1" rx="4.2" ry="3.6"/><ellipse cx="427.1" cy="1410.8" rx="4.2" ry="3.6"/><ellipse cx="428.0" cy="1409.4" rx="4.2" ry="3.6"/><ellipse cx="402.3" cy="1407.2" rx="4.2" ry="3.6"/><ellipse cx="397.0" cy="1407.6" rx="4.2" ry="3.6"/><ellipse cx="432.5" cy="1412.4" rx="4.2" ry="3.6"/><ellipse cx="390.8" cy="1414.8" rx="4.2" ry="3.6"/><ellipse cx="440.9" cy="1414.7" rx="4.2" ry="3.6"/><ellipse cx="357.9" cy="1412.6" rx="4.2" ry="3.6"/><ellipse cx="419.8" cy="1411.8" rx="4.2" ry="3.6"/><ellipse cx="351.5" cy="1414.4" rx="4.2" ry="3.6"/><ellipse cx="392.1" cy="1411.8" rx="4.2" ry="3.6"/><ellipse cx="428.2" cy="1409.2" rx="4.2" ry="3.6"/><ellipse cx="352.8" cy="1414.4" rx="4.2" ry="3.6"/><ellipse cx="376.0" cy="1407.3" rx="4.2" ry="3.6"/><ellipse cx="363.1" cy="1415.0" rx="4.2" ry="3.6"/><ellipse cx="421.0" cy="1408.7" rx="4.2" ry="3.6"/><ellipse cx="364.1" cy="1414.2" rx="4.2" ry="3.6"/><ellipse cx="413.8" cy="1411.7" rx="4.2" ry="3.6"/><ellipse cx="362.6" cy="1410.3" rx="4.2" ry="3.6"/><ellipse cx="440.9" cy="1407.0" rx="4.2" ry="3.6"/><ellipse cx="390.2" cy="1407.5" rx="4.2" ry="3.6"/><ellipse cx="445.8" cy="1407.8" rx="4.2" ry="3.6"/><ellipse cx="441.6" cy="1413.7" rx="4.2" ry="3.6"/><ellipse cx="420.2" cy="1407.3" rx="4.2" ry="3.6"/><ellipse cx="416.8" cy="1410.9" rx="4.2" ry="3.6"/><ellipse cx="397.2" cy="1408.2" rx="4.2" ry="3.6"/><ellipse cx="399.2" cy="1413.4" rx="4.2" ry="3.6"/><ellipse cx="362.6" cy="1414.0" rx="4.2" ry="3.6"/><ellipse cx="390.3" cy="1409.1" rx="4.2" ry="3.6"/><ellipse cx="373.0" cy="1410.7" rx="4.2" ry="3.6"/><ellipse cx="412.2" cy="1411.6" rx="4.2" ry="3.6"/><ellipse cx="435.4" cy="1411.1" rx="4.2" ry="3.6"/><ellipse cx="399.2" cy="1414.9" rx="4.2" ry="3.6"/><ellipse cx="370.7" cy="1407.1" rx="4.2" ry="3.6"/><ellipse cx="381.5" cy="1409.5" rx="4.2" ry="3.6"/><ellipse cx="361.9" cy="1410.3" rx="4.2" ry="3.6"/><ellipse cx="353.3" cy="1414.4" rx="4.2" ry="3.6"/><ellipse cx="396.5" cy="1414.0" rx="4.2" ry="3.6"/></g>
<g fill="#ff0000"><ellipse cx="486.4" cy="958.3" rx="4.3" ry="3.7"/><ellipse cx="682.7" cy="982.5" rx="4.3" ry="3.7"/><ellipse cx="457.1" cy="1072.4" rx="4.3" ry="3.7"/><ellipse cx="560.6" cy="1121.4" rx="4.3" ry="3.7"/><ellipse cx="568.2" cy="1122.8" rx="4.3" ry="3.7"/><ellipse cx="503.0" cy="1136.9" rx="4.3" ry="3.7"/><ellipse cx="389.4" cy="1123.3" rx="4.3" ry="3.7"/><ellipse cx="526.3" cy="1169.1" rx="4.3" ry="3.7"/><ellipse cx="423.5" cy="1180.6" rx="4.3" ry="3.7"/><ellipse cx="599.3" cy="1189.4" rx="4.3" ry="3.7"/><ellipse cx="500.7" cy="1191.7" rx="4.3" ry="3.7"/><ellipse cx="571.9" cy="1198.5" rx="4.3" ry="3.7"/><ellipse cx="498.2" cy="1204.2" rx="4.3" ry="3.7"/><ellipse cx="451.5" cy="1207.8" rx="4.3" ry="3.7"/><ellipse cx="508.5" cy="1208.0" rx="4.3" ry="3.7"/><ellipse cx="541.2" cy="1210.3" rx="4.3" ry="3.7"/><ellipse cx="479.5" cy="1219.3" rx="4.3" ry="3.7"/><ellipse cx="526.6" cy="1222.8" rx="4.3" ry="3.7"/><ellipse cx="478.6" cy="1229.9" rx="4.3" ry="3.7"/><ellipse cx="484.1" cy="1228.4" rx="4.3" ry="3.7"/><ellipse cx="493.2" cy="1230.4" rx="4.3" ry="3.7"/><ellipse cx="485.3" cy="1248.1" rx="4.3" ry="3.7"/><ellipse cx="530.4" cy="1249.3" rx="4.3" ry="3.7"/><ellipse cx="535.9" cy="1247.8" rx="4.3" ry="3.7"/><ellipse cx="459.6" cy="1266.5" rx="4.3" ry="3.7"/><ellipse cx="445.5" cy="1271.6" rx="4.3" ry="3.7"/><ellipse cx="518.7" cy="1271.4" rx="4.3" ry="3.7"/><ellipse cx="491.8" cy="1277.7" rx="4.3" ry="3.7"/><ellipse cx="441.2" cy="1279.4" rx="4.3" ry="3.7"/><ellipse cx="457.9" cy="1283.8" rx="4.3" ry="3.7"/><ellipse cx="449.4" cy="1288.1" rx="4.3" ry="3.7"/><ellipse cx="440.0" cy="1291.0" rx="4.3" ry="3.7"/><ellipse cx="506.2" cy="1290.7" rx="4.3" ry="3.7"/><ellipse cx="507.4" cy="1296.7" rx="4.3" ry="3.7"/><ellipse cx="507.4" cy="1301.3" rx="4.3" ry="3.7"/><ellipse cx="489.2" cy="1297.3" rx="4.3" ry="3.7"/><ellipse cx="484.4" cy="1300.8" rx="4.3" ry="3.7"/><ellipse cx="456.1" cy="1302.3" rx="4.3" ry="3.7"/><ellipse cx="468.6" cy="1303.6" rx="4.3" ry="3.7"/><ellipse cx="482.4" cy="1307.1" rx="4.3" ry="3.7"/><ellipse cx="449.8" cy="1308.0" rx="4.3" ry="3.7"/><ellipse cx="460.7" cy="1308.2" rx="4.3" ry="3.7"/><ellipse cx="468.2" cy="1310.6" rx="4.3" ry="3.7"/><ellipse cx="461.3" cy="1313.4" rx="4.3" ry="3.7"/><ellipse cx="482.1" cy="1314.0" rx="4.3" ry="3.7"/><ellipse cx="462.5" cy="1319.8" rx="4.3" ry="3.7"/><ellipse cx="495.1" cy="1321.5" rx="4.3" ry="3.7"/><ellipse cx="484.9" cy="1322.6" rx="4.3" ry="3.7"/><ellipse cx="481.5" cy="1324.4" rx="4.3" ry="3.7"/><ellipse cx="478.0" cy="1327.3" rx="4.3" ry="3.7"/><ellipse cx="459.6" cy="1325.0" rx="4.3" ry="3.7"/><ellipse cx="441.7" cy="1323.2" rx="4.3" ry="3.7"/><ellipse cx="448.6" cy="1327.3" rx="4.3" ry="3.7"/><ellipse cx="487.2" cy="1336.7" rx="4.3" ry="3.7"/><ellipse cx="461.0" cy="1338.4" rx="4.3" ry="3.7"/><ellipse cx="471.7" cy="1342.5" rx="4.3" ry="3.7"/><ellipse cx="442.9" cy="1334.7" rx="4.3" ry="3.7"/><ellipse cx="443.5" cy="1342.8" rx="4.3" ry="3.7"/><ellipse cx="442.3" cy="1348.0" rx="4.3" ry="3.7"/><ellipse cx="450.4" cy="1352.6" rx="4.3" ry="3.7"/><ellipse cx="451.5" cy="1358.9" rx="4.3" ry="3.7"/><ellipse cx="471.1" cy="1359.5" rx="4.3" ry="3.7"/><ellipse cx="490.7" cy="1357.8" rx="4.3" ry="3.7"/><ellipse cx="471.1" cy="1364.7" rx="4.3" ry="3.7"/><ellipse cx="475.7" cy="1369.3" rx="4.3" ry="3.7"/><ellipse cx="397.1" cy="1196.1" rx="4.3" ry="3.7"/><ellipse cx="432.6" cy="1197.3" rx="4.3" ry="3.7"/><ellipse cx="401.5" cy="1211.1" rx="4.3" ry="3.7"/><ellipse cx="356.6" cy="1246.4" rx="4.3" ry="3.7"/><ellipse cx="381.5" cy="1257.9" rx="4.3" ry="3.7"/><ellipse cx="410.3" cy="1257.6" rx="4.3" ry="3.7"/><ellipse cx="345.5" cy="1267.1" rx="4.3" ry="3.7"/><ellipse cx="402.7" cy="1268.2" rx="4.3" ry="3.7"/><ellipse cx="360.0" cy="1274.2" rx="4.3" ry="3.7"/><ellipse cx="431.9" cy="1273.1" rx="4.3" ry="3.7"/><ellipse cx="386.8" cy="1277.9" rx="4.3" ry="3.7"/><ellipse cx="429.9" cy="1284.1" rx="4.3" ry="3.7"/><ellipse cx="385.9" cy="1290.4" rx="4.3" ry="3.7"/><ellipse cx="399.9" cy="1289.0" rx="4.3" ry="3.7"/><ellipse cx="381.2" cy="1299.6" rx="4.3" ry="3.7"/><ellipse cx="363.7" cy="1306.3" rx="4.3" ry="3.7"/><ellipse cx="363.7" cy="1308.6" rx="4.3" ry="3.7"/><ellipse cx="354.5" cy="1311.8" rx="4.3" ry="3.7"/><ellipse cx="414.7" cy="1309.5" rx="4.3" ry="3.7"/><ellipse cx="421.1" cy="1310.6" rx="4.3" ry="3.7"/><ellipse cx="432.6" cy="1314.1" rx="4.3" ry="3.7"/><ellipse cx="428.0" cy="1319.4" rx="4.3" ry="3.7"/><ellipse cx="381.2" cy="1318.5" rx="4.3" ry="3.7"/><ellipse cx="424.2" cy="1398.3" rx="4.3" ry="3.7"/><ellipse cx="375.3" cy="1389.2" rx="4.3" ry="3.7"/><ellipse cx="402.4" cy="1402.2" rx="4.3" ry="3.7"/><ellipse cx="406.7" cy="1396.9" rx="4.3" ry="3.7"/><ellipse cx="379.8" cy="1402.1" rx="4.3" ry="3.7"/><ellipse cx="431.2" cy="1397.6" rx="4.3" ry="3.7"/><ellipse cx="355.7" cy="1394.6" rx="4.3" ry="3.7"/><ellipse cx="365.5" cy="1379.6" rx="4.3" ry="3.7"/><ellipse cx="422.8" cy="1391.7" rx="4.3" ry="3.7"/><ellipse cx="412.3" cy="1394.0" rx="4.3" ry="3.7"/><ellipse cx="403.2" cy="1401.0" rx="4.3" ry="3.7"/><ellipse cx="441.6" cy="1392.3" rx="4.3" ry="3.7"/><ellipse cx="406.0" cy="1395.2" rx="4.3" ry="3.7"/><ellipse cx="395.8" cy="1392.4" rx="4.3" ry="3.7"/><ellipse cx="356.8" cy="1402.5" rx="4.3" ry="3.7"/><ellipse cx="388.6" cy="1391.3" rx="4.3" ry="3.7"/><ellipse cx="403.0" cy="1394.6" rx="4.3" ry="3.7"/><ellipse cx="381.7" cy="1398.5" rx="4.3" ry="3.7"/><ellipse cx="382.7" cy="1395.6" rx="4.3" ry="3.7"/><ellipse cx="447.0" cy="1397.0" rx="4.3" ry="3.7"/><ellipse cx="420.2" cy="1401.6" rx="4.3" ry="3.7"/><ellipse cx="385.3" cy="1402.1" rx="4.3" ry="3.7"/><ellipse cx="382.3" cy="1391.6" rx="4.3" ry="3.7"/><ellipse cx="368.6" cy="1399.2" rx="4.3" ry="3.7"/><ellipse cx="443.5" cy="1384.8" rx="4.3" ry="3.7"/><ellipse cx="373.6" cy="1401.2" rx="4.3" ry="3.7"/><ellipse cx="349.2" cy="1395.2" rx="4.3" ry="3.7"/><ellipse cx="438.5" cy="1401.3" rx="4.3" ry="3.7"/><ellipse cx="370.3" cy="1399.5" rx="4.3" ry="3.7"/><ellipse cx="417.7" cy="1397.3" rx="4.3" ry="3.7"/><ellipse cx="384.5" cy="1400.1" rx="4.3" ry="3.7"/><ellipse cx="368.0" cy="1393.3" rx="4.3" ry="3.7"/><ellipse cx="434.8" cy="1397.6" rx="4.3" ry="3.7"/><ellipse cx="355.2" cy="1385.9" rx="4.3" ry="3.7"/><ellipse cx="419.5" cy="1381.3" rx="4.3" ry="3.7"/><ellipse cx="392.1" cy="1388.5" rx="4.3" ry="3.7"/><ellipse cx="421.3" cy="1401.1" rx="4.3" ry="3.7"/><ellipse cx="350.3" cy="1400.5" rx="4.3" ry="3.7"/><ellipse cx="393.7" cy="1398.2" rx="4.3" ry="3.7"/><ellipse cx="438.4" cy="1390.6" rx="4.3" ry="3.7"/><ellipse cx="353.7" cy="1391.6" rx="4.3" ry="3.7"/><ellipse cx="406.0" cy="1397.9" rx="4.3" ry="3.7"/><ellipse cx="442.4" cy="1397.0" rx="4.3" ry="3.7"/><ellipse cx="421.1" cy="1399.7" rx="4.3" ry="3.7"/><ellipse cx="379.7" cy="1398.3" rx="4.3" ry="3.7"/><ellipse cx="404.3" cy="1398.5" rx="4.3" ry="3.7"/><ellipse cx="430.0" cy="1398.6" rx="4.3" ry="3.7"/><ellipse cx="362.5" cy="1394.4" rx="4.3" ry="3.7"/><ellipse cx="444.1" cy="1401.5" rx="4.3" ry="3.7"/><ellipse cx="444.8" cy="1395.1" rx="4.3" ry="3.7"/><ellipse cx="354.9" cy="1397.3" rx="4.3" ry="3.7"/><ellipse cx="386.9" cy="1392.1" rx="4.3" ry="3.7"/><ellipse cx="379.7" cy="1393.8" rx="4.3" ry="3.7"/><ellipse cx="346.6" cy="1394.0" rx="4.3" ry="3.7"/><ellipse cx="361.3" cy="1394.8" rx="4.3" ry="3.7"/><ellipse cx="375.8" cy="1394.9" rx="4.3" ry="3.7"/><ellipse cx="398.1" cy="1388.8" rx="4.3" ry="3.7"/><ellipse cx="370.2" cy="1389.9" rx="4.3" ry="3.7"/><ellipse cx="426.7" cy="1396.8" rx="4.3" ry="3.7"/><ellipse cx="359.7" cy="1399.3" rx="4.3" ry="3.7"/><ellipse cx="440.2" cy="1402.3" rx="4.3" ry="3.7"/><ellipse cx="360.7" cy="1393.4" rx="4.3" ry="3.7"/><ellipse cx="365.9" cy="1401.3" rx="4.3" ry="3.7"/><ellipse cx="378.6" cy="1398.5" rx="4.3" ry="3.7"/><ellipse cx="386.2" cy="1391.0" rx="4.3" ry="3.7"/><ellipse cx="393.8" cy="1393.7" rx="4.3" ry="3.7"/><ellipse cx="439.6" cy="1390.6" rx="4.3" ry="3.7"/><ellipse cx="388.5" cy="1393.6" rx="4.3" ry="3.7"/><ellipse cx="447.6" cy="1397.0" rx="4.3" ry="3.7"/><ellipse cx="399.2" cy="1399.8" rx="4.3" ry="3.7"/><ellipse cx="372.1" cy="1399.3" rx="4.3" ry="3.7"/><ellipse cx="357.5" cy="1395.0" rx="4.3" ry="3.7"/><ellipse cx="450.4" cy="1355.2" rx="4.3" ry="3.7"/><ellipse cx="393.1" cy="1373.6" rx="4.3" ry="3.7"/><ellipse cx="408.4" cy="1322.7" rx="4.3" ry="3.7"/><ellipse cx="373.4" cy="1385.3" rx="4.3" ry="3.7"/><ellipse cx="391.6" cy="1337.6" rx="4.3" ry="3.7"/><ellipse cx="384.3" cy="1345.7" rx="4.3" ry="3.7"/><ellipse cx="443.3" cy="1326.4" rx="4.3" ry="3.7"/><ellipse cx="423.5" cy="1385.2" rx="4.3" ry="3.7"/><ellipse cx="459.0" cy="1345.3" rx="4.3" ry="3.7"/><ellipse cx="396.3" cy="1390.8" rx="4.3" ry="3.7"/><ellipse cx="441.6" cy="1373.6" rx="4.3" ry="3.7"/><ellipse cx="346.9" cy="1367.8" rx="4.3" ry="3.7"/><ellipse cx="443.8" cy="1359.4" rx="4.3" ry="3.7"/><ellipse cx="478.1" cy="1326.2" rx="4.3" ry="3.7"/><ellipse cx="378.2" cy="1359.6" rx="4.3" ry="3.7"/><ellipse cx="414.0" cy="1320.5" rx="4.3" ry="3.7"/><ellipse cx="362.6" cy="1367.0" rx="4.3" ry="3.7"/><ellipse cx="357.1" cy="1374.0" rx="4.3" ry="3.7"/><ellipse cx="404.6" cy="1329.9" rx="4.3" ry="3.7"/><ellipse cx="390.4" cy="1328.1" rx="4.3" ry="3.7"/><ellipse cx="403.6" cy="1327.5" rx="4.3" ry="3.7"/><ellipse cx="427.1" cy="1362.8" rx="4.3" ry="3.7"/><ellipse cx="466.4" cy="1324.3" rx="4.3" ry="3.7"/><ellipse cx="424.6" cy="1382.4" rx="4.3" ry="3.7"/><ellipse cx="355.4" cy="1389.6" rx="4.3" ry="3.7"/><ellipse cx="404.4" cy="1361.7" rx="4.3" ry="3.7"/><ellipse cx="451.5" cy="1383.0" rx="4.3" ry="3.7"/><ellipse cx="363.0" cy="1380.2" rx="4.3" ry="3.7"/><ellipse cx="398.7" cy="1345.5" rx="4.3" ry="3.7"/><ellipse cx="393.7" cy="1343.7" rx="4.3" ry="3.7"/><ellipse cx="457.8" cy="1390.3" rx="4.3" ry="3.7"/><ellipse cx="460.1" cy="1363.1" rx="4.3" ry="3.7"/><ellipse cx="383.3" cy="1390.5" rx="4.3" ry="3.7"/><ellipse cx="388.2" cy="1324.0" rx="4.3" ry="3.7"/><ellipse cx="423.6" cy="1363.0" rx="4.3" ry="3.7"/><ellipse cx="404.8" cy="1363.3" rx="4.3" ry="3.7"/><ellipse cx="485.3" cy="1325.5" rx="4.3" ry="3.7"/><ellipse cx="446.3" cy="1370.2" rx="4.3" ry="3.7"/><ellipse cx="449.4" cy="1394.2" rx="4.3" ry="3.7"/><ellipse cx="402.9" cy="1356.8" rx="4.3" ry="3.7"/><ellipse cx="447.5" cy="1342.2" rx="4.3" ry="3.7"/><ellipse cx="416.9" cy="1383.3" rx="4.3" ry="3.7"/><ellipse cx="411.2" cy="1363.7" rx="4.3" ry="3.7"/><ellipse cx="423.6" cy="1396.7" rx="4.3" ry="3.7"/><ellipse cx="417.3" cy="1387.5" rx="4.3" ry="3.7"/><ellipse cx="393.3" cy="1376.3" rx="4.3" ry="3.7"/><ellipse cx="398.9" cy="1399.5" rx="4.3" ry="3.7"/><ellipse cx="352.1" cy="1364.3" rx="4.3" ry="3.7"/><ellipse cx="381.3" cy="1354.2" rx="4.3" ry="3.7"/><ellipse cx="428.3" cy="1353.9" rx="4.3" ry="3.7"/><ellipse cx="470.5" cy="1323.2" rx="4.3" ry="3.7"/><ellipse cx="394.6" cy="1327.5" rx="4.3" ry="3.7"/><ellipse cx="383.2" cy="1321.7" rx="4.3" ry="3.7"/><ellipse cx="387.5" cy="1372.9" rx="4.3" ry="3.7"/><ellipse cx="434.4" cy="1341.9" rx="4.3" ry="3.7"/><ellipse cx="448.9" cy="1376.3" rx="4.3" ry="3.7"/><ellipse cx="413.3" cy="1340.7" rx="4.3" ry="3.7"/><ellipse cx="413.6" cy="1368.1" rx="4.3" ry="3.7"/><ellipse cx="417.2" cy="1331.6" rx="4.3" ry="3.7"/><ellipse cx="456.5" cy="1398.7" rx="4.3" ry="3.7"/><ellipse cx="395.2" cy="1366.6" rx="4.3" ry="3.7"/><ellipse cx="392.0" cy="1342.3" rx="4.3" ry="3.7"/><ellipse cx="344.0" cy="1395.5" rx="4.3" ry="3.7"/><ellipse cx="428.6" cy="1346.9" rx="4.3" ry="3.7"/><ellipse cx="469.7" cy="1318.5" rx="4.3" ry="3.7"/><ellipse cx="398.0" cy="1365.3" rx="4.3" ry="3.7"/><ellipse cx="451.9" cy="1371.2" rx="4.3" ry="3.7"/><ellipse cx="395.0" cy="1328.9" rx="4.3" ry="3.7"/><ellipse cx="404.6" cy="1363.4" rx="4.3" ry="3.7"/><ellipse cx="371.5" cy="1388.3" rx="4.3" ry="3.7"/><ellipse cx="424.9" cy="1364.7" rx="4.3" ry="3.7"/><ellipse cx="369.2" cy="1351.2" rx="4.3" ry="3.7"/><ellipse cx="407.8" cy="1317.2" rx="4.3" ry="3.7"/><ellipse cx="452.7" cy="1327.9" rx="4.3" ry="3.7"/><ellipse cx="479.3" cy="1331.5" rx="4.3" ry="3.7"/><ellipse cx="459.2" cy="1366.7" rx="4.3" ry="3.7"/><ellipse cx="449.7" cy="1325.9" rx="4.3" ry="3.7"/><ellipse cx="409.4" cy="1398.8" rx="4.3" ry="3.7"/><ellipse cx="389.9" cy="1356.4" rx="4.3" ry="3.7"/><ellipse cx="403.6" cy="1375.1" rx="4.3" ry="3.7"/><ellipse cx="465.8" cy="1332.3" rx="4.3" ry="3.7"/><ellipse cx="356.6" cy="1378.9" rx="4.3" ry="3.7"/><ellipse cx="448.3" cy="1367.6" rx="4.3" ry="3.7"/><ellipse cx="369.4" cy="1355.5" rx="4.3" ry="3.7"/><ellipse cx="428.0" cy="1344.3" rx="4.3" ry="3.7"/><ellipse cx="439.6" cy="1378.3" rx="4.3" ry="3.7"/><ellipse cx="449.1" cy="1399.9" rx="4.3" ry="3.7"/><ellipse cx="443.0" cy="1388.9" rx="4.3" ry="3.7"/><ellipse cx="394.6" cy="1398.7" rx="4.3" ry="3.7"/><ellipse cx="388.4" cy="1356.5" rx="4.3" ry="3.7"/><ellipse cx="439.6" cy="1394.2" rx="4.3" ry="3.7"/><ellipse cx="405.3" cy="1396.7" rx="4.3" ry="3.7"/><ellipse cx="438.0" cy="1362.0" rx="4.3" ry="3.7"/><ellipse cx="463.2" cy="1317.3" rx="4.3" ry="3.7"/><ellipse cx="390.7" cy="1390.2" rx="4.3" ry="3.7"/><ellipse cx="436.3" cy="1384.1" rx="4.3" ry="3.7"/><ellipse cx="456.2" cy="1375.1" rx="4.3" ry="3.7"/><ellipse cx="345.6" cy="1386.0" rx="4.3" ry="3.7"/><ellipse cx="439.6" cy="1343.0" rx="4.3" ry="3.7"/><ellipse cx="485.5" cy="1361.2" rx="4.3" ry="3.7"/><ellipse cx="393.8" cy="1346.0" rx="4.3" ry="3.7"/><ellipse cx="468.7" cy="1317.4" rx="4.3" ry="3.7"/><ellipse cx="357.6" cy="1377.2" rx="4.3" ry="3.7"/><ellipse cx="354.7" cy="1386.9" rx="4.3" ry="3.7"/><ellipse cx="405.6" cy="1381.0" rx="4.3" ry="3.7"/><ellipse cx="431.8" cy="1398.9" rx="4.3" ry="3.7"/><ellipse cx="353.0" cy="1379.3" rx="4.3" ry="3.7"/><ellipse cx="360.2" cy="1399.8" rx="4.3" ry="3.7"/><ellipse cx="450.9" cy="1360.2" rx="4.3" ry="3.7"/><ellipse cx="393.2" cy="1351.3" rx="4.3" ry="3.7"/><ellipse cx="451.0" cy="1390.7" rx="4.3" ry="3.7"/><ellipse cx="430.6" cy="1350.9" rx="4.3" ry="3.7"/><ellipse cx="389.2" cy="1327.2" rx="4.3" ry="3.7"/><ellipse cx="453.3" cy="1377.7" rx="4.3" ry="3.7"/><ellipse cx="372.5" cy="1376.9" rx="4.3" ry="3.7"/><ellipse cx="437.8" cy="1335.9" rx="4.3" ry="3.7"/><ellipse cx="402.4" cy="1339.3" rx="4.3" ry="3.7"/><ellipse cx="381.7" cy="1359.3" rx="4.3" ry="3.7"/><ellipse cx="387.8" cy="1361.8" rx="4.3" ry="3.7"/><ellipse cx="440.7" cy="1365.6" rx="4.3" ry="3.7"/><ellipse cx="465.2" cy="1327.5" rx="4.3" ry="3.7"/><ellipse cx="375.1" cy="1371.6" rx="4.3" ry="3.7"/><ellipse cx="400.4" cy="1334.0" rx="4.3" ry="3.7"/><ellipse cx="381.1" cy="1337.2" rx="4.3" ry="3.7"/><ellipse cx="405.5" cy="1346.9" rx="4.3" ry="3.7"/><ellipse cx="343.0" cy="1386.5" rx="4.3" ry="3.7"/><ellipse cx="417.9" cy="1317.2" rx="4.3" ry="3.7"/><ellipse cx="482.3" cy="1354.9" rx="4.3" ry="3.7"/><ellipse cx="359.3" cy="1358.6" rx="4.3" ry="3.7"/><ellipse cx="437.7" cy="1372.9" rx="4.3" ry="3.7"/><ellipse cx="438.0" cy="1348.4" rx="4.3" ry="3.7"/><ellipse cx="367.1" cy="1345.7" rx="4.3" ry="3.7"/><ellipse cx="381.1" cy="1364.7" rx="4.3" ry="3.7"/><ellipse cx="376.9" cy="1348.7" rx="4.3" ry="3.7"/><ellipse cx="465.9" cy="1332.3" rx="4.3" ry="3.7"/><ellipse cx="383.9" cy="1370.1" rx="4.3" ry="3.7"/><ellipse cx="422.9" cy="1387.8" rx="4.3" ry="3.7"/><ellipse cx="373.1" cy="1361.4" rx="4.3" ry="3.7"/><ellipse cx="378.2" cy="1329.2" rx="4.3" ry="3.7"/><ellipse cx="395.3" cy="1390.6" rx="4.3" ry="3.7"/><ellipse cx="433.5" cy="1361.0" rx="4.3" ry="3.7"/><ellipse cx="354.8" cy="1364.0" rx="4.3" ry="3.7"/><ellipse cx="352.7" cy="1381.1" rx="4.3" ry="3.7"/><ellipse cx="433.1" cy="1361.0" rx="4.3" ry="3.7"/><ellipse cx="406.9" cy="1361.8" rx="4.3" ry="3.7"/><ellipse cx="425.1" cy="1376.5" rx="4.3" ry="3.7"/><ellipse cx="409.4" cy="1336.2" rx="4.3" ry="3.7"/><ellipse cx="374.9" cy="1375.9" rx="4.3" ry="3.7"/><ellipse cx="407.4" cy="1375.7" rx="4.3" ry="3.7"/><ellipse cx="418.3" cy="1395.1" rx="4.3" ry="3.7"/><ellipse cx="396.5" cy="1319.1" rx="4.3" ry="3.7"/><ellipse cx="424.1" cy="1342.6" rx="4.3" ry="3.7"/><ellipse cx="416.5" cy="1322.9" rx="4.3" ry="3.7"/><ellipse cx="410.1" cy="1345.9" rx="4.3" ry="3.7"/><ellipse cx="423.8" cy="1349.2" rx="4.3" ry="3.7"/><ellipse cx="417.9" cy="1383.1" rx="4.3" ry="3.7"/><ellipse cx="398.3" cy="1350.2" rx="4.3" ry="3.7"/><ellipse cx="430.9" cy="1397.0" rx="4.3" ry="3.7"/><ellipse cx="434.0" cy="1385.7" rx="4.3" ry="3.7"/><ellipse cx="345.7" cy="1396.5" rx="4.3" ry="3.7"/><ellipse cx="432.0" cy="1322.5" rx="4.3" ry="3.7"/><ellipse cx="399.1" cy="1370.4" rx="4.3" ry="3.7"/><ellipse cx="383.5" cy="1391.2" rx="4.3" ry="3.7"/><ellipse cx="465.7" cy="1323.2" rx="4.3" ry="3.7"/><ellipse cx="358.5" cy="1390.9" rx="4.3" ry="3.7"/><ellipse cx="415.5" cy="1338.4" rx="4.3" ry="3.7"/><ellipse cx="418.4" cy="1321.1" rx="4.3" ry="3.7"/><ellipse cx="363.8" cy="1356.9" rx="4.3" ry="3.7"/><ellipse cx="348.0" cy="1389.4" rx="4.3" ry="3.7"/><ellipse cx="377.9" cy="1328.4" rx="4.3" ry="3.7"/><ellipse cx="432.0" cy="1355.2" rx="4.3" ry="3.7"/><ellipse cx="362.3" cy="1376.6" rx="4.3" ry="3.7"/><ellipse cx="411.1" cy="1338.3" rx="4.3" ry="3.7"/><ellipse cx="411.2" cy="1325.7" rx="4.3" ry="3.7"/><ellipse cx="421.8" cy="1382.2" rx="4.3" ry="3.7"/><ellipse cx="466.5" cy="1403.5" rx="4.3" ry="3.7"/><ellipse cx="459.0" cy="1391.0" rx="4.3" ry="3.7"/><ellipse cx="462.0" cy="1377.0" rx="4.3" ry="3.7"/><ellipse cx="452.0" cy="1372.0" rx="4.3" ry="3.7"/></g>
<g stroke="#0000ff" stroke-width="1.8" fill="none" stroke-linecap="round">
<line x1="486.4" y1="958.3" x2="513.6" y2="956.7"/>
<line x1="682.7" y1="982.5" x2="667.3" y2="1006"/>
<line x1="456" y1="1044.7" x2="457.1" y2="1072.4"/>
<line x1="566.6" y1="1093.5" x2="562.7" y2="1120"/>
<line x1="568.2" y1="1122.8" x2="582" y2="1152.8"/>
<line x1="489.2" y1="1115.9" x2="503" y2="1136.9"/>
<line x1="389.4" y1="1123.3" x2="374.4" y2="1146.3"/>
<line x1="526.3" y1="1169.1" x2="514.5" y2="1204"/>
<line x1="423.5" y1="1180.6" x2="408.8" y2="1204"/>
<line x1="599.3" y1="1189.4" x2="616" y2="1211.8"/>
<line x1="350.8" y1="1360.9" x2="365.3" y2="1381.6"/>
<line x1="376.9" y1="1403" x2="369.7" y2="1430"/>
<line x1="413.5" y1="1407.6" x2="417.6" y2="1434.6"/>
</g>
<g fill="#0000ff" font-size="17.6">
<text x="516.4" y="963" textLength="54.9" lengthAdjust="spacingAndGlyphs">ANLN</text>
<text x="614.6" y="1020.6" textLength="66.5" lengthAdjust="spacingAndGlyphs">TUBB6</text>
<text x="413.4" y="1049" textLength="38.4" lengthAdjust="spacingAndGlyphs">AXL</text>
<text x="571.2" y="1097.7" textLength="63.8" lengthAdjust="spacingAndGlyphs">IFT122</text>
<text x="586.6" y="1160.4" textLength="54.6" lengthAdjust="spacingAndGlyphs">GFM1</text>
<text x="443.8" y="1112.4" textLength="68.6" lengthAdjust="spacingAndGlyphs">PBRM1</text>
<text x="321.7" y="1161.5" textLength="65.1" lengthAdjust="spacingAndGlyphs">SEPT2</text>
<text x="480.2" y="1218.3" textLength="65" lengthAdjust="spacingAndGlyphs">INSIG1</text>
<text x="364.7" y="1218.7" textLength="57.6" lengthAdjust="spacingAndGlyphs">CAPG</text>
<text x="603.4" y="1226.8" textLength="54.6" lengthAdjust="spacingAndGlyphs">POP7</text>
<text x="317.9" y="1357.9" textLength="44.5" lengthAdjust="spacingAndGlyphs">MYC</text>
<text x="322" y="1438.5" textLength="42.7" lengthAdjust="spacingAndGlyphs">MYB</text>
<text x="421.6" y="1442.7" textLength="48.4" lengthAdjust="spacingAndGlyphs">JAG1</text>
</g>
<path d="M149.8 923 V1585.6 H708.5" fill="none" stroke="#000" stroke-width="2.8"/>
<g font-size="24.6">
<text x="83.5" y="1018.2">10<tspan font-size="16.5" dy="-7.5" dx="0.5">-6</tspan></text>
<text x="83.5" y="1210">10<tspan font-size="16.5" dy="-7.5" dx="0.5">-4</tspan></text>
<text x="83.5" y="1406">10<tspan font-size="16.5" dy="-7.5" dx="0.5">-2</tspan></text>
<text x="83.5" y="1597.5">10<tspan font-size="16.5" dy="-7.5" dx="0.5">-0</tspan></text>
<text x="135.9" y="1619.6" text-anchor="middle">-0.5</text>
<text x="259.9" y="1619.6" text-anchor="middle">0.0</text>
<text x="379" y="1619.6" text-anchor="middle">0.5</text>
<text x="507.4" y="1619.6" text-anchor="middle">1.0</text>
<text x="625.6" y="1619.6" text-anchor="middle">1.5</text>
</g>
<text x="425.6" y="1657" font-size="29" text-anchor="middle">Average log2 fold-change</text>
<text transform="translate(58.2 1268.7) rotate(-90)" font-size="29.6" text-anchor="middle">p value</text>
<text x="407.8" y="885.6" font-size="32.6" font-weight="bold" text-anchor="middle">HMSC DEGs by HPV Status</text>
<text x="-2.5" y="882" font-size="53" font-weight="bold">C</text>
<rect x="580.3" y="1309.7" width="321.9" height="123.8" fill="#fff" stroke="#333" stroke-width="1.2"/>
<g font-size="25.4">
<text x="606" y="1340.6">Significant DEG</text>
<text x="605.6" y="1372">(FDR&lt;0.1, |FC| &gt; 1.25)</text>
<text x="887.6" y="1419" text-anchor="end">Genes up in HPVon</text>
</g>
</g>
<g id="pD">
<defs><linearGradient id="fdrg" x1="0" y1="0" x2="0" y2="1"><stop offset="0" stop-color="#e53935"/><stop offset="0.33" stop-color="#b04245"/><stop offset="0.69" stop-color="#5d4a55"/><stop offset="1" stop-color="#17475e"/></linearGradient></defs>
<rect x="1126.6" y="927.7" width="362.3" height="728" fill="#ebebeb"/>
<g stroke="#fff" fill="none">
<line x1="1166.4" y1="927.7" x2="1166.4" y2="1655.7" stroke-width="0.9"/>
<line x1="1235.5" y1="927.7" x2="1235.5" y2="1655.7" stroke-width="0.9"/>
<line x1="1307" y1="927.7" x2="1307" y2="1655.7" stroke-width="0.9"/>
<line x1="1379" y1="927.7" x2="1379" y2="1655.7" stroke-width="0.9"/>
<line x1="1449" y1="927.7" x2="1449" y2="1655.7" stroke-width="0.9"/>
<line x1="1134.2" y1="927.7" x2="1134.2" y2="1655.7" stroke-width="1.8"/>
<line x1="1198.5" y1="927.7" x2="1198.5" y2="1655.7" stroke-width="1.8"/>
<line x1="1271.1" y1="927.7" x2="1271.1" y2="1655.7" stroke-width="1.8"/>
<line x1="1342" y1="927.7" x2="1342" y2="1655.7" stroke-width="1.8"/>
<line x1="1416.3" y1="927.7" x2="1416.3" y2="1655.7" stroke-width="1.8"/>
<line x1="1484.4" y1="927.7" x2="1484.4" y2="1655.7" stroke-width="1.8"/>
<line x1="1126.6" y1="988.3" x2="1488.9" y2="988.3" stroke-width="1.8"/>
<line x1="1126.6" y1="1089.4" x2="1488.9" y2="1089.4" stroke-width="1.8"/>
<line x1="1126.6" y1="1190.5" x2="1488.9" y2="1190.5" stroke-width="1.8"/>
<line x1="1126.6" y1="1291.8" x2="1488.9" y2="1291.8" stroke-width="1.8"/>
<line x1="1126.6" y1="1393" x2="1488.9" y2="1393" stroke-width="1.8"/>
<line x1="1126.6" y1="1494.2" x2="1488.9" y2="1494.2" stroke-width="1.8"/>
<line x1="1126.6" y1="1595.2" x2="1488.9" y2="1595.2" stroke-width="1.8"/>
</g>
<line x1="1264.9" y1="927.7" x2="1264.9" y2="1655.7" stroke="#000" stroke-width="1.5" stroke-dasharray="1.6 4.2"/>
<circle cx="1472.7" cy="988.3" r="11.2" fill="#e53935"/>
<circle cx="1170.9" cy="1089.4" r="11" fill="#5a4a55"/>
<circle cx="1170.9" cy="1190.5" r="11" fill="#5a4a55"/>
<circle cx="1170.9" cy="1291.8" r="11" fill="#5a4a55"/>
<circle cx="1170.9" cy="1393" r="2.9" fill="#5a4a55"/>
<circle cx="1142.2" cy="1494.2" r="10.4" fill="#17475e"/>
<circle cx="1142.2" cy="1595.2" r="10.4" fill="#17475e"/>
<g stroke="#333" stroke-width="1.4">
<line x1="1489.5" y1="988.3" x2="1493.5" y2="988.3"/>
<line x1="1489.5" y1="1089.4" x2="1493.5" y2="1089.4"/>
<line x1="1489.5" y1="1190.5" x2="1493.5" y2="1190.5"/>
<line x1="1489.5" y1="1291.8" x2="1493.5" y2="1291.8"/>
<line x1="1489.5" y1="1393" x2="1493.5" y2="1393"/>
<line x1="1489.5" y1="1494.2" x2="1493.5" y2="1494.2"/>
<line x1="1489.5" y1="1595.2" x2="1493.5" y2="1595.2"/>
<line x1="1134.2" y1="1655.7" x2="1134.2" y2="1659.7"/>
<line x1="1198.5" y1="1655.7" x2="1198.5" y2="1659.7"/>
<line x1="1271.1" y1="1655.7" x2="1271.1" y2="1659.7"/>
<line x1="1342" y1="1655.7" x2="1342" y2="1659.7"/>
<line x1="1416.3" y1="1655.7" x2="1416.3" y2="1659.7"/>
<line x1="1484.4" y1="1655.7" x2="1484.4" y2="1659.7"/>
</g>
<g font-size="25.2">
<text x="1504.3" y="993.4">HALLMARK_E2F_TARGETS</text>
<text x="1504.3" y="1090.5">HALLMARK_CHOLESETEROL</text>
<text x="1504.3" y="1120.3">HOMOEOSTASIS</text>
<text x="1504.3" y="1189.2">HALLMARK_INTERFERON</text>
<text x="1504.3" y="1219.6">ALPHA_RESPONSE</text>
<text x="1504.3" y="1288.6">HALLMARK_MYC</text>
<text x="1504.3" y="1318.3">TARGETS_V2</text>
<text x="1504.3" y="1388.3">GO_MITOTIC</text>
<text x="1504.3" y="1419.6">CELL_CYCLE</text>
<text x="1504.3" y="1493">HALLMARK_WNT_BETA</text>
<text x="1504.3" y="1523">CATENIN_SIGNALING</text>
<text x="1504.3" y="1588.9">HALLMARK_PI3K_AKT</text>
<text x="1504.3" y="1619.3">MTOR_ SIGNALING</text>
</g>
<g font-size="21.8" text-anchor="middle">
<text x="1128.7" y="1682">0.150</text>
<text x="1197.5" y="1682">0.087</text>
<text x="1266.6" y="1682">0.047</text>
<text x="1338.5" y="1682">0.026</text>
<text x="1412.5" y="1682">0.014</text>
<text x="1479.9" y="1682">0.008</text>
</g>
<text x="1313.3" y="1718.3" font-size="30" text-anchor="middle">FDR</text>
<text x="1304.6" y="919.5" font-size="23.5" text-anchor="middle">Up</text>
<text x="1094.5" y="884" font-size="32.6" font-weight="bold">GSEA for HPVon HMSC Cells</text>
<text x="948.6" y="880.8" font-size="53" font-weight="bold">D</text>
<text x="1076.5" y="1137" font-size="25.5" text-anchor="middle">FDR</text>
<rect x="1074.1" y="1146.6" width="28.3" height="140.7" fill="url(#fdrg)"/>
<g stroke="#d8c8c8" stroke-opacity="0.7" stroke-width="1.2">
<line x1="1074.1" y1="1191.2" x2="1079.7" y2="1191.2"/><line x1="1096.8" y1="1191.2" x2="1102.4" y2="1191.2"/>
<line x1="1074.1" y1="1244.4" x2="1079.7" y2="1244.4"/><line x1="1096.8" y1="1244.4" x2="1102.4" y2="1244.4"/>
</g>
<g font-size="21.6" text-anchor="end"><text x="1064.6" y="1200.2">0.05</text><text x="1064.6" y="1253">0.10</text></g>
<text x="1076.7" y="1335.3" font-size="25.5" text-anchor="middle">NES</text>
<rect x="1074.1" y="1348.4" width="28.3" height="112" fill="#ebebeb"/>
<circle cx="1088" cy="1362.3" r="11.3" fill="#000"/>
<circle cx="1088" cy="1390.6" r="10.2" fill="#000"/>
<circle cx="1088" cy="1418.9" r="8.5" fill="#000"/>
<circle cx="1088" cy="1446.9" r="5.4" fill="#000"/>
<g font-size="21.6" text-anchor="end">
<text x="1064.6" y="1369.2">1.7</text>
<text x="1064.6" y="1398.9">1.6</text>
<text x="1064.6" y="1428">1.5</text>
<text x="1064.6" y="1457">1.4</text>
</g>
</g>
<g id="pE">
<g stroke="#ebebeb" fill="none">
<line x1="83" y1="2359.9" x2="706" y2="2359.9" stroke-width="1.7"/>
<line x1="83" y1="2308.9" x2="706" y2="2308.9" stroke-width="1.7"/>
<line x1="83" y1="2258.0" x2="706" y2="2258.0" stroke-width="1.7"/>
<line x1="83" y1="2207.0" x2="706" y2="2207.0" stroke-width="1.7"/>
<line x1="83" y1="2156.1" x2="706" y2="2156.1" stroke-width="1.7"/>
<line x1="83" y1="2105.1" x2="706" y2="2105.1" stroke-width="1.7"/>
<line x1="83" y1="2054.1" x2="706" y2="2054.1" stroke-width="1.7"/>
<line x1="83" y1="2003.2" x2="706" y2="2003.2" stroke-width="1.7"/>
<line x1="83" y1="1952.2" x2="706" y2="1952.2" stroke-width="1.7"/>
<line x1="83" y1="1901.3" x2="706" y2="1901.3" stroke-width="1.7"/>
<line x1="83" y1="1850.3" x2="706" y2="1850.3" stroke-width="1.7"/>
<line x1="80" y1="2334.4" x2="706" y2="2334.4" stroke-width="0.9" stroke="#f0f0f0"/>
<line x1="80" y1="2283.5" x2="706" y2="2283.5" stroke-width="0.9" stroke="#f0f0f0"/>
<line x1="80" y1="2232.5" x2="706" y2="2232.5" stroke-width="0.9" stroke="#f0f0f0"/>
<line x1="80" y1="2181.5" x2="706" y2="2181.5" stroke-width="0.9" stroke="#f0f0f0"/>
<line x1="80" y1="2130.6" x2="706" y2="2130.6" stroke-width="0.9" stroke="#f0f0f0"/>
<line x1="80" y1="2079.6" x2="706" y2="2079.6" stroke-width="0.9" stroke="#f0f0f0"/>
<line x1="80" y1="2028.7" x2="706" y2="2028.7" stroke-width="0.9" stroke="#f0f0f0"/>
<line x1="80" y1="1977.7" x2="706" y2="1977.7" stroke-width="0.9" stroke="#f0f0f0"/>
<line x1="80" y1="1926.7" x2="706" y2="1926.7" stroke-width="0.9" stroke="#f0f0f0"/>
<line x1="80" y1="1875.8" x2="706" y2="1875.8" stroke-width="0.9" stroke="#f0f0f0"/>
</g>
<rect x="104.8" y="1850.3" width="284.4" height="316.0" fill="#1b9e77" stroke="#111" stroke-width="2.1"/>
<rect x="104.8" y="2166.3" width="284.4" height="193.6" fill="#d95f02" stroke="#111" stroke-width="2.1"/>
<rect x="421.7" y="1850.3" width="284.0" height="422.6" fill="#1b9e77" stroke="#111" stroke-width="2.1"/>
<rect x="421.7" y="2272.9" width="284.0" height="87.0" fill="#d95f02" stroke="#111" stroke-width="2.1"/>
<rect x="220.4" y="1992.2" width="53.2" height="33.6" rx="4" fill="#fff" stroke="#333" stroke-width="1"/>
<text x="247" y="2016.6" font-size="21" text-anchor="middle" textLength="39" lengthAdjust="spacingAndGlyphs">62%</text>
<rect x="220.4" y="2247.4" width="53.2" height="33.6" rx="4" fill="#fff" stroke="#333" stroke-width="1"/>
<text x="247" y="2271.8" font-size="21" text-anchor="middle" textLength="39" lengthAdjust="spacingAndGlyphs">38%</text>
<rect x="537.4" y="2045.0" width="53.2" height="33.6" rx="4" fill="#fff" stroke="#333" stroke-width="1"/>
<text x="564" y="2069.4" font-size="21" text-anchor="middle" textLength="39" lengthAdjust="spacingAndGlyphs">83%</text>
<rect x="537.4" y="2300.7" width="53.2" height="33.6" rx="4" fill="#fff" stroke="#333" stroke-width="1"/>
<text x="564" y="2325.1" font-size="21" text-anchor="middle" textLength="39" lengthAdjust="spacingAndGlyphs">17%</text>
<g font-size="24.6" text-anchor="end">
<text x="80.5" y="2367.5">0%</text>
<text x="80.5" y="2318.1">10%</text>
<text x="80.5" y="2267.2">20%</text>
<text x="80.5" y="2216.2">30%</text>
<text x="80.5" y="2165.3">40%</text>
<text x="80.5" y="2114.3">50%</text>
<text x="80.5" y="2063.3">60%</text>
<text x="80.5" y="2012.4">70%</text>
<text x="80.5" y="1961.4">80%</text>
<text x="80.5" y="1910.5">90%</text>
<text x="84.5" y="1860.1">100%</text>
</g>
<g font-size="30" text-anchor="middle">
<text x="248.8" y="2395.7">(N=29)</text><text x="249.5" y="2431">HPVoff</text>
<text x="561.7" y="2395.7">(N=105)</text><text x="561.4" y="2431">HPVon</text>
<text x="406.5" y="1836" font-size="29.3">p-value = 0.0224</text>
</g>
<text x="408.5" y="1797" font-size="32.6" font-weight="bold" text-anchor="middle">MYB Expression within HMSC</text>
<text x="-2.2" y="1786" font-size="53.5" font-weight="bold">E</text>
<rect x="718.3" y="1977.2" width="33" height="32" fill="#1b9e77" stroke="#222" stroke-width="1.6"/>
<rect x="718.3" y="2013.4" width="33" height="31.6" fill="#d95f02" stroke="#222" stroke-width="1.6"/>
<text x="775.5" y="2004.4" font-size="29.7">MYB+</text><text x="775.5" y="2041.7" font-size="29.7">MYB-</text>
</g>
<g id="pF">
<g stroke="#ebebeb" fill="none">
<line x1="1064" y1="1859.8" x2="1663.5" y2="1859.8" stroke-width="1.6"/>
<line x1="1064" y1="2054.5" x2="1663.5" y2="2054.5" stroke-width="1.6"/>
<line x1="1064" y1="2249.3" x2="1663.5" y2="2249.3" stroke-width="1.6"/>
<line x1="1064" y1="1957.2" x2="1663.5" y2="1957.2" stroke-width="0.9" stroke="#f1f1f1"/>
<line x1="1064" y1="2151.9" x2="1663.5" y2="2151.9" stroke-width="0.9" stroke="#f1f1f1"/>
<line x1="1064" y1="2346.7" x2="1663.5" y2="2346.7" stroke-width="0.9" stroke="#f1f1f1"/>
<line x1="1218.4" y1="1816.5" x2="1218.4" y2="2382.5" stroke-width="1.6"/>
<line x1="1497.3" y1="1816.5" x2="1497.3" y2="2382.5" stroke-width="1.6"/>
</g>
<path d="M1271.5 2140.1 C1275.4 2142.3 1287.8 2148.1 1295.0 2152.9 C1302.2 2157.6 1309.9 2163.7 1314.6 2168.5 C1319.3 2173.4 1320.5 2177.0 1323.4 2182.3 C1326.4 2187.5 1329.1 2194.0 1332.2 2199.9 C1335.3 2205.8 1340.0 2212.9 1342.0 2217.5 C1344.1 2222.1 1344.5 2224.0 1344.4 2227.3 C1344.2 2230.6 1343.4 2233.5 1341.0 2237.1 C1338.7 2240.7 1334.7 2244.9 1330.3 2248.8 C1325.9 2252.8 1321.1 2256.2 1314.6 2260.6 C1308.1 2265.0 1299.3 2270.2 1291.1 2275.3 C1282.9 2280.3 1272.8 2286.2 1265.6 2291.0 C1258.5 2295.7 1252.9 2299.6 1248.0 2303.7 C1243.1 2307.8 1239.4 2311.5 1236.3 2315.4 C1233.2 2319.4 1230.9 2322.9 1229.4 2327.2 C1227.9 2331.4 1227.6 2336.3 1227.5 2340.9 C1227.3 2345.5 1228.2 2351.2 1228.4 2354.6 C1228.7 2358.0 1228.8 2360.3 1228.8 2361.5 L1207.3 2361.5 C1207.3 2360.3 1207.4 2358.0 1207.7 2354.6 C1207.9 2351.2 1209.0 2345.5 1208.8 2340.9 C1208.7 2336.3 1208.4 2331.4 1206.9 2327.2 C1205.4 2322.9 1203.3 2319.4 1200.0 2315.4 C1196.8 2311.5 1192.4 2307.8 1187.3 2303.7 C1182.2 2299.6 1176.9 2295.7 1169.7 2291.0 C1162.5 2286.2 1152.4 2280.3 1144.2 2275.3 C1136.1 2270.2 1127.2 2265.0 1120.7 2260.6 C1114.2 2256.2 1109.5 2252.8 1105.0 2248.8 C1100.6 2244.9 1096.6 2240.7 1094.3 2237.1 C1092.0 2233.5 1091.4 2230.6 1091.3 2227.3 C1091.2 2224.0 1091.7 2222.1 1093.7 2217.5 C1095.6 2212.9 1100.1 2205.8 1103.1 2199.9 C1106.1 2194.0 1109.0 2187.5 1111.9 2182.3 C1114.8 2177.0 1116.0 2173.4 1120.7 2168.5 C1125.4 2163.7 1133.1 2157.6 1140.3 2152.9 C1147.5 2148.1 1159.9 2142.3 1163.8 2140.1 Z" fill="#f8766d" stroke="#333" stroke-width="1.2" stroke-linejoin="round"/>
<path d="M1500.5 1923.5 C1500.4 1927.4 1500.3 1939.2 1500.0 1947.0 C1499.7 1954.8 1499.1 1963.4 1498.8 1970.5 C1498.5 1977.5 1497.6 1983.0 1498.1 1989.3 C1498.7 1995.6 1499.9 2002.2 1502.1 2008.1 C1504.4 2014.0 1507.6 2019.0 1511.5 2024.5 C1515.4 2030.0 1520.5 2035.1 1525.6 2041.0 C1530.7 2046.9 1536.2 2053.5 1542.1 2059.8 C1547.9 2066.0 1556.0 2072.7 1560.9 2078.6 C1565.8 2084.4 1568.5 2089.5 1571.4 2095.0 C1574.4 2100.5 1575.9 2106.0 1578.5 2111.5 C1581.0 2116.9 1583.4 2122.4 1586.7 2127.9 C1590.0 2133.4 1594.2 2139.3 1598.5 2144.4 C1602.8 2149.5 1608.8 2154.2 1612.6 2158.5 C1616.3 2162.8 1619.0 2166.7 1620.8 2170.2 C1622.5 2173.7 1623.3 2176.1 1623.1 2179.6 C1622.9 2183.1 1622.2 2187.0 1619.6 2191.4 C1617.1 2195.7 1612.9 2200.4 1607.9 2205.5 C1602.8 2210.5 1596.1 2216.0 1589.1 2221.9 C1582.0 2227.8 1573.0 2234.4 1565.6 2240.7 C1558.1 2247.0 1551.1 2252.8 1544.4 2259.5 C1537.8 2266.1 1530.9 2274.0 1525.6 2280.6 C1520.3 2287.3 1516.0 2293.6 1512.7 2299.4 C1509.4 2305.3 1507.4 2310.8 1505.6 2315.9 C1503.9 2321.0 1502.9 2326.1 1502.1 2330.0 C1501.3 2333.8 1501.1 2337.4 1500.9 2338.9 L1493.2 2338.9 C1493.0 2337.4 1493.0 2333.8 1492.3 2330.0 C1491.5 2326.1 1490.4 2321.0 1488.5 2315.9 C1486.6 2310.8 1484.4 2305.3 1481.0 2299.4 C1477.6 2293.6 1473.3 2287.3 1468.1 2280.6 C1462.8 2274.0 1455.9 2266.1 1449.3 2259.5 C1442.6 2252.8 1435.4 2247.0 1428.1 2240.7 C1420.9 2234.4 1412.6 2227.8 1405.8 2221.9 C1398.9 2216.0 1392.1 2210.5 1387.0 2205.5 C1381.9 2200.4 1378.0 2195.7 1375.2 2191.4 C1372.5 2187.0 1370.9 2183.1 1370.5 2179.6 C1370.2 2176.1 1371.1 2173.7 1372.9 2170.2 C1374.7 2166.7 1377.4 2162.8 1381.1 2158.5 C1384.8 2154.2 1390.9 2149.5 1395.2 2144.4 C1399.5 2139.3 1403.6 2133.4 1407.0 2127.9 C1410.3 2122.4 1412.6 2116.9 1415.2 2111.5 C1417.7 2106.0 1419.3 2100.5 1422.2 2095.0 C1425.2 2089.5 1427.9 2084.4 1432.8 2078.6 C1437.7 2072.7 1445.7 2066.0 1451.6 2059.8 C1457.5 2053.5 1463.0 2046.9 1468.1 2041.0 C1473.1 2035.1 1478.2 2030.0 1482.2 2024.5 C1486.1 2019.0 1489.3 2014.0 1491.6 2008.1 C1493.8 2002.2 1495.2 1995.6 1495.8 1989.3 C1496.4 1983.0 1495.4 1977.5 1495.1 1970.5 C1494.8 1963.4 1494.2 1954.8 1493.9 1947.0 C1493.6 1939.2 1493.5 1927.4 1493.4 1923.5 Z" fill="#00bfc4" stroke="#333" stroke-width="1.2" stroke-linejoin="round"/>
<g stroke="#333" stroke-width="1.4" fill="#fff">
<line x1="1217.9" y1="2140.5" x2="1217.9" y2="2292"/>
<rect x="1190.4" y="2179" width="55.2" height="72.4"/>
<line x1="1190.4" y1="2219.5" x2="1245.6" y2="2219.5" stroke-width="2.4" stroke="#222"/>
<line x1="1497" y1="2043.3" x2="1497" y2="2287.7"/>
<rect x="1469.3" y="2120.3" width="55.5" height="87"/>
<line x1="1469.3" y1="2171.4" x2="1524.8" y2="2171.4" stroke-width="2.4" stroke="#222"/>
</g>
<g fill="#000"><ellipse cx="1171.6" cy="2140.1" rx="3.9" ry="3.2"/><ellipse cx="1226.5" cy="2159.3" rx="3.9" ry="3.2"/><ellipse cx="1249.4" cy="2154.4" rx="3.9" ry="3.2"/><ellipse cx="1276.4" cy="2151.3" rx="3.9" ry="3.2"/><ellipse cx="1274.8" cy="2160.7" rx="3.9" ry="3.2"/><ellipse cx="1155.4" cy="2178.7" rx="3.9" ry="3.2"/><ellipse cx="1243.1" cy="2177.0" rx="3.9" ry="3.2"/><ellipse cx="1326.4" cy="2177.4" rx="3.9" ry="3.2"/><ellipse cx="1212.8" cy="2188.1" rx="3.9" ry="3.2"/><ellipse cx="1216.7" cy="2189.5" rx="3.9" ry="3.2"/><ellipse cx="1276.8" cy="2189.7" rx="3.9" ry="3.2"/><ellipse cx="1139.7" cy="2214.8" rx="3.9" ry="3.2"/><ellipse cx="1183.8" cy="2212.0" rx="3.9" ry="3.2"/><ellipse cx="1140.9" cy="2224.8" rx="3.9" ry="3.2"/><ellipse cx="1187.3" cy="2226.3" rx="3.9" ry="3.2"/><ellipse cx="1259.8" cy="2219.9" rx="3.9" ry="3.2"/><ellipse cx="1263.7" cy="2217.9" rx="3.9" ry="3.2"/><ellipse cx="1248.6" cy="2235.7" rx="3.9" ry="3.2"/><ellipse cx="1294.0" cy="2238.3" rx="3.9" ry="3.2"/><ellipse cx="1133.8" cy="2240.2" rx="3.9" ry="3.2"/><ellipse cx="1172.0" cy="2253.4" rx="3.9" ry="3.2"/><ellipse cx="1296.0" cy="2251.4" rx="3.9" ry="3.2"/><ellipse cx="1172.6" cy="2263.1" rx="3.9" ry="3.2"/><ellipse cx="1321.5" cy="2264.1" rx="3.9" ry="3.2"/><ellipse cx="1121.3" cy="2270.2" rx="3.9" ry="3.2"/><ellipse cx="1230.4" cy="2291.3" rx="3.9" ry="3.2"/><ellipse cx="1328.3" cy="2292.1" rx="3.9" ry="3.2"/><ellipse cx="1122.3" cy="2361.1" rx="3.9" ry="3.2"/><ellipse cx="1578.0" cy="1923.0" rx="3.9" ry="3.2"/><ellipse cx="1479.1" cy="2045.0" rx="3.9" ry="3.2"/><ellipse cx="1496.7" cy="2043.3" rx="3.9" ry="3.2"/><ellipse cx="1567.4" cy="2047.6" rx="3.9" ry="3.2"/><ellipse cx="1422.2" cy="2054.1" rx="3.9" ry="3.2"/><ellipse cx="1605.5" cy="2064.5" rx="3.9" ry="3.2"/><ellipse cx="1435.4" cy="2067.8" rx="3.9" ry="3.2"/><ellipse cx="1411.2" cy="2078.3" rx="3.9" ry="3.2"/><ellipse cx="1523.3" cy="2075.5" rx="3.9" ry="3.2"/><ellipse cx="1527.3" cy="2076.2" rx="3.9" ry="3.2"/><ellipse cx="1559.5" cy="2077.4" rx="3.9" ry="3.2"/><ellipse cx="1608.6" cy="2082.1" rx="3.9" ry="3.2"/><ellipse cx="1463.4" cy="2088.4" rx="3.9" ry="3.2"/><ellipse cx="1433.3" cy="2090.1" rx="3.9" ry="3.2"/><ellipse cx="1429.3" cy="2095.5" rx="3.9" ry="3.2"/><ellipse cx="1424.1" cy="2101.1" rx="3.9" ry="3.2"/><ellipse cx="1496.7" cy="2093.1" rx="3.9" ry="3.2"/><ellipse cx="1506.1" cy="2093.8" rx="3.9" ry="3.2"/><ellipse cx="1533.1" cy="2094.1" rx="3.9" ry="3.2"/><ellipse cx="1543.5" cy="2091.7" rx="3.9" ry="3.2"/><ellipse cx="1553.3" cy="2099.7" rx="3.9" ry="3.2"/><ellipse cx="1401.1" cy="2103.5" rx="3.9" ry="3.2"/><ellipse cx="1529.8" cy="2105.4" rx="3.9" ry="3.2"/><ellipse cx="1417.1" cy="2114.3" rx="3.9" ry="3.2"/><ellipse cx="1451.6" cy="2111.9" rx="3.9" ry="3.2"/><ellipse cx="1441.5" cy="2119.0" rx="3.9" ry="3.2"/><ellipse cx="1465.7" cy="2120.4" rx="3.9" ry="3.2"/><ellipse cx="1529.6" cy="2122.0" rx="3.9" ry="3.2"/><ellipse cx="1606.0" cy="2125.1" rx="3.9" ry="3.2"/><ellipse cx="1561.8" cy="2131.7" rx="3.9" ry="3.2"/><ellipse cx="1581.5" cy="2129.6" rx="3.9" ry="3.2"/><ellipse cx="1600.3" cy="2134.0" rx="3.9" ry="3.2"/><ellipse cx="1464.5" cy="2134.3" rx="3.9" ry="3.2"/><ellipse cx="1526.3" cy="2136.1" rx="3.9" ry="3.2"/><ellipse cx="1400.2" cy="2138.7" rx="3.9" ry="3.2"/><ellipse cx="1576.6" cy="2141.3" rx="3.9" ry="3.2"/><ellipse cx="1392.2" cy="2146.2" rx="3.9" ry="3.2"/><ellipse cx="1405.3" cy="2149.1" rx="3.9" ry="3.2"/><ellipse cx="1448.8" cy="2144.1" rx="3.9" ry="3.2"/><ellipse cx="1469.2" cy="2146.7" rx="3.9" ry="3.2"/><ellipse cx="1426.9" cy="2152.6" rx="3.9" ry="3.2"/><ellipse cx="1487.6" cy="2153.1" rx="3.9" ry="3.2"/><ellipse cx="1411.7" cy="2157.8" rx="3.9" ry="3.2"/><ellipse cx="1530.3" cy="2157.3" rx="3.9" ry="3.2"/><ellipse cx="1549.8" cy="2154.9" rx="3.9" ry="3.2"/><ellipse cx="1599.6" cy="2156.8" rx="3.9" ry="3.2"/><ellipse cx="1428.1" cy="2163.9" rx="3.9" ry="3.2"/><ellipse cx="1458.7" cy="2165.0" rx="3.9" ry="3.2"/><ellipse cx="1441.0" cy="2169.0" rx="3.9" ry="3.2"/><ellipse cx="1442.7" cy="2171.9" rx="3.9" ry="3.2"/><ellipse cx="1585.1" cy="2167.2" rx="3.9" ry="3.2"/><ellipse cx="1592.1" cy="2171.9" rx="3.9" ry="3.2"/><ellipse cx="1480.5" cy="2171.6" rx="3.9" ry="3.2"/><ellipse cx="1564.4" cy="2175.4" rx="3.9" ry="3.2"/><ellipse cx="1567.4" cy="2177.3" rx="3.9" ry="3.2"/><ellipse cx="1574.3" cy="2177.7" rx="3.9" ry="3.2"/><ellipse cx="1484.0" cy="2180.1" rx="3.9" ry="3.2"/><ellipse cx="1410.0" cy="2183.6" rx="3.9" ry="3.2"/><ellipse cx="1407.0" cy="2188.3" rx="3.9" ry="3.2"/><ellipse cx="1422.7" cy="2187.1" rx="3.9" ry="3.2"/><ellipse cx="1436.1" cy="2185.5" rx="3.9" ry="3.2"/><ellipse cx="1532.2" cy="2182.4" rx="3.9" ry="3.2"/><ellipse cx="1539.2" cy="2185.0" rx="3.9" ry="3.2"/><ellipse cx="1519.7" cy="2185.2" rx="3.9" ry="3.2"/><ellipse cx="1565.6" cy="2183.6" rx="3.9" ry="3.2"/><ellipse cx="1465.7" cy="2189.5" rx="3.9" ry="3.2"/><ellipse cx="1527.5" cy="2189.5" rx="3.9" ry="3.2"/><ellipse cx="1590.9" cy="2195.6" rx="3.9" ry="3.2"/><ellipse cx="1499.1" cy="2194.6" rx="3.9" ry="3.2"/><ellipse cx="1434.7" cy="2197.0" rx="3.9" ry="3.2"/><ellipse cx="1438.2" cy="2199.1" rx="3.9" ry="3.2"/><ellipse cx="1490.4" cy="2199.6" rx="3.9" ry="3.2"/><ellipse cx="1519.7" cy="2201.5" rx="3.9" ry="3.2"/><ellipse cx="1522.1" cy="2205.0" rx="3.9" ry="3.2"/><ellipse cx="1415.2" cy="2208.3" rx="3.9" ry="3.2"/><ellipse cx="1541.6" cy="2207.8" rx="3.9" ry="3.2"/><ellipse cx="1536.9" cy="2211.3" rx="3.9" ry="3.2"/><ellipse cx="1559.5" cy="2212.0" rx="3.9" ry="3.2"/><ellipse cx="1584.8" cy="2215.3" rx="3.9" ry="3.2"/><ellipse cx="1463.8" cy="2216.7" rx="3.9" ry="3.2"/><ellipse cx="1455.1" cy="2219.8" rx="3.9" ry="3.2"/><ellipse cx="1475.6" cy="2221.7" rx="3.9" ry="3.2"/><ellipse cx="1595.6" cy="2223.3" rx="3.9" ry="3.2"/><ellipse cx="1529.1" cy="2226.8" rx="3.9" ry="3.2"/><ellipse cx="1533.8" cy="2226.6" rx="3.9" ry="3.2"/><ellipse cx="1547.9" cy="2228.9" rx="3.9" ry="3.2"/><ellipse cx="1388.9" cy="2232.9" rx="3.9" ry="3.2"/><ellipse cx="1416.8" cy="2233.2" rx="3.9" ry="3.2"/><ellipse cx="1482.9" cy="2232.7" rx="3.9" ry="3.2"/><ellipse cx="1492.7" cy="2234.1" rx="3.9" ry="3.2"/><ellipse cx="1542.1" cy="2239.3" rx="3.9" ry="3.2"/><ellipse cx="1472.0" cy="2244.5" rx="3.9" ry="3.2"/><ellipse cx="1408.8" cy="2251.0" rx="3.9" ry="3.2"/><ellipse cx="1585.5" cy="2253.4" rx="3.9" ry="3.2"/><ellipse cx="1594.2" cy="2257.6" rx="3.9" ry="3.2"/><ellipse cx="1539.7" cy="2267.5" rx="3.9" ry="3.2"/><ellipse cx="1426.5" cy="2272.2" rx="3.9" ry="3.2"/><ellipse cx="1576.8" cy="2274.5" rx="3.9" ry="3.2"/><ellipse cx="1593.3" cy="2274.8" rx="3.9" ry="3.2"/><ellipse cx="1433.5" cy="2288.4" rx="3.9" ry="3.2"/><ellipse cx="1572.1" cy="2339.1" rx="3.9" ry="3.2"/></g>
<path d="M1218.4 1911.5 V1897.6 H1497.3 V1911.5" fill="none" stroke="#555" stroke-width="1.3"/>
<text x="1350.2" y="1889.4" font-size="29.7" text-anchor="middle">p = 6.4e-06</text>
<g font-size="24.6" text-anchor="end"><text x="1039.5" y="1872.7">4</text><text x="1041.5" y="2067.6">3</text><text x="1041.5" y="2262.4">2</text></g>
<g font-size="30" text-anchor="middle"><text x="1220.9" y="2412.4">HPVoff</text><text x="1502.3" y="2412.4">HPVon</text></g>
<text transform="translate(1003 2099) rotate(-90)" font-size="29" text-anchor="middle">MYB target score</text>
<text x="1039.6" y="1796" font-size="32.6" font-weight="bold">Downstream MYB targets within HMSC</text>
<text x="948" y="1785" font-size="53" font-weight="bold">F</text>
<rect x="1688.2" y="1983.6" width="31" height="32.4" fill="#00bfc4" stroke="#444" stroke-width="1.6"/>
<rect x="1688.2" y="2019.5" width="31" height="32.8" fill="#f8766d" stroke="#444" stroke-width="1.6"/>
<text x="1750.9" y="2009.1" font-size="29.8">HPVon</text><text x="1750.9" y="2050.1" font-size="29.8">HPVoff</text>
</g>
</svg>
</body></html>
